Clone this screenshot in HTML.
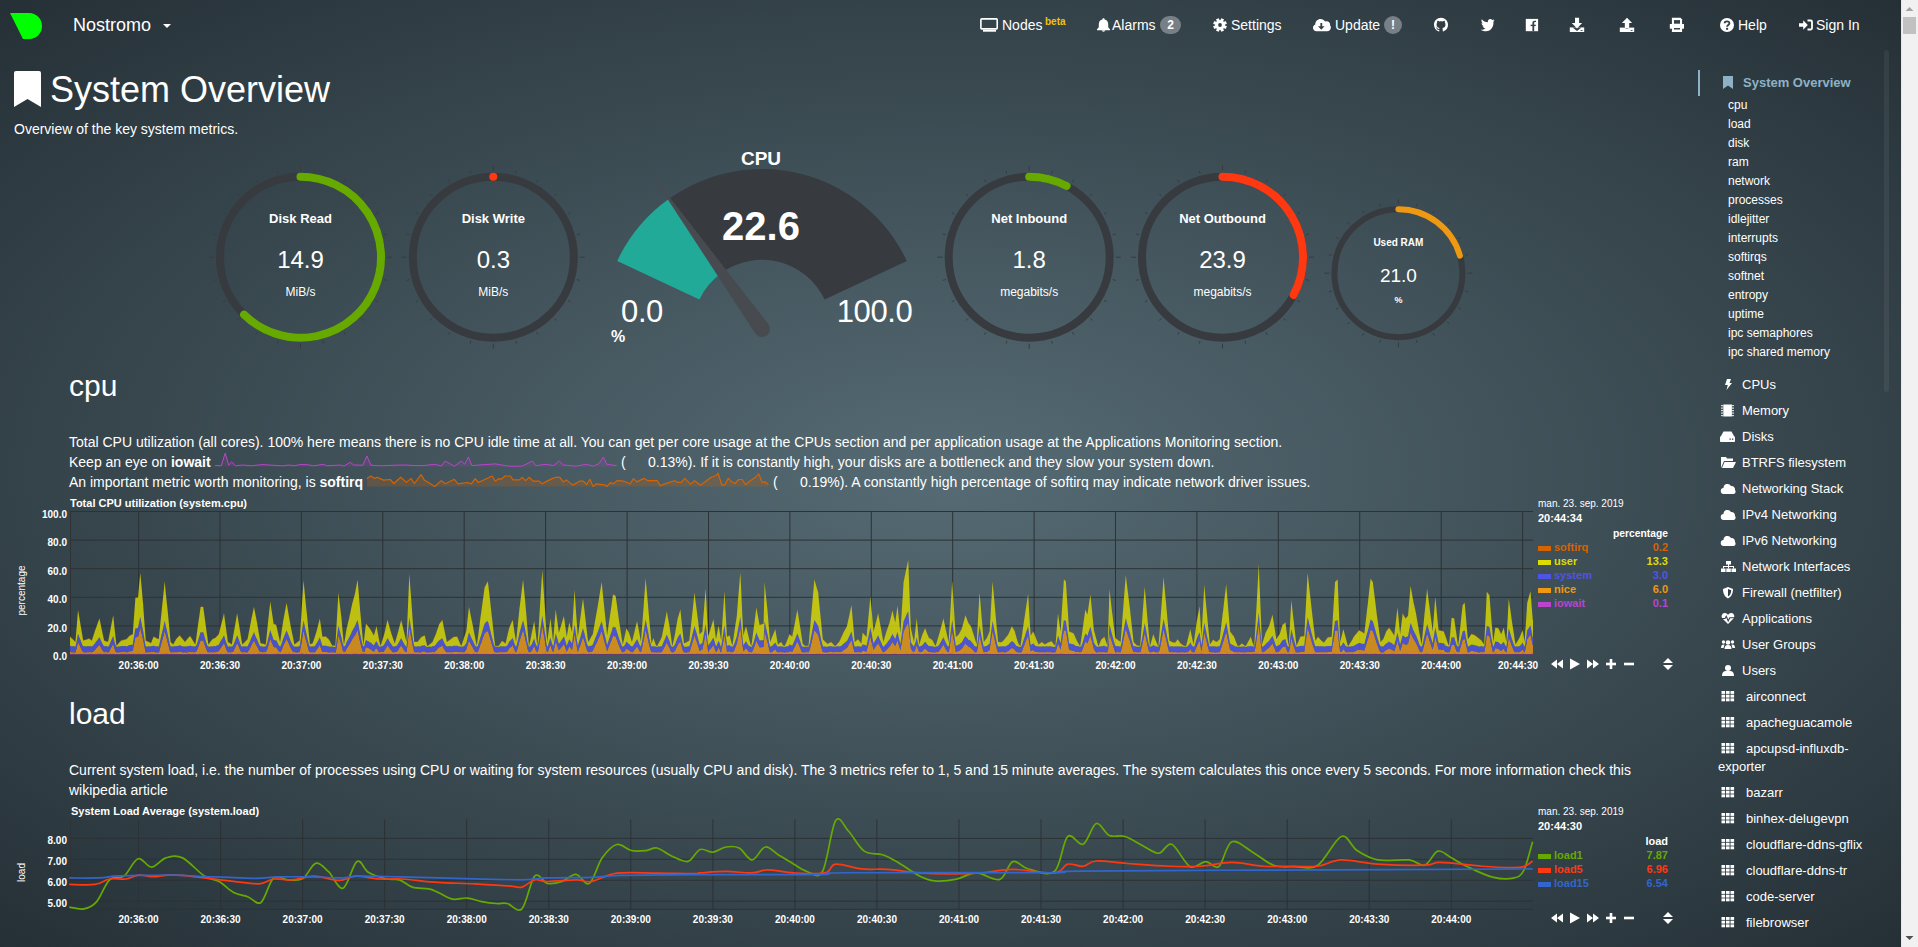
<!DOCTYPE html><html><head><meta charset="utf-8"><style>
html,body{margin:0;padding:0;width:1918px;height:947px;overflow:hidden;background:#272b30;}
body{font-family:"Liberation Sans", sans-serif;position:relative;}
#bg{position:absolute;left:0;top:0;width:1901px;height:947px;background:radial-gradient(ellipse farthest-corner at 50% 50%, rgb(86,107,116) 0%, rgb(37,48,54) 100%);}
.t{position:absolute;white-space:nowrap;}
svg{position:absolute;overflow:visible;}
#sb{position:absolute;left:1901px;top:0;width:17px;height:947px;background:#f1f1f1;}
</style></head><body><div id="bg"></div>
<svg style="left:0;top:0" width="60" height="50"><path d="M10,13 L29.2,13 A12.8,13 0 0 1 29.2,39 L23,39 Z" fill="#00ff00"/></svg>
<div class="t" style="left:73px;top:15px;font-size:18px;line-height:20px;font-weight:normal;color:#fff;">Nostromo</div>
<svg style="left:0;top:0" width="200" height="50"><path d="M163,24 L171,24 L167,28 Z" fill="#fff"/></svg>
<svg style="left:0;top:0" width="1901" height="50"><rect x="980.9" y="18.9" width="16.3" height="10" rx="0.8" fill="none" stroke="#fff" stroke-width="1.6"/><rect x="983" y="29.8" width="13" height="1.9" fill="#fff"/><path d="M1103.5,18.2 C1104.3,18.2 1104.6,18.8 1104.6,19.4 C1106.8,19.9 1108.2,21.6 1108.2,24 L1108.2,26.6 C1108.2,27.6 1109,28.4 1110,29.2 L1110,30.2 L1097,30.2 L1097,29.2 C1098,28.4 1098.8,27.6 1098.8,26.6 L1098.8,24 C1098.8,21.6 1100.2,19.9 1102.4,19.4 C1102.4,18.8 1102.7,18.2 1103.5,18.2 Z M1101.8,30.6 L1105.2,30.6 C1105.2,31.3 1104.4,31.8 1103.5,31.8 C1102.6,31.8 1101.8,31.3 1101.8,30.6 Z" fill="#fff"/><rect x="1218.5" y="18.2" width="3" height="3" fill="#fff" transform="rotate(22.5 1220 25)"/><rect x="1218.5" y="18.2" width="3" height="3" fill="#fff" transform="rotate(67.5 1220 25)"/><rect x="1218.5" y="18.2" width="3" height="3" fill="#fff" transform="rotate(112.5 1220 25)"/><rect x="1218.5" y="18.2" width="3" height="3" fill="#fff" transform="rotate(157.5 1220 25)"/><rect x="1218.5" y="18.2" width="3" height="3" fill="#fff" transform="rotate(202.5 1220 25)"/><rect x="1218.5" y="18.2" width="3" height="3" fill="#fff" transform="rotate(247.5 1220 25)"/><rect x="1218.5" y="18.2" width="3" height="3" fill="#fff" transform="rotate(292.5 1220 25)"/><rect x="1218.5" y="18.2" width="3" height="3" fill="#fff" transform="rotate(337.5 1220 25)"/><circle cx="1220" cy="25" r="4.9" fill="#fff"/><circle cx="1220" cy="25" r="1.9" fill="#33424a"/><path d="M1316.5,31.3 C1314.5,31.3 1313,29.8 1313,27.8 C1313,26.3 1314,25 1315.3,24.6 C1315.3,24.4 1315.3,24.3 1315.3,24.1 C1315.3,21.2 1317.6,18.9 1320.5,18.9 C1322.5,18.9 1324.2,20 1325.1,21.6 C1325.6,21.4 1326.1,21.3 1326.7,21.3 C1328.6,21.3 1330.1,22.8 1330.1,24.7 C1330.1,24.9 1330.1,25 1330,25.2 C1330.5,25.7 1330.9,26.5 1330.9,27.5 C1330.9,29.6 1329.2,31.3 1327.1,31.3 Z" fill="#fff"/><path d="M1320.4,23 L1322.2,23 L1322.2,26.3 L1324.6,26.3 L1321.3,29.8 L1318,26.3 L1320.4,26.3 Z" fill="#33424a"/><g transform="translate(1434,17.8) scale(0.875)"><path fill="#fff" d="M8 0C3.58 0 0 3.58 0 8c0 3.54 2.29 6.53 5.47 7.59.4.07.55-.17.55-.38 0-.19-.01-.82-.01-1.49-2.01.37-2.53-.49-2.69-.94-.09-.23-.48-.94-.82-1.13-.28-.15-.68-.52-.01-.53.63-.01 1.08.58 1.23.82.72 1.210 1.87.87 2.33.66.07-.52.28-.87.51-1.07-1.78-.2-3.64-.89-3.64-3.95 0-.87.31-1.59.82-2.15-.08-.2-.36-1.02.08-2.120 0 0 .67-.21 2.2.82.64-.18 1.32-.27 2-.27.68 0 1.36.09 2 .27 1.53-1.04 2.2-.82 2.2-.82.44 1.100.16 1.92.08 2.12.51.56.82 1.27.82 2.15 0 3.07-1.87 3.75-3.65 3.95.29.25.54.73.54 1.48 0 1.07-.01 1.93-.01 2.2 0 .21.15.46.55.38A8.013 8.013 0 0016 8c0-4.42-3.58-8-8-8z"/></g><path d="M1494.5,20.3 C1494,20.6 1493.4,20.8 1492.8,20.8 C1493.4,20.4 1493.9,19.9 1494.1,19.2 C1493.5,19.5 1492.9,19.8 1492.2,19.9 C1490.6,18.2 1487.6,19.4 1487.8,22.3 C1485.4,22.2 1483.3,21.1 1481.8,19.3 C1481,20.8 1481.6,22.5 1482.9,23.4 C1482.4,23.4 1481.9,23.3 1481.5,23 C1481.5,24.6 1482.6,25.8 1484,26.2 C1483.6,26.3 1483.1,26.4 1482.6,26.3 C1483.1,27.5 1484.2,28.3 1485.5,28.4 C1484.1,29.4 1482.4,29.9 1480.6,29.7 C1488.9,34.5 1494.1,27.8 1493.4,21.8 C1493.9,21.4 1494.3,20.9 1494.5,20.3 Z" fill="#fff"/><rect x="1525.8" y="18.9" width="12.3" height="12.3" fill="#fff"/><path d="M1532.4,31.2 L1532.4,23.2 C1532.4,21.6 1533.3,20.8 1534.8,20.8 L1536,20.8 L1536,22 L1535.2,22 C1534.5,22 1534.2,22.4 1534.2,23 L1534.2,31.2 Z" fill="#33424a"/><rect x="1530.6" y="24.7" width="5.2" height="1.4" fill="#33424a"/><path d="M1569.8,27.4 L1584.2,27.4 L1584.2,32 L1569.8,32 Z" fill="#fff"/><path d="M1572.5,27.4 L1577,31 L1581.5,27.4 Z" fill="#33424a"/><path d="M1575,17.8 L1579.1,17.8 L1579.1,23 L1582.1,23 L1577,28.5 L1571.8,23 L1575,23 Z" fill="#fff"/><rect x="1580.6" y="30" width="2" height="0.8" fill="#33424a"/><path d="M1619.8,27.6 L1634.2,27.6 L1634.2,32 L1619.8,32 Z" fill="#fff"/><path d="M1624,27.6 Q1627,30.5 1630,27.6 Z" fill="#33424a"/><path d="M1627,17.8 L1632.1,23 L1629.2,23 L1629.2,28.5 L1624.8,28.5 L1624.8,23 L1621.9,23 Z" fill="#fff"/><rect x="1630.6" y="30" width="2" height="0.8" fill="#33424a"/><path d="M1671.9,17.8 L1680.5,17.8 L1682.1,19.4 L1682.1,24.1 L1671.9,24.1 Z" fill="#fff"/><rect x="1674" y="20.1" width="6" height="3.6" fill="#33424a"/><path d="M1669.8,24 L1684,24 L1684,28.7 L1669.8,28.7 Z" fill="#fff"/><path d="M1671.9,27.8 L1682.1,27.8 L1682.1,32 L1671.9,32 Z" fill="#fff"/><rect x="1674" y="28" width="6" height="1.5" fill="#33424a"/><circle cx="1727" cy="25" r="7" fill="#fff"/><path d="M1724.6,23.2 C1724.6,20.9 1729.4,20.6 1729.4,23.2 C1729.4,25 1727.1,24.9 1727.1,26.8" fill="none" stroke="#33424a" stroke-width="1.9"/><rect x="1726.1" y="27.8" width="2" height="2" fill="#33424a"/><path d="M1799,23.3 L1803.2,23.3 L1803.2,20.2 L1807.8,25 L1803.2,29.8 L1803.2,26.7 L1799,26.7 Z" fill="#fff"/><path d="M1807.5,20.5 L1810.8,20.5 Q1812,20.5 1812,21.7 L1812,28.3 Q1812,29.5 1810.8,29.5 L1807.5,29.5" fill="none" stroke="#fff" stroke-width="1.8"/></svg>
<div class="t" style="left:1002px;top:17px;font-size:14px;line-height:16px;font-weight:normal;color:#fff;">Nodes</div>
<div class="t" style="left:1045px;top:16px;font-size:10px;line-height:11px;font-weight:bold;color:#f3c10a;">beta</div>
<div class="t" style="left:1112px;top:17px;font-size:14px;line-height:16px;font-weight:normal;color:#fff;">Alarms</div>
<div style="position:absolute;left:1160px;top:16px;width:21px;height:18px;border-radius:9px;background:#777f87;"></div>
<div class="t" style="left:670.5px;width:1000px;text-align:center;top:18px;font-size:12px;line-height:14px;font-weight:bold;color:#fff;">2</div>
<div class="t" style="left:1231px;top:17px;font-size:14px;line-height:16px;font-weight:normal;color:#fff;">Settings</div>
<div class="t" style="left:1335px;top:17px;font-size:14px;line-height:16px;font-weight:normal;color:#fff;">Update</div>
<div style="position:absolute;left:1384px;top:16px;width:18px;height:18px;border-radius:9px;background:#777f87;"></div>
<div class="t" style="left:893px;width:1000px;text-align:center;top:18px;font-size:12px;line-height:14px;font-weight:bold;color:#fff;">!</div>
<div class="t" style="left:1738px;top:17px;font-size:14px;line-height:16px;font-weight:normal;color:#fff;">Help</div>
<div class="t" style="left:1816px;top:17px;font-size:14px;line-height:16px;font-weight:normal;color:#fff;">Sign In</div>
<svg style="left:0;top:0" width="60" height="120"><path d="M14,73 Q14,71 16,71 L39,71 Q41,71 41,73 L41,107 L27.5,99 L14,107 Z" fill="#fff"/></svg>
<div class="t" style="left:50px;top:69px;font-size:36px;line-height:41px;font-weight:normal;color:#fff;">System Overview</div>
<div class="t" style="left:14px;top:121px;font-size:14px;line-height:16px;font-weight:normal;color:#fff;">Overview of the key system metrics.</div>
<svg style="left:0;top:0" width="1" height="1"><line x1="300.50" y1="170.70" x2="300.50" y2="165.70" stroke="#373b40" stroke-width="1"/><line x1="322.89" y1="173.65" x2="323.66" y2="170.75" stroke="#373b40" stroke-width="1"/><line x1="343.75" y1="182.29" x2="345.25" y2="179.69" stroke="#373b40" stroke-width="1"/><line x1="361.66" y1="196.04" x2="363.79" y2="193.91" stroke="#373b40" stroke-width="1"/><line x1="375.41" y1="213.95" x2="378.01" y2="212.45" stroke="#373b40" stroke-width="1"/><line x1="384.05" y1="234.81" x2="386.95" y2="234.04" stroke="#373b40" stroke-width="1"/><line x1="387.00" y1="257.20" x2="392.00" y2="257.20" stroke="#373b40" stroke-width="1"/><line x1="384.05" y1="279.59" x2="386.95" y2="280.36" stroke="#373b40" stroke-width="1"/><line x1="375.41" y1="300.45" x2="378.01" y2="301.95" stroke="#373b40" stroke-width="1"/><line x1="361.66" y1="318.36" x2="363.79" y2="320.49" stroke="#373b40" stroke-width="1"/><line x1="343.75" y1="332.11" x2="345.25" y2="334.71" stroke="#373b40" stroke-width="1"/><line x1="322.89" y1="340.75" x2="323.66" y2="343.65" stroke="#373b40" stroke-width="1"/><line x1="300.50" y1="343.70" x2="300.50" y2="348.70" stroke="#373b40" stroke-width="1"/><line x1="278.11" y1="340.75" x2="277.34" y2="343.65" stroke="#373b40" stroke-width="1"/><line x1="257.25" y1="332.11" x2="255.75" y2="334.71" stroke="#373b40" stroke-width="1"/><line x1="239.34" y1="318.36" x2="237.21" y2="320.49" stroke="#373b40" stroke-width="1"/><line x1="225.59" y1="300.45" x2="222.99" y2="301.95" stroke="#373b40" stroke-width="1"/><line x1="216.95" y1="279.59" x2="214.05" y2="280.36" stroke="#373b40" stroke-width="1"/><line x1="214.00" y1="257.20" x2="209.00" y2="257.20" stroke="#373b40" stroke-width="1"/><line x1="216.95" y1="234.81" x2="214.05" y2="234.04" stroke="#373b40" stroke-width="1"/><line x1="225.59" y1="213.95" x2="222.99" y2="212.45" stroke="#373b40" stroke-width="1"/><line x1="239.34" y1="196.04" x2="237.21" y2="193.91" stroke="#373b40" stroke-width="1"/><line x1="257.25" y1="182.29" x2="255.75" y2="179.69" stroke="#373b40" stroke-width="1"/><line x1="278.11" y1="173.65" x2="277.34" y2="170.75" stroke="#373b40" stroke-width="1"/><circle cx="300.5" cy="257.2" r="80.5" fill="none" stroke="#373b40" stroke-width="8"/><path d="M300.5,176.7 A80.5,80.5 0 1 1 244.08,314.62" stroke="#66AA00" stroke-width="8" stroke-linecap="round" fill="none"/></svg>
<div class="t" style="left:-199.5px;width:1000px;text-align:center;top:211px;font-size:13px;line-height:15px;font-weight:bold;color:#fff;">Disk Read</div>
<div class="t" style="left:-199.5px;width:1000px;text-align:center;top:246px;font-size:24px;line-height:27px;font-weight:normal;color:#fff;">14.9</div>
<div class="t" style="left:-199.5px;width:1000px;text-align:center;top:285px;font-size:12px;line-height:14px;font-weight:normal;color:#fff;">MiB/s</div>
<svg style="left:0;top:0" width="1" height="1"><line x1="493.30" y1="170.70" x2="493.30" y2="165.70" stroke="#373b40" stroke-width="1"/><line x1="515.69" y1="173.65" x2="516.46" y2="170.75" stroke="#373b40" stroke-width="1"/><line x1="536.55" y1="182.29" x2="538.05" y2="179.69" stroke="#373b40" stroke-width="1"/><line x1="554.46" y1="196.04" x2="556.59" y2="193.91" stroke="#373b40" stroke-width="1"/><line x1="568.21" y1="213.95" x2="570.81" y2="212.45" stroke="#373b40" stroke-width="1"/><line x1="576.85" y1="234.81" x2="579.75" y2="234.04" stroke="#373b40" stroke-width="1"/><line x1="579.80" y1="257.20" x2="584.80" y2="257.20" stroke="#373b40" stroke-width="1"/><line x1="576.85" y1="279.59" x2="579.75" y2="280.36" stroke="#373b40" stroke-width="1"/><line x1="568.21" y1="300.45" x2="570.81" y2="301.95" stroke="#373b40" stroke-width="1"/><line x1="554.46" y1="318.36" x2="556.59" y2="320.49" stroke="#373b40" stroke-width="1"/><line x1="536.55" y1="332.11" x2="538.05" y2="334.71" stroke="#373b40" stroke-width="1"/><line x1="515.69" y1="340.75" x2="516.46" y2="343.65" stroke="#373b40" stroke-width="1"/><line x1="493.30" y1="343.70" x2="493.30" y2="348.70" stroke="#373b40" stroke-width="1"/><line x1="470.91" y1="340.75" x2="470.14" y2="343.65" stroke="#373b40" stroke-width="1"/><line x1="450.05" y1="332.11" x2="448.55" y2="334.71" stroke="#373b40" stroke-width="1"/><line x1="432.14" y1="318.36" x2="430.01" y2="320.49" stroke="#373b40" stroke-width="1"/><line x1="418.39" y1="300.45" x2="415.79" y2="301.95" stroke="#373b40" stroke-width="1"/><line x1="409.75" y1="279.59" x2="406.85" y2="280.36" stroke="#373b40" stroke-width="1"/><line x1="406.80" y1="257.20" x2="401.80" y2="257.20" stroke="#373b40" stroke-width="1"/><line x1="409.75" y1="234.81" x2="406.85" y2="234.04" stroke="#373b40" stroke-width="1"/><line x1="418.39" y1="213.95" x2="415.79" y2="212.45" stroke="#373b40" stroke-width="1"/><line x1="432.14" y1="196.04" x2="430.01" y2="193.91" stroke="#373b40" stroke-width="1"/><line x1="450.05" y1="182.29" x2="448.55" y2="179.69" stroke="#373b40" stroke-width="1"/><line x1="470.91" y1="173.65" x2="470.14" y2="170.75" stroke="#373b40" stroke-width="1"/><circle cx="493.3" cy="257.2" r="80.5" fill="none" stroke="#373b40" stroke-width="8"/><path d="M493.3,176.7 L493.31,176.7" stroke="#FE3912" stroke-width="8" stroke-linecap="round" fill="none"/></svg>
<div class="t" style="left:-6.699999999999989px;width:1000px;text-align:center;top:211px;font-size:13px;line-height:15px;font-weight:bold;color:#fff;">Disk Write</div>
<div class="t" style="left:-6.699999999999989px;width:1000px;text-align:center;top:246px;font-size:24px;line-height:27px;font-weight:normal;color:#fff;">0.3</div>
<div class="t" style="left:-6.699999999999989px;width:1000px;text-align:center;top:285px;font-size:12px;line-height:14px;font-weight:normal;color:#fff;">MiB/s</div>
<svg style="left:0;top:0" width="1" height="1"><line x1="1029.20" y1="170.70" x2="1029.20" y2="165.70" stroke="#373b40" stroke-width="1"/><line x1="1051.59" y1="173.65" x2="1052.36" y2="170.75" stroke="#373b40" stroke-width="1"/><line x1="1072.45" y1="182.29" x2="1073.95" y2="179.69" stroke="#373b40" stroke-width="1"/><line x1="1090.36" y1="196.04" x2="1092.49" y2="193.91" stroke="#373b40" stroke-width="1"/><line x1="1104.11" y1="213.95" x2="1106.71" y2="212.45" stroke="#373b40" stroke-width="1"/><line x1="1112.75" y1="234.81" x2="1115.65" y2="234.04" stroke="#373b40" stroke-width="1"/><line x1="1115.70" y1="257.20" x2="1120.70" y2="257.20" stroke="#373b40" stroke-width="1"/><line x1="1112.75" y1="279.59" x2="1115.65" y2="280.36" stroke="#373b40" stroke-width="1"/><line x1="1104.11" y1="300.45" x2="1106.71" y2="301.95" stroke="#373b40" stroke-width="1"/><line x1="1090.36" y1="318.36" x2="1092.49" y2="320.49" stroke="#373b40" stroke-width="1"/><line x1="1072.45" y1="332.11" x2="1073.95" y2="334.71" stroke="#373b40" stroke-width="1"/><line x1="1051.59" y1="340.75" x2="1052.36" y2="343.65" stroke="#373b40" stroke-width="1"/><line x1="1029.20" y1="343.70" x2="1029.20" y2="348.70" stroke="#373b40" stroke-width="1"/><line x1="1006.81" y1="340.75" x2="1006.04" y2="343.65" stroke="#373b40" stroke-width="1"/><line x1="985.95" y1="332.11" x2="984.45" y2="334.71" stroke="#373b40" stroke-width="1"/><line x1="968.04" y1="318.36" x2="965.91" y2="320.49" stroke="#373b40" stroke-width="1"/><line x1="954.29" y1="300.45" x2="951.69" y2="301.95" stroke="#373b40" stroke-width="1"/><line x1="945.65" y1="279.59" x2="942.75" y2="280.36" stroke="#373b40" stroke-width="1"/><line x1="942.70" y1="257.20" x2="937.70" y2="257.20" stroke="#373b40" stroke-width="1"/><line x1="945.65" y1="234.81" x2="942.75" y2="234.04" stroke="#373b40" stroke-width="1"/><line x1="954.29" y1="213.95" x2="951.69" y2="212.45" stroke="#373b40" stroke-width="1"/><line x1="968.04" y1="196.04" x2="965.91" y2="193.91" stroke="#373b40" stroke-width="1"/><line x1="985.95" y1="182.29" x2="984.45" y2="179.69" stroke="#373b40" stroke-width="1"/><line x1="1006.81" y1="173.65" x2="1006.04" y2="170.75" stroke="#373b40" stroke-width="1"/><circle cx="1029.2" cy="257.2" r="80.5" fill="none" stroke="#373b40" stroke-width="8"/><path d="M1029.2,176.7 A80.5,80.5 0 0 1 1066.62,185.93" stroke="#66AA00" stroke-width="8" stroke-linecap="round" fill="none"/></svg>
<div class="t" style="left:529.2px;width:1000px;text-align:center;top:211px;font-size:13px;line-height:15px;font-weight:bold;color:#fff;">Net Inbound</div>
<div class="t" style="left:529.2px;width:1000px;text-align:center;top:246px;font-size:24px;line-height:27px;font-weight:normal;color:#fff;">1.8</div>
<div class="t" style="left:529.2px;width:1000px;text-align:center;top:285px;font-size:12px;line-height:14px;font-weight:normal;color:#fff;">megabits/s</div>
<svg style="left:0;top:0" width="1" height="1"><line x1="1222.50" y1="170.70" x2="1222.50" y2="165.70" stroke="#373b40" stroke-width="1"/><line x1="1244.89" y1="173.65" x2="1245.66" y2="170.75" stroke="#373b40" stroke-width="1"/><line x1="1265.75" y1="182.29" x2="1267.25" y2="179.69" stroke="#373b40" stroke-width="1"/><line x1="1283.66" y1="196.04" x2="1285.79" y2="193.91" stroke="#373b40" stroke-width="1"/><line x1="1297.41" y1="213.95" x2="1300.01" y2="212.45" stroke="#373b40" stroke-width="1"/><line x1="1306.05" y1="234.81" x2="1308.95" y2="234.04" stroke="#373b40" stroke-width="1"/><line x1="1309.00" y1="257.20" x2="1314.00" y2="257.20" stroke="#373b40" stroke-width="1"/><line x1="1306.05" y1="279.59" x2="1308.95" y2="280.36" stroke="#373b40" stroke-width="1"/><line x1="1297.41" y1="300.45" x2="1300.01" y2="301.95" stroke="#373b40" stroke-width="1"/><line x1="1283.66" y1="318.36" x2="1285.79" y2="320.49" stroke="#373b40" stroke-width="1"/><line x1="1265.75" y1="332.11" x2="1267.25" y2="334.71" stroke="#373b40" stroke-width="1"/><line x1="1244.89" y1="340.75" x2="1245.66" y2="343.65" stroke="#373b40" stroke-width="1"/><line x1="1222.50" y1="343.70" x2="1222.50" y2="348.70" stroke="#373b40" stroke-width="1"/><line x1="1200.11" y1="340.75" x2="1199.34" y2="343.65" stroke="#373b40" stroke-width="1"/><line x1="1179.25" y1="332.11" x2="1177.75" y2="334.71" stroke="#373b40" stroke-width="1"/><line x1="1161.34" y1="318.36" x2="1159.21" y2="320.49" stroke="#373b40" stroke-width="1"/><line x1="1147.59" y1="300.45" x2="1144.99" y2="301.95" stroke="#373b40" stroke-width="1"/><line x1="1138.95" y1="279.59" x2="1136.05" y2="280.36" stroke="#373b40" stroke-width="1"/><line x1="1136.00" y1="257.20" x2="1131.00" y2="257.20" stroke="#373b40" stroke-width="1"/><line x1="1138.95" y1="234.81" x2="1136.05" y2="234.04" stroke="#373b40" stroke-width="1"/><line x1="1147.59" y1="213.95" x2="1144.99" y2="212.45" stroke="#373b40" stroke-width="1"/><line x1="1161.34" y1="196.04" x2="1159.21" y2="193.91" stroke="#373b40" stroke-width="1"/><line x1="1179.25" y1="182.29" x2="1177.75" y2="179.69" stroke="#373b40" stroke-width="1"/><line x1="1200.11" y1="173.65" x2="1199.34" y2="170.75" stroke="#373b40" stroke-width="1"/><circle cx="1222.5" cy="257.2" r="80.5" fill="none" stroke="#373b40" stroke-width="8"/><path d="M1222.5,176.7 A80.5,80.5 0 0 1 1293.58,294.99" stroke="#FE3912" stroke-width="8" stroke-linecap="round" fill="none"/></svg>
<div class="t" style="left:722.5px;width:1000px;text-align:center;top:211px;font-size:13px;line-height:15px;font-weight:bold;color:#fff;">Net Outbound</div>
<div class="t" style="left:722.5px;width:1000px;text-align:center;top:246px;font-size:24px;line-height:27px;font-weight:normal;color:#fff;">23.9</div>
<div class="t" style="left:722.5px;width:1000px;text-align:center;top:285px;font-size:12px;line-height:14px;font-weight:normal;color:#fff;">megabits/s</div>
<svg style="left:0;top:0" width="1" height="1"><line x1="1398.40" y1="204.20" x2="1398.40" y2="199.20" stroke="#373b40" stroke-width="1"/><line x1="1416.26" y1="206.55" x2="1417.03" y2="203.65" stroke="#373b40" stroke-width="1"/><line x1="1432.90" y1="213.44" x2="1434.40" y2="210.85" stroke="#373b40" stroke-width="1"/><line x1="1447.19" y1="224.41" x2="1449.31" y2="222.29" stroke="#373b40" stroke-width="1"/><line x1="1458.16" y1="238.70" x2="1460.75" y2="237.20" stroke="#373b40" stroke-width="1"/><line x1="1465.05" y1="255.34" x2="1467.95" y2="254.57" stroke="#373b40" stroke-width="1"/><line x1="1467.40" y1="273.20" x2="1472.40" y2="273.20" stroke="#373b40" stroke-width="1"/><line x1="1465.05" y1="291.06" x2="1467.95" y2="291.83" stroke="#373b40" stroke-width="1"/><line x1="1458.16" y1="307.70" x2="1460.75" y2="309.20" stroke="#373b40" stroke-width="1"/><line x1="1447.19" y1="321.99" x2="1449.31" y2="324.11" stroke="#373b40" stroke-width="1"/><line x1="1432.90" y1="332.96" x2="1434.40" y2="335.55" stroke="#373b40" stroke-width="1"/><line x1="1416.26" y1="339.85" x2="1417.03" y2="342.75" stroke="#373b40" stroke-width="1"/><line x1="1398.40" y1="342.20" x2="1398.40" y2="347.20" stroke="#373b40" stroke-width="1"/><line x1="1380.54" y1="339.85" x2="1379.77" y2="342.75" stroke="#373b40" stroke-width="1"/><line x1="1363.90" y1="332.96" x2="1362.40" y2="335.55" stroke="#373b40" stroke-width="1"/><line x1="1349.61" y1="321.99" x2="1347.49" y2="324.11" stroke="#373b40" stroke-width="1"/><line x1="1338.64" y1="307.70" x2="1336.05" y2="309.20" stroke="#373b40" stroke-width="1"/><line x1="1331.75" y1="291.06" x2="1328.85" y2="291.83" stroke="#373b40" stroke-width="1"/><line x1="1329.40" y1="273.20" x2="1324.40" y2="273.20" stroke="#373b40" stroke-width="1"/><line x1="1331.75" y1="255.34" x2="1328.85" y2="254.57" stroke="#373b40" stroke-width="1"/><line x1="1338.64" y1="238.70" x2="1336.05" y2="237.20" stroke="#373b40" stroke-width="1"/><line x1="1349.61" y1="224.41" x2="1347.49" y2="222.29" stroke="#373b40" stroke-width="1"/><line x1="1363.90" y1="213.44" x2="1362.40" y2="210.85" stroke="#373b40" stroke-width="1"/><line x1="1380.54" y1="206.55" x2="1379.77" y2="203.65" stroke="#373b40" stroke-width="1"/><circle cx="1398.4" cy="273.2" r="64.0" fill="none" stroke="#373b40" stroke-width="6"/><path d="M1398.4,209.2 A64.0,64.0 0 0 1 1459.92,255.56" stroke="#EE9911" stroke-width="6" stroke-linecap="round" fill="none"/></svg>
<div class="t" style="left:898.4000000000001px;width:1000px;text-align:center;top:237px;font-size:10px;line-height:11px;font-weight:bold;color:#fff;">Used RAM</div>
<div class="t" style="left:898.4000000000001px;width:1000px;text-align:center;top:265px;font-size:19px;line-height:21px;font-weight:normal;color:#fff;">21.0</div>
<div class="t" style="left:898.4000000000001px;width:1000px;text-align:center;top:295px;font-size:9px;line-height:10px;font-weight:bold;color:#fff;">%</div>
<svg style="left:0;top:0" width="1" height="1"><path d="M669.06,198.76 A160,160 0 0 1 906.77,260.88 L824.61,299.54 A69.2,69.2 0 0 0 721.81,272.67 Z" fill="#373b40"/><path d="M617.23,260.88 A160,160 0 0 1 669.06,198.76 L721.81,272.67 A69.2,69.2 0 0 0 699.39,299.54 Z" fill="#22AA99"/><circle cx="762" cy="329" r="8" fill="#474b50"/><path d="M755.49,333.65 L648.73,170.27 L768.51,324.35 Z" fill="#474b50"/></svg>
<div class="t" style="left:261px;width:1000px;text-align:center;top:148px;font-size:19px;line-height:21px;font-weight:bold;color:#fff;">CPU</div>
<div class="t" style="left:261px;width:1000px;text-align:center;top:204px;font-size:40px;line-height:44px;font-weight:bold;color:#fff;">22.6</div>
<div class="t" style="left:142px;width:1000px;text-align:center;top:294px;font-size:31px;line-height:35px;font-weight:normal;color:#fff;letter-spacing:-0.4px;">0.0</div>
<div class="t" style="left:374.5px;width:1000px;text-align:center;top:294px;font-size:31px;line-height:35px;font-weight:normal;color:#fff;letter-spacing:-0.4px;">100.0</div>
<div class="t" style="left:611px;top:328px;font-size:16px;line-height:17px;font-weight:bold;color:#fff;">%</div>
<div class="t" style="left:69px;top:369px;font-size:30px;line-height:33px;font-weight:normal;color:#fff;">cpu</div>
<div class="t" style="left:69px;top:434px;font-size:14px;line-height:16px;font-weight:normal;color:#fff;">Total CPU utilization (all cores). 100% here means there is no CPU idle time at all. You can get per core usage at the CPUs section and per application usage at the Applications Monitoring section.</div>
<div class="t" style="left:69px;top:454px;font-size:14px;line-height:16px;font-weight:normal;color:#fff;">Keep an eye on <b>iowait</b></div>
<div class="t" style="left:621px;top:454px;font-size:14px;line-height:16px;font-weight:normal;color:#fff;">(</div>
<div class="t" style="left:648px;top:454px;font-size:14px;line-height:16px;font-weight:normal;color:#fff;">0.13%). If it is constantly high, your disks are a bottleneck and they slow your system down.</div>
<div class="t" style="left:69px;top:474px;font-size:14px;line-height:16px;font-weight:normal;color:#fff;">An important metric worth monitoring, is <b>softirq</b></div>
<div class="t" style="left:773px;top:474px;font-size:14px;line-height:16px;font-weight:normal;color:#fff;">(</div>
<div class="t" style="left:800px;top:474px;font-size:14px;line-height:16px;font-weight:normal;color:#fff;">0.19%). A constantly high percentage of softirq may indicate network driver issues.</div>
<div class="t" style="left:69px;top:697px;font-size:30px;line-height:33px;font-weight:normal;color:#fff;">load</div>
<div class="t" style="left:69px;top:762px;font-size:14px;line-height:16px;font-weight:normal;color:#fff;">Current system load, i.e. the number of processes using CPU or waiting for system resources (usually CPU and disk). The 3 metrics refer to 1, 5 and 15 minute averages. The system calculates this once every 5 seconds. For more information check this</div>
<div class="t" style="left:69px;top:782px;font-size:14px;line-height:16px;font-weight:normal;color:#fff;">wikipedia article</div>
<svg style="left:0;top:0" width="1" height="1"><polygon points="215.1,466.5 215.1,465.4 221.2,465.8 225.2,453.2 228.7,465.2 231.5,461.8 235.6,465.8 242.4,465.0 251.6,465.8 261.9,464.6 282.6,465.8 289.4,465.0 294.0,465.8 299.8,464.6 306.7,464.6 313.5,465.8 323.3,464.4 327.3,465.8 339.9,465.0 343.9,466.1 350.2,462.3 353.7,465.0 362.8,465.2 366.9,456.0 370.9,465.2 381.2,465.8 395.0,465.2 406.4,465.0 414.0,465.6 423.0,465.6 434.8,464.3 441.3,466.0 445.2,461.0 454.3,466.2 461.5,461.0 464.7,464.3 468.4,456.9 471.9,465.6 483.0,464.7 495.4,463.9 501.2,464.9 509.1,466.2 522.1,466.2 532.5,461.0 535.8,465.6 546.2,464.3 553.4,465.6 559.2,461.0 563.2,464.9 575.5,466.2 586.6,464.3 593.1,466.2 599.0,463.6 603.3,457.1 606.8,464.3 616.6,465.6 616.6,466.5" fill="rgba(187,68,204,0.15)"/><polyline points="215.1,465.4 221.2,465.8 225.2,453.2 228.7,465.2 231.5,461.8 235.6,465.8 242.4,465.0 251.6,465.8 261.9,464.6 282.6,465.8 289.4,465.0 294.0,465.8 299.8,464.6 306.7,464.6 313.5,465.8 323.3,464.4 327.3,465.8 339.9,465.0 343.9,466.1 350.2,462.3 353.7,465.0 362.8,465.2 366.9,456.0 370.9,465.2 381.2,465.8 395.0,465.2 406.4,465.0 414.0,465.6 423.0,465.6 434.8,464.3 441.3,466.0 445.2,461.0 454.3,466.2 461.5,461.0 464.7,464.3 468.4,456.9 471.9,465.6 483.0,464.7 495.4,463.9 501.2,464.9 509.1,466.2 522.1,466.2 532.5,461.0 535.8,465.6 546.2,464.3 553.4,465.6 559.2,461.0 563.2,464.9 575.5,466.2 586.6,464.3 593.1,466.2 599.0,463.6 603.3,457.1 606.8,464.3 616.6,465.6" fill="none" stroke="#BB44CC" stroke-width="1.0" stroke-linejoin="round"/></svg>
<svg style="left:0;top:0" width="1" height="1"><polygon points="366.9,486.5 366.9,478.4 370.9,476.1 374.3,478.4 377.2,477.2 383.5,480.1 390.4,479.5 393.8,483.5 400.7,477.2 406.4,482.4 411.0,478.4 414.4,483.5 421.1,474.7 424.3,479.9 434.8,486.5 441.3,480.6 445.2,483.8 454.3,479.3 458.2,483.8 467.4,482.5 471.3,483.8 475.2,478.6 478.4,482.5 492.1,476.0 495.4,481.2 498.6,478.6 501.2,479.3 505.2,476.0 510.4,476.0 513.0,479.9 519.5,479.9 522.1,477.3 525.4,480.6 529.3,477.3 533.2,481.2 539.0,481.2 542.3,483.8 545.6,481.9 552.1,478.6 556.0,477.3 559.9,477.3 563.2,481.9 566.4,479.9 572.9,485.1 579.5,481.2 583.4,481.2 586.6,484.5 589.9,479.3 593.1,486.5 596.4,483.8 605.5,485.1 606.8,486.5 610.7,482.5 613.3,483.8 617.2,480.6 623.8,481.2 630.3,483.8 633.5,478.6 636.8,481.9 644.0,478.4 648.0,480.7 657.2,480.7 660.6,485.8 664.1,484.1 674.4,480.7 677.8,482.4 681.3,482.4 684.7,478.4 690.5,484.1 694.5,480.7 700.8,485.3 704.2,482.4 711.1,477.2 716.3,475.5 718.0,473.2 722.0,485.3 724.9,484.7 728.3,478.4 731.7,481.8 735.2,483.5 738.6,479.5 742.1,479.5 745.5,484.7 748.9,481.8 754.7,477.8 758.7,473.8 762.1,482.4 765.0,481.8 768.4,484.7 768.4,486.5" fill="rgba(214,99,0,0.22)"/><polyline points="366.9,478.4 370.9,476.1 374.3,478.4 377.2,477.2 383.5,480.1 390.4,479.5 393.8,483.5 400.7,477.2 406.4,482.4 411.0,478.4 414.4,483.5 421.1,474.7 424.3,479.9 434.8,486.5 441.3,480.6 445.2,483.8 454.3,479.3 458.2,483.8 467.4,482.5 471.3,483.8 475.2,478.6 478.4,482.5 492.1,476.0 495.4,481.2 498.6,478.6 501.2,479.3 505.2,476.0 510.4,476.0 513.0,479.9 519.5,479.9 522.1,477.3 525.4,480.6 529.3,477.3 533.2,481.2 539.0,481.2 542.3,483.8 545.6,481.9 552.1,478.6 556.0,477.3 559.9,477.3 563.2,481.9 566.4,479.9 572.9,485.1 579.5,481.2 583.4,481.2 586.6,484.5 589.9,479.3 593.1,486.5 596.4,483.8 605.5,485.1 606.8,486.5 610.7,482.5 613.3,483.8 617.2,480.6 623.8,481.2 630.3,483.8 633.5,478.6 636.8,481.9 644.0,478.4 648.0,480.7 657.2,480.7 660.6,485.8 664.1,484.1 674.4,480.7 677.8,482.4 681.3,482.4 684.7,478.4 690.5,484.1 694.5,480.7 700.8,485.3 704.2,482.4 711.1,477.2 716.3,475.5 718.0,473.2 722.0,485.3 724.9,484.7 728.3,478.4 731.7,481.8 735.2,483.5 738.6,479.5 742.1,479.5 745.5,484.7 748.9,481.8 754.7,477.8 758.7,473.8 762.1,482.4 765.0,481.8 768.4,484.7" fill="none" stroke="#D66300" stroke-width="1.2" stroke-linejoin="round"/></svg>
<svg style="left:0;top:0" width="1" height="1"><line x1="70.5" y1="511.5" x2="70.5" y2="654.5" stroke="#2c3236" stroke-width="1"/><line x1="138.6" y1="511.5" x2="138.6" y2="654.5" stroke="#2c3236" stroke-width="1"/><line x1="220.0" y1="511.5" x2="220.0" y2="654.5" stroke="#2c3236" stroke-width="1"/><line x1="301.4" y1="511.5" x2="301.4" y2="654.5" stroke="#2c3236" stroke-width="1"/><line x1="382.8" y1="511.5" x2="382.8" y2="654.5" stroke="#2c3236" stroke-width="1"/><line x1="464.2" y1="511.5" x2="464.2" y2="654.5" stroke="#2c3236" stroke-width="1"/><line x1="545.6" y1="511.5" x2="545.6" y2="654.5" stroke="#2c3236" stroke-width="1"/><line x1="627.1" y1="511.5" x2="627.1" y2="654.5" stroke="#2c3236" stroke-width="1"/><line x1="708.5" y1="511.5" x2="708.5" y2="654.5" stroke="#2c3236" stroke-width="1"/><line x1="789.9" y1="511.5" x2="789.9" y2="654.5" stroke="#2c3236" stroke-width="1"/><line x1="871.3" y1="511.5" x2="871.3" y2="654.5" stroke="#2c3236" stroke-width="1"/><line x1="952.7" y1="511.5" x2="952.7" y2="654.5" stroke="#2c3236" stroke-width="1"/><line x1="1034.1" y1="511.5" x2="1034.1" y2="654.5" stroke="#2c3236" stroke-width="1"/><line x1="1115.5" y1="511.5" x2="1115.5" y2="654.5" stroke="#2c3236" stroke-width="1"/><line x1="1196.9" y1="511.5" x2="1196.9" y2="654.5" stroke="#2c3236" stroke-width="1"/><line x1="1278.3" y1="511.5" x2="1278.3" y2="654.5" stroke="#2c3236" stroke-width="1"/><line x1="1359.7" y1="511.5" x2="1359.7" y2="654.5" stroke="#2c3236" stroke-width="1"/><line x1="1441.2" y1="511.5" x2="1441.2" y2="654.5" stroke="#2c3236" stroke-width="1"/><line x1="1522.6" y1="511.5" x2="1522.6" y2="654.5" stroke="#2c3236" stroke-width="1"/><line x1="70" y1="654.5" x2="1533" y2="654.5" stroke="#2c3236" stroke-width="1"/><line x1="70" y1="625.9" x2="1533" y2="625.9" stroke="#2c3236" stroke-width="1"/><line x1="70" y1="597.3" x2="1533" y2="597.3" stroke="#2c3236" stroke-width="1"/><line x1="70" y1="568.7" x2="1533" y2="568.7" stroke="#2c3236" stroke-width="1"/><line x1="70" y1="540.1" x2="1533" y2="540.1" stroke="#2c3236" stroke-width="1"/><line x1="70" y1="511.5" x2="1533" y2="511.5" stroke="#2c3236" stroke-width="1"/><polygon points="70.0,654.08 70.2,653.90 71.3,654.00 72.7,653.87 74.0,653.86 75.4,654.18 76.8,654.21 78.0,653.73 78.1,654.07 79.5,654.08 80.8,653.64 82.2,653.95 83.2,653.74 83.5,653.94 84.8,653.85 86.2,654.13 87.2,653.85 87.5,653.72 88.9,653.91 89.1,653.79 90.2,653.83 91.6,654.18 91.7,653.78 93.0,653.88 94.3,654.04 95.6,654.20 95.7,653.72 97.0,653.94 98.3,653.80 99.5,653.71 99.7,653.81 101.0,653.69 102.4,653.99 103.8,653.76 104.1,653.96 105.1,653.68 106.5,653.71 107.8,654.16 108.0,654.14 109.2,654.09 110.5,653.66 111.8,653.96 113.2,653.86 114.5,654.04 115.9,653.92 116.5,653.99 117.2,654.01 118.6,653.88 120.0,653.88 121.0,653.70 121.3,653.82 122.7,653.68 124.0,653.72 125.3,653.65 126.3,653.83 126.7,654.12 128.1,653.72 129.4,653.66 129.6,653.70 130.8,653.89 132.1,653.81 132.8,654.09 133.4,653.74 134.8,653.89 135.4,654.05 136.2,654.18 137.5,653.73 138.0,653.65 138.8,654.16 140.2,653.76 140.3,653.98 141.6,654.13 142.9,654.05 143.1,653.77 144.2,653.71 145.6,654.19 145.8,653.86 146.9,654.19 148.3,653.80 149.7,654.02 151.0,653.71 152.3,653.65 153.6,653.92 153.7,653.64 155.1,654.04 156.4,654.17 157.8,653.87 158.8,654.20 159.1,654.10 160.4,653.98 161.8,653.86 161.8,654.12 163.2,654.19 164.5,653.72 164.7,654.03 165.8,653.67 167.2,653.70 167.7,654.00 168.6,653.95 169.9,653.92 170.6,653.85 171.2,653.87 172.6,653.89 173.2,653.86 173.9,653.68 175.3,653.92 176.4,653.97 176.7,653.80 178.0,654.08 179.3,654.04 179.7,653.65 180.7,653.92 182.1,653.90 183.4,654.21 184.8,653.98 184.9,653.88 186.1,654.20 187.4,653.86 188.8,653.85 190.1,654.18 190.2,653.86 191.5,653.95 192.8,653.83 194.2,654.01 195.3,653.81 195.6,653.79 196.9,654.20 198.2,654.18 199.6,653.83 200.6,653.66 200.9,654.07 202.3,653.95 203.2,653.87 203.7,654.03 205.0,654.01 206.3,654.04 207.7,654.00 208.4,653.87 209.1,654.04 210.4,654.00 211.8,653.77 212.3,654.20 213.1,653.89 214.4,653.79 215.6,654.04 215.8,654.09 217.2,653.75 218.5,654.08 218.8,654.11 219.8,653.97 221.2,653.81 222.6,654.16 223.9,654.03 224.0,654.02 225.2,653.74 226.6,653.96 227.9,653.72 227.9,654.12 229.3,654.02 230.7,653.84 231.8,653.71 232.0,653.96 233.3,654.09 234.7,654.14 236.1,653.91 237.1,654.10 237.4,653.75 238.8,653.73 240.1,654.11 241.4,654.05 242.3,653.75 242.8,653.85 244.2,653.75 245.5,654.02 246.8,654.14 247.5,654.05 248.2,653.76 249.6,654.06 250.8,654.02 250.9,653.98 252.2,653.97 253.6,653.98 254.0,653.69 254.9,654.12 256.3,654.21 257.2,653.67 257.6,653.71 259.0,653.65 260.4,653.97 260.5,653.67 261.7,653.68 263.1,654.09 264.4,653.79 265.7,653.74 265.8,653.83 267.1,653.92 268.4,654.05 269.8,654.02 270.3,654.08 271.1,654.18 272.5,653.88 273.6,654.05 273.9,653.75 275.2,654.19 276.2,653.70 276.6,653.82 277.9,653.69 279.2,653.70 280.1,653.70 280.6,653.88 281.9,654.21 283.3,653.79 283.4,654.12 284.6,654.04 286.0,653.83 286.6,653.91 287.4,653.98 288.7,653.68 290.1,653.86 290.5,654.02 291.4,654.07 292.8,653.72 294.1,653.94 294.4,653.77 295.4,654.01 296.8,654.10 298.1,653.91 299.5,653.75 299.6,654.12 300.9,653.76 302.2,653.69 303.5,653.75 303.6,653.74 304.9,654.21 306.2,653.85 306.8,653.72 307.6,654.19 308.9,654.06 310.0,654.06 310.3,653.91 311.6,653.97 312.7,653.94 313.0,653.77 314.4,654.21 315.7,654.18 316.2,654.14 317.1,654.14 318.4,654.17 319.8,653.66 319.8,653.73 321.1,654.16 322.4,653.93 322.4,654.03 323.8,654.03 325.1,654.01 325.6,653.84 326.5,653.88 327.9,654.01 328.9,654.10 329.2,654.03 330.6,654.14 331.9,653.90 332.1,653.80 333.2,654.00 334.6,654.17 335.4,654.11 335.9,654.00 337.3,653.87 338.4,653.77 338.6,654.00 340.0,653.76 341.1,653.86 341.4,653.97 342.7,654.00 343.9,653.93 344.1,653.81 345.4,653.97 346.6,653.82 346.8,653.95 348.1,654.07 349.4,653.91 349.4,653.82 350.8,654.17 352.1,653.97 352.1,653.97 353.5,653.71 354.9,653.68 354.9,654.00 356.2,653.70 357.6,653.76 357.6,654.06 358.9,653.95 360.2,654.14 360.5,653.75 361.6,653.84 362.9,653.71 363.4,653.76 364.3,653.83 365.6,653.79 366.0,653.89 367.0,654.16 368.4,653.88 369.7,654.21 369.9,654.13 371.1,653.77 372.4,654.19 373.8,654.16 373.9,654.16 375.1,653.71 376.4,654.11 376.5,654.20 377.8,653.73 379.1,654.14 380.4,653.73 380.5,653.83 381.9,653.74 383.2,653.67 384.0,653.88 384.6,653.76 385.9,654.19 387.2,653.78 387.6,653.92 388.6,653.80 389.9,654.15 391.1,653.79 391.3,653.68 392.6,654.18 394.0,654.03 394.7,653.89 395.4,653.74 396.7,654.08 397.9,654.11 398.1,654.07 399.4,653.86 400.8,653.78 401.2,653.99 402.1,654.00 403.4,653.99 404.8,654.01 406.1,653.97 406.5,654.17 407.5,653.93 408.9,653.66 409.3,653.98 410.2,653.79 411.6,654.12 412.9,653.82 414.2,653.78 414.3,653.83 415.6,653.92 416.9,653.94 417.8,653.85 418.3,653.70 419.6,654.13 421.0,654.16 421.2,653.79 422.4,653.69 423.7,653.92 424.7,653.96 425.1,653.80 426.4,654.11 427.3,654.06 427.8,654.10 429.1,653.88 430.4,654.03 431.8,654.08 432.5,653.82 433.1,653.67 434.5,654.04 435.8,653.81 435.9,653.98 437.2,653.73 438.6,653.88 439.0,654.06 439.9,654.09 441.2,654.20 442.3,653.94 442.6,654.00 443.9,654.12 445.3,654.01 446.6,654.03 446.9,653.77 448.0,654.13 449.4,653.65 450.4,653.94 450.7,653.87 452.1,653.95 453.4,653.74 453.8,653.74 454.8,653.90 456.1,653.94 457.3,653.80 457.4,653.72 458.8,653.99 460.1,653.79 461.2,653.66 461.5,653.95 462.9,654.08 464.2,654.08 465.6,653.80 466.4,653.83 466.9,653.67 468.2,653.73 469.0,654.08 469.6,654.11 470.9,654.07 472.3,654.11 472.9,653.81 473.6,653.72 475.0,653.70 476.4,654.07 476.8,653.72 477.7,654.03 479.1,653.97 480.4,653.80 480.8,654.16 481.8,654.16 483.1,653.74 484.4,654.05 484.7,654.01 485.8,653.88 487.1,653.83 487.9,654.21 488.5,654.02 489.9,653.96 491.2,653.94 491.5,654.09 492.6,653.88 493.9,653.67 495.1,653.99 495.2,653.90 496.6,654.15 497.9,654.06 498.6,653.83 499.3,654.15 500.6,653.71 502.0,653.69 502.0,654.16 503.4,653.68 504.7,654.00 505.5,653.77 506.1,653.78 507.4,654.04 508.8,653.83 509.1,653.84 510.1,653.75 511.4,654.06 512.7,653.78 512.8,653.66 514.1,653.83 515.5,653.91 516.0,654.15 516.9,653.93 518.2,654.01 519.5,653.80 520.9,653.83 522.2,653.89 523.1,654.11 523.6,653.84 525.0,653.85 526.0,654.11 526.3,653.70 527.6,653.84 529.0,654.14 530.4,653.68 531.7,654.13 533.0,654.02 534.2,653.80 534.4,653.87 535.8,653.90 537.1,653.84 537.4,653.95 538.5,654.04 539.8,654.11 541.1,654.17 542.3,653.80 542.5,653.78 543.9,653.90 545.2,653.79 546.5,654.01 547.2,654.06 547.9,653.99 549.2,653.71 550.5,654.19 550.6,653.93 552.0,654.07 553.1,653.77 553.3,654.01 554.6,654.02 555.7,653.98 556.0,653.90 557.4,653.77 558.7,654.01 558.9,653.73 560.0,654.15 561.4,654.06 562.8,654.16 563.9,654.15 564.1,653.77 565.5,653.80 566.7,654.11 566.8,654.11 568.1,653.98 569.3,653.79 569.5,653.75 570.9,653.79 572.0,653.88 572.2,654.13 573.5,653.99 574.6,654.10 574.9,653.91 576.2,653.89 577.6,654.10 577.8,654.07 579.0,653.77 580.3,654.20 581.6,653.75 583.0,653.70 584.4,653.67 585.7,653.99 587.0,653.90 588.2,653.88 588.4,653.85 589.8,653.66 591.1,653.82 592.5,654.04 592.8,653.72 593.8,653.94 595.1,653.87 595.8,653.80 596.5,654.21 597.9,653.77 598.7,653.84 599.2,653.93 600.5,653.91 601.7,653.95 601.9,654.10 603.2,653.91 604.6,654.19 606.0,653.93 607.1,653.84 607.3,653.96 608.6,653.89 610.0,653.67 610.0,653.70 611.4,654.14 612.7,653.76 613.0,653.86 614.0,654.19 615.4,654.01 615.6,654.08 616.8,654.17 618.1,653.91 619.2,653.68 619.5,654.03 620.8,653.72 622.1,653.82 622.8,654.14 623.5,653.72 624.9,653.87 626.2,653.68 626.4,653.80 627.5,653.79 628.9,654.02 629.1,653.75 630.2,653.68 631.6,653.72 631.9,653.96 633.0,653.78 634.3,653.94 635.6,654.15 637.0,654.19 637.1,654.17 638.4,654.10 639.7,654.12 641.0,653.93 641.0,653.81 642.4,653.91 643.8,653.97 645.1,653.84 645.6,654.04 646.5,653.95 647.8,653.78 648.5,653.98 649.1,654.11 650.5,653.70 651.5,653.80 651.9,654.00 653.2,654.00 653.4,653.91 654.5,653.87 655.9,654.09 656.7,654.21 657.2,654.09 658.6,653.77 660.0,654.13 661.3,653.95 661.9,654.10 662.6,654.09 664.0,654.12 665.4,653.98 666.7,654.12 666.8,654.20 668.0,654.15 669.4,654.12 669.5,653.93 670.8,654.18 672.1,654.20 672.3,653.96 673.5,653.98 674.8,653.81 675.0,654.18 676.1,653.98 677.5,653.99 677.7,654.20 678.9,653.66 680.2,654.09 680.4,654.16 681.5,653.94 682.9,654.12 684.0,653.86 684.2,654.02 685.6,654.14 687.0,654.18 688.3,653.80 689.3,654.06 689.6,653.76 691.0,653.95 692.4,653.68 693.7,654.04 694.5,654.07 695.0,654.06 696.4,653.75 697.8,653.85 699.1,654.02 699.7,654.16 700.5,653.82 701.8,653.66 702.3,653.88 703.1,654.21 704.5,654.20 705.6,654.16 705.9,654.12 707.2,654.19 708.2,654.18 708.5,653.84 709.9,653.70 711.2,654.10 712.6,653.66 713.4,653.94 714.0,653.75 715.3,653.69 716.0,653.68 716.6,654.19 718.0,654.04 718.6,653.87 719.4,653.67 720.7,654.16 721.2,654.05 722.0,653.73 723.4,654.15 724.4,653.99 724.8,654.02 726.1,653.83 727.0,653.68 727.5,654.11 728.8,653.79 729.7,653.79 730.1,653.74 731.5,653.90 732.3,653.69 732.9,654.01 734.2,653.98 735.5,654.08 736.8,653.77 736.9,653.94 738.2,654.06 739.6,654.12 740.3,653.80 741.0,653.87 742.3,653.81 743.3,653.99 743.6,653.94 745.0,654.13 746.0,653.81 746.4,654.20 747.7,653.95 749.0,653.78 750.4,653.83 751.2,654.16 751.8,654.08 753.1,653.73 754.5,653.85 755.8,653.71 756.4,653.72 757.1,653.96 758.5,653.70 759.6,653.79 759.9,654.02 761.2,654.00 762.5,654.17 763.6,653.99 763.9,653.67 764.6,654.15 765.2,653.89 766.6,654.15 767.4,654.17 768.0,653.84 769.3,654.08 770.1,654.19 770.6,654.13 772.0,653.85 773.4,653.88 774.7,654.21 775.3,654.08 776.0,653.66 777.4,654.09 777.9,653.89 778.8,653.97 780.1,653.77 781.1,653.87 781.5,653.76 782.8,653.91 784.1,654.11 784.4,654.11 785.5,654.17 786.9,653.74 788.2,654.15 789.5,654.20 789.6,653.66 790.9,654.10 792.2,653.70 792.2,654.16 793.6,653.95 795.0,654.09 796.3,653.74 797.4,653.86 797.6,653.85 799.0,653.78 800.4,653.72 801.7,654.02 802.7,653.87 803.0,653.96 804.4,654.15 805.6,653.74 805.8,653.87 807.1,653.75 808.5,654.10 808.5,653.91 809.8,653.95 811.1,653.80 811.4,654.17 812.5,654.02 813.9,653.94 814.3,654.17 815.2,653.90 816.5,653.79 817.9,653.97 818.2,653.84 819.2,653.87 820.6,654.09 822.0,654.01 822.8,653.64 823.3,654.02 824.6,653.97 826.0,654.17 827.4,654.09 827.4,654.12 828.7,653.68 830.0,653.80 831.3,653.71 831.4,653.65 832.8,653.86 834.1,653.68 835.2,653.91 835.5,653.97 836.8,653.67 838.1,653.70 839.1,653.67 839.5,653.94 840.9,653.77 842.2,653.98 843.0,653.64 843.5,653.69 844.9,654.05 846.2,653.68 846.9,654.11 847.6,654.16 849.0,653.80 850.3,654.05 851.5,653.92 851.6,653.85 853.0,654.19 854.4,653.79 854.7,654.06 855.7,653.97 857.0,654.02 858.0,653.79 858.4,653.79 859.8,654.05 861.1,654.15 861.3,654.04 862.5,653.98 862.6,654.17 863.8,654.13 865.1,653.78 866.5,653.81 867.9,653.66 869.2,653.65 870.4,653.71 870.5,654.00 871.9,654.12 873.2,654.04 873.6,653.95 874.6,653.91 876.0,653.90 877.3,654.01 878.2,653.73 878.6,654.05 880.0,653.95 881.4,653.71 882.7,653.75 883.4,654.04 884.0,654.08 885.4,653.75 886.4,654.21 886.8,654.14 888.1,653.91 889.5,653.91 889.5,654.12 890.8,654.19 892.1,654.10 892.5,653.77 893.5,653.95 894.9,653.65 895.2,653.76 896.2,653.65 897.5,654.19 897.5,654.11 898.9,654.21 900.2,653.97 900.4,654.02 901.6,654.18 903.0,653.90 903.6,654.16 904.3,654.04 905.6,654.07 907.0,653.76 908.2,653.97 908.4,654.07 909.7,654.19 910.8,653.97 911.0,653.86 912.4,653.83 913.8,653.69 914.0,653.75 915.1,654.07 916.5,654.14 916.7,653.78 917.8,653.76 919.1,653.92 919.3,653.74 920.5,653.90 921.9,654.05 922.2,654.12 923.2,654.20 924.5,653.85 925.1,653.70 925.9,653.70 927.2,653.95 928.6,653.83 929.0,653.68 930.0,653.75 931.3,653.87 932.3,653.98 932.6,653.92 934.0,654.12 935.4,654.11 935.6,653.82 936.7,653.65 938.0,653.90 939.4,653.98 939.5,654.01 940.8,653.95 942.1,653.75 943.4,653.96 943.5,653.67 944.8,654.13 946.1,654.03 947.5,653.92 948.6,653.98 948.9,653.73 950.2,653.74 951.5,653.68 952.2,653.86 952.9,654.20 954.2,653.89 955.6,653.90 955.8,653.94 957.0,654.05 958.3,653.81 958.7,653.69 959.6,654.16 961.0,653.83 961.6,654.00 962.4,653.92 963.7,653.70 965.0,653.66 965.5,653.85 966.4,654.10 967.8,653.69 968.3,654.11 969.1,653.99 970.5,653.74 971.0,654.03 971.8,654.06 973.1,653.67 973.8,653.67 974.5,654.03 975.9,653.99 976.6,654.05 977.2,654.14 978.5,654.07 979.6,653.65 979.9,654.17 981.2,654.08 982.6,654.10 983.8,654.17 984.0,653.91 985.3,653.79 986.6,653.73 986.7,653.85 988.0,653.75 989.4,654.21 989.6,654.05 990.7,653.66 992.0,654.17 992.6,654.06 993.4,653.94 994.8,654.06 995.4,653.90 996.1,654.19 997.5,654.08 998.1,653.67 998.8,654.13 1000.1,653.70 1001.4,654.11 1001.5,653.65 1002.9,653.83 1004.2,653.84 1004.6,654.13 1005.5,654.18 1006.9,653.78 1008.2,654.11 1008.2,654.11 1009.6,653.74 1011.0,653.71 1011.8,654.19 1012.3,653.66 1013.6,653.91 1014.6,654.00 1015.0,654.15 1016.4,653.99 1017.5,653.65 1017.7,654.05 1019.0,654.14 1020.3,654.13 1020.4,654.14 1021.8,654.01 1023.1,653.69 1024.2,654.17 1024.5,654.10 1025.8,653.68 1027.2,653.64 1028.1,653.65 1028.5,654.07 1029.8,654.01 1030.7,653.67 1031.2,653.94 1032.5,653.81 1033.3,654.03 1033.9,654.20 1035.2,654.02 1036.6,653.79 1038.0,653.77 1038.5,653.89 1039.3,653.95 1040.7,653.91 1041.8,653.96 1042.0,653.91 1043.3,653.74 1044.7,654.10 1045.0,653.87 1046.0,653.68 1047.4,653.73 1048.2,654.11 1048.8,653.66 1050.1,653.73 1051.5,654.12 1051.5,654.06 1052.8,654.10 1054.2,654.18 1055.4,653.65 1055.5,653.98 1056.8,653.71 1058.0,654.15 1058.2,654.21 1059.5,653.72 1060.6,653.76 1060.9,653.65 1062.2,653.82 1063.6,653.91 1063.9,653.78 1065.0,654.16 1065.9,653.90 1066.3,653.96 1067.7,654.13 1069.0,653.87 1069.1,654.03 1070.3,653.92 1071.7,654.00 1073.0,654.03 1073.7,654.01 1074.4,653.87 1075.8,653.65 1077.0,653.68 1077.1,653.72 1078.5,653.74 1079.8,654.05 1080.2,653.66 1081.2,654.06 1082.5,654.14 1083.8,653.93 1085.2,653.80 1085.4,654.02 1086.5,653.84 1087.4,654.05 1087.9,653.66 1089.2,653.95 1090.4,653.94 1090.6,653.91 1092.0,653.71 1093.3,653.65 1093.9,653.91 1094.7,653.96 1096.0,653.86 1097.3,654.17 1098.4,653.97 1098.7,653.73 1100.0,653.77 1101.3,654.18 1101.4,653.73 1102.8,653.99 1104.1,653.65 1104.3,654.00 1105.5,654.09 1106.8,653.90 1107.6,653.71 1108.2,653.97 1109.5,653.72 1110.8,653.81 1112.2,654.01 1112.5,654.04 1113.5,653.92 1114.9,653.99 1115.4,654.00 1116.2,653.84 1117.6,653.71 1119.0,653.88 1120.3,654.13 1120.6,654.09 1121.7,654.00 1123.0,653.86 1124.3,654.13 1125.7,654.17 1125.8,654.03 1127.0,654.05 1128.4,654.20 1129.7,653.91 1129.8,653.69 1131.1,653.91 1132.5,653.79 1133.6,653.74 1133.8,653.73 1135.2,653.69 1136.5,653.96 1136.9,653.82 1137.8,654.14 1139.2,653.71 1140.2,654.00 1140.5,653.94 1141.9,653.70 1143.2,654.05 1144.6,654.11 1144.7,653.74 1146.0,653.87 1147.3,654.17 1148.7,654.20 1149.9,654.01 1150.0,654.21 1151.3,653.74 1152.7,654.11 1153.2,654.06 1154.0,653.99 1155.4,653.92 1156.8,653.97 1158.1,653.85 1158.4,653.84 1159.5,653.96 1160.8,654.16 1162.2,653.65 1163.5,653.82 1163.6,654.17 1164.8,653.96 1166.2,653.78 1166.5,653.65 1167.5,654.18 1168.9,654.21 1169.5,653.94 1170.2,653.97 1171.6,653.70 1172.3,653.74 1173.0,654.02 1174.3,653.97 1175.0,653.88 1175.7,653.71 1177.0,654.10 1177.8,653.99 1178.3,654.16 1179.7,653.85 1180.6,654.20 1181.0,653.68 1182.4,653.91 1183.8,653.89 1185.1,654.17 1185.8,654.08 1186.5,653.95 1187.8,653.72 1189.2,653.91 1190.3,654.05 1190.5,653.65 1191.8,653.84 1193.2,653.91 1193.6,654.10 1194.5,654.04 1195.9,653.70 1196.5,654.14 1197.2,653.91 1198.6,653.86 1199.5,654.01 1200.0,653.77 1201.3,653.69 1201.4,653.72 1202.7,653.79 1204.0,654.10 1204.3,654.18 1205.3,653.97 1206.7,654.04 1207.1,654.10 1208.0,653.72 1209.4,654.09 1209.9,653.74 1210.8,653.68 1212.1,654.15 1213.2,653.69 1213.5,653.99 1214.8,654.09 1216.2,654.11 1216.4,654.19 1217.5,653.93 1218.8,653.99 1219.7,653.73 1220.2,653.74 1221.5,654.18 1222.9,653.98 1223.0,653.99 1224.2,654.11 1225.6,654.07 1226.2,654.06 1227.0,653.82 1228.3,654.02 1229.7,654.15 1230.1,654.09 1231.0,653.96 1232.3,653.89 1233.7,654.07 1234.0,653.81 1235.0,654.09 1236.4,653.83 1237.8,653.87 1237.9,654.11 1239.1,653.78 1240.5,653.99 1241.8,653.91 1243.2,653.87 1244.5,653.85 1245.7,653.96 1245.8,654.18 1247.2,653.76 1248.5,653.72 1249.9,653.93 1250.9,653.88 1251.2,654.06 1252.6,653.70 1254.0,653.82 1254.2,654.09 1255.3,653.75 1256.7,653.65 1258.0,654.02 1258.8,653.64 1259.3,653.94 1260.7,654.11 1262.0,653.80 1262.0,654.02 1263.4,653.80 1264.8,653.88 1265.5,654.15 1266.1,653.91 1267.5,653.73 1268.8,653.94 1269.0,653.91 1270.2,653.72 1271.5,653.96 1272.5,653.93 1272.8,653.88 1274.2,653.74 1275.5,654.10 1276.4,654.16 1276.9,653.78 1278.2,653.90 1279.6,654.04 1281.0,653.70 1282.3,653.71 1282.5,653.90 1283.7,653.65 1285.0,653.74 1285.5,653.79 1286.3,654.05 1287.7,654.21 1288.7,653.83 1289.0,653.79 1290.4,654.01 1291.3,653.94 1291.8,653.89 1293.1,654.07 1294.5,653.81 1295.8,653.89 1296.5,653.99 1297.2,654.15 1298.5,653.90 1299.8,654.03 1300.4,653.80 1301.2,654.12 1302.5,653.99 1303.9,654.10 1304.3,653.98 1305.2,653.88 1306.6,654.15 1307.6,654.18 1308.0,653.94 1309.3,654.10 1310.7,653.93 1311.5,654.12 1312.0,654.16 1313.3,653.91 1314.7,653.69 1315.4,653.72 1316.0,653.92 1317.4,653.99 1318.0,654.18 1318.8,654.06 1320.1,654.03 1321.0,653.68 1321.5,654.15 1322.8,653.67 1323.9,653.94 1324.2,653.97 1325.5,654.06 1326.8,653.66 1327.8,654.11 1328.2,653.89 1329.5,653.92 1330.9,654.10 1331.7,654.09 1332.2,653.65 1333.6,653.76 1335.0,653.79 1335.0,653.70 1336.3,654.16 1337.6,653.81 1337.7,653.78 1339.0,654.09 1340.2,653.95 1340.3,653.66 1341.7,654.03 1343.0,653.78 1343.4,654.12 1344.4,653.83 1345.8,654.06 1347.1,653.92 1348.0,654.00 1348.5,653.72 1349.8,653.79 1351.0,653.93 1351.2,653.82 1352.5,653.97 1353.8,653.75 1353.9,654.07 1355.2,653.90 1356.5,653.88 1357.9,653.99 1359.1,654.19 1359.2,654.12 1360.6,653.85 1362.0,654.09 1363.3,653.78 1364.3,653.93 1364.7,653.67 1366.0,653.73 1367.3,653.80 1367.5,654.00 1368.7,654.19 1370.0,653.90 1370.6,653.79 1371.4,653.69 1372.8,654.10 1372.8,654.12 1374.1,653.65 1375.5,653.79 1376.7,653.94 1376.8,653.79 1378.2,654.13 1379.5,653.90 1380.6,653.83 1380.8,653.87 1382.2,654.12 1383.4,654.14 1383.5,653.86 1384.9,653.71 1386.2,654.13 1386.3,654.21 1387.6,654.17 1389.0,653.76 1389.1,653.99 1390.3,653.95 1391.7,653.65 1393.0,653.86 1394.3,654.06 1394.3,653.81 1395.7,654.21 1397.0,654.05 1397.5,653.81 1398.4,654.12 1399.8,654.20 1400.1,653.92 1401.1,654.03 1402.5,653.66 1402.7,654.16 1403.8,653.76 1405.2,653.99 1405.4,653.75 1406.5,653.96 1407.8,653.83 1408.0,654.03 1409.2,654.09 1410.5,653.96 1410.6,653.76 1411.9,654.02 1413.2,654.08 1413.3,653.98 1414.6,654.16 1416.0,654.03 1416.1,653.89 1417.3,653.90 1418.7,653.87 1418.8,654.05 1420.0,654.20 1421.3,654.20 1421.6,654.02 1422.7,654.10 1424.0,653.89 1424.3,654.06 1425.4,653.78 1426.8,653.87 1427.1,653.84 1428.1,653.79 1429.5,653.92 1429.9,653.97 1430.8,654.04 1432.2,654.18 1432.7,653.76 1433.5,653.93 1434.8,654.16 1435.3,653.68 1436.2,653.88 1437.5,653.86 1438.6,653.96 1438.9,654.14 1440.2,653.64 1441.6,654.12 1443.0,654.00 1443.8,653.64 1444.3,654.14 1445.7,653.93 1447.0,653.94 1448.3,654.07 1449.0,653.69 1449.7,653.98 1451.0,654.21 1451.6,653.94 1452.4,654.21 1453.8,653.81 1454.2,653.72 1455.1,653.70 1456.5,654.19 1457.8,653.83 1458.1,654.04 1459.2,653.94 1460.5,654.04 1461.8,654.04 1462.7,654.14 1463.2,653.86 1464.5,654.16 1464.7,653.66 1465.9,654.19 1467.2,653.66 1467.9,654.10 1468.6,654.17 1470.0,653.79 1471.3,653.91 1471.5,653.77 1472.7,653.92 1474.0,653.85 1475.1,654.17 1475.3,653.83 1476.7,653.92 1478.0,653.66 1478.1,654.21 1479.4,654.17 1480.8,653.83 1481.2,653.68 1482.1,653.97 1483.5,653.81 1484.2,653.89 1484.8,653.99 1486.2,653.95 1486.8,653.87 1487.5,654.20 1488.8,654.04 1489.4,653.79 1490.2,654.07 1491.5,653.94 1492.9,654.07 1493.3,654.01 1494.2,653.84 1495.3,653.79 1495.6,653.67 1497.0,653.94 1498.2,654.10 1498.3,654.02 1499.7,654.18 1501.0,654.08 1501.2,653.88 1502.3,653.86 1503.7,654.08 1503.8,654.11 1505.0,654.16 1506.4,654.11 1507.8,653.93 1508.7,654.07 1509.1,653.71 1510.5,653.89 1511.8,654.02 1512.1,653.97 1513.2,654.19 1514.5,653.79 1515.5,653.78 1515.8,654.01 1517.2,653.80 1518.5,654.06 1519.1,654.09 1519.9,654.08 1521.2,654.10 1522.6,653.87 1522.7,653.85 1524.0,653.80 1524.6,654.15 1525.3,653.78 1526.7,653.94 1527.2,654.00 1528.0,653.93 1529.3,653.97 1530.5,654.10 1530.7,653.99 1532.0,653.84 1532.8,653.80 1533.0,653.69 1533.0,654.50 1532.8,654.50 1532.0,654.50 1530.7,654.50 1530.5,654.50 1529.3,654.50 1528.0,654.50 1527.2,654.50 1526.7,654.50 1525.3,654.50 1524.6,654.50 1524.0,654.50 1522.7,654.50 1522.6,654.50 1521.2,654.50 1519.9,654.50 1519.1,654.50 1518.5,654.50 1517.2,654.50 1515.8,654.50 1515.5,654.50 1514.5,654.50 1513.2,654.50 1512.1,654.50 1511.8,654.50 1510.5,654.50 1509.1,654.50 1508.7,654.50 1507.8,654.50 1506.4,654.50 1505.0,654.50 1503.8,654.50 1503.7,654.50 1502.3,654.50 1501.2,654.50 1501.0,654.50 1499.7,654.50 1498.3,654.50 1498.2,654.50 1497.0,654.50 1495.6,654.50 1495.3,654.50 1494.2,654.50 1493.3,654.50 1492.9,654.50 1491.5,654.50 1490.2,654.50 1489.4,654.50 1488.8,654.50 1487.5,654.50 1486.8,654.50 1486.2,654.50 1484.8,654.50 1484.2,654.50 1483.5,654.50 1482.1,654.50 1481.2,654.50 1480.8,654.50 1479.4,654.50 1478.1,654.50 1478.0,654.50 1476.7,654.50 1475.3,654.50 1475.1,654.50 1474.0,654.50 1472.7,654.50 1471.5,654.50 1471.3,654.50 1470.0,654.50 1468.6,654.50 1467.9,654.50 1467.2,654.50 1465.9,654.50 1464.7,654.50 1464.5,654.50 1463.2,654.50 1462.7,654.50 1461.8,654.50 1460.5,654.50 1459.2,654.50 1458.1,654.50 1457.8,654.50 1456.5,654.50 1455.1,654.50 1454.2,654.50 1453.8,654.50 1452.4,654.50 1451.6,654.50 1451.0,654.50 1449.7,654.50 1449.0,654.50 1448.3,654.50 1447.0,654.50 1445.7,654.50 1444.3,654.50 1443.8,654.50 1443.0,654.50 1441.6,654.50 1440.2,654.50 1438.9,654.50 1438.6,654.50 1437.5,654.50 1436.2,654.50 1435.3,654.50 1434.8,654.50 1433.5,654.50 1432.7,654.50 1432.2,654.50 1430.8,654.50 1429.9,654.50 1429.5,654.50 1428.1,654.50 1427.1,654.50 1426.8,654.50 1425.4,654.50 1424.3,654.50 1424.0,654.50 1422.7,654.50 1421.6,654.50 1421.3,654.50 1420.0,654.50 1418.8,654.50 1418.7,654.50 1417.3,654.50 1416.1,654.50 1416.0,654.50 1414.6,654.50 1413.3,654.50 1413.2,654.50 1411.9,654.50 1410.6,654.50 1410.5,654.50 1409.2,654.50 1408.0,654.50 1407.8,654.50 1406.5,654.50 1405.4,654.50 1405.2,654.50 1403.8,654.50 1402.7,654.50 1402.5,654.50 1401.1,654.50 1400.1,654.50 1399.8,654.50 1398.4,654.50 1397.5,654.50 1397.0,654.50 1395.7,654.50 1394.3,654.50 1394.3,654.50 1393.0,654.50 1391.7,654.50 1390.3,654.50 1389.1,654.50 1389.0,654.50 1387.6,654.50 1386.3,654.50 1386.2,654.50 1384.9,654.50 1383.5,654.50 1383.4,654.50 1382.2,654.50 1380.8,654.50 1380.6,654.50 1379.5,654.50 1378.2,654.50 1376.8,654.50 1376.7,654.50 1375.5,654.50 1374.1,654.50 1372.8,654.50 1372.8,654.50 1371.4,654.50 1370.6,654.50 1370.0,654.50 1368.7,654.50 1367.5,654.50 1367.3,654.50 1366.0,654.50 1364.7,654.50 1364.3,654.50 1363.3,654.50 1362.0,654.50 1360.6,654.50 1359.2,654.50 1359.1,654.50 1357.9,654.50 1356.5,654.50 1355.2,654.50 1353.9,654.50 1353.8,654.50 1352.5,654.50 1351.2,654.50 1351.0,654.50 1349.8,654.50 1348.5,654.50 1348.0,654.50 1347.1,654.50 1345.8,654.50 1344.4,654.50 1343.4,654.50 1343.0,654.50 1341.7,654.50 1340.3,654.50 1340.2,654.50 1339.0,654.50 1337.7,654.50 1337.6,654.50 1336.3,654.50 1335.0,654.50 1335.0,654.50 1333.6,654.50 1332.2,654.50 1331.7,654.50 1330.9,654.50 1329.5,654.50 1328.2,654.50 1327.8,654.50 1326.8,654.50 1325.5,654.50 1324.2,654.50 1323.9,654.50 1322.8,654.50 1321.5,654.50 1321.0,654.50 1320.1,654.50 1318.8,654.50 1318.0,654.50 1317.4,654.50 1316.0,654.50 1315.4,654.50 1314.7,654.50 1313.3,654.50 1312.0,654.50 1311.5,654.50 1310.7,654.50 1309.3,654.50 1308.0,654.50 1307.6,654.50 1306.6,654.50 1305.2,654.50 1304.3,654.50 1303.9,654.50 1302.5,654.50 1301.2,654.50 1300.4,654.50 1299.8,654.50 1298.5,654.50 1297.2,654.50 1296.5,654.50 1295.8,654.50 1294.5,654.50 1293.1,654.50 1291.8,654.50 1291.3,654.50 1290.4,654.50 1289.0,654.50 1288.7,654.50 1287.7,654.50 1286.3,654.50 1285.5,654.50 1285.0,654.50 1283.7,654.50 1282.5,654.50 1282.3,654.50 1281.0,654.50 1279.6,654.50 1278.2,654.50 1276.9,654.50 1276.4,654.50 1275.5,654.50 1274.2,654.50 1272.8,654.50 1272.5,654.50 1271.5,654.50 1270.2,654.50 1269.0,654.50 1268.8,654.50 1267.5,654.50 1266.1,654.50 1265.5,654.50 1264.8,654.50 1263.4,654.50 1262.0,654.50 1262.0,654.50 1260.7,654.50 1259.3,654.50 1258.8,654.50 1258.0,654.50 1256.7,654.50 1255.3,654.50 1254.2,654.50 1254.0,654.50 1252.6,654.50 1251.2,654.50 1250.9,654.50 1249.9,654.50 1248.5,654.50 1247.2,654.50 1245.8,654.50 1245.7,654.50 1244.5,654.50 1243.2,654.50 1241.8,654.50 1240.5,654.50 1239.1,654.50 1237.9,654.50 1237.8,654.50 1236.4,654.50 1235.0,654.50 1234.0,654.50 1233.7,654.50 1232.3,654.50 1231.0,654.50 1230.1,654.50 1229.7,654.50 1228.3,654.50 1227.0,654.50 1226.2,654.50 1225.6,654.50 1224.2,654.50 1223.0,654.50 1222.9,654.50 1221.5,654.50 1220.2,654.50 1219.7,654.50 1218.8,654.50 1217.5,654.50 1216.4,654.50 1216.2,654.50 1214.8,654.50 1213.5,654.50 1213.2,654.50 1212.1,654.50 1210.8,654.50 1209.9,654.50 1209.4,654.50 1208.0,654.50 1207.1,654.50 1206.7,654.50 1205.3,654.50 1204.3,654.50 1204.0,654.50 1202.7,654.50 1201.4,654.50 1201.3,654.50 1200.0,654.50 1199.5,654.50 1198.6,654.50 1197.2,654.50 1196.5,654.50 1195.9,654.50 1194.5,654.50 1193.6,654.50 1193.2,654.50 1191.8,654.50 1190.5,654.50 1190.3,654.50 1189.2,654.50 1187.8,654.50 1186.5,654.50 1185.8,654.50 1185.1,654.50 1183.8,654.50 1182.4,654.50 1181.0,654.50 1180.6,654.50 1179.7,654.50 1178.3,654.50 1177.8,654.50 1177.0,654.50 1175.7,654.50 1175.0,654.50 1174.3,654.50 1173.0,654.50 1172.3,654.50 1171.6,654.50 1170.2,654.50 1169.5,654.50 1168.9,654.50 1167.5,654.50 1166.5,654.50 1166.2,654.50 1164.8,654.50 1163.6,654.50 1163.5,654.50 1162.2,654.50 1160.8,654.50 1159.5,654.50 1158.4,654.50 1158.1,654.50 1156.8,654.50 1155.4,654.50 1154.0,654.50 1153.2,654.50 1152.7,654.50 1151.3,654.50 1150.0,654.50 1149.9,654.50 1148.7,654.50 1147.3,654.50 1146.0,654.50 1144.7,654.50 1144.6,654.50 1143.2,654.50 1141.9,654.50 1140.5,654.50 1140.2,654.50 1139.2,654.50 1137.8,654.50 1136.9,654.50 1136.5,654.50 1135.2,654.50 1133.8,654.50 1133.6,654.50 1132.5,654.50 1131.1,654.50 1129.8,654.50 1129.7,654.50 1128.4,654.50 1127.0,654.50 1125.8,654.50 1125.7,654.50 1124.3,654.50 1123.0,654.50 1121.7,654.50 1120.6,654.50 1120.3,654.50 1119.0,654.50 1117.6,654.50 1116.2,654.50 1115.4,654.50 1114.9,654.50 1113.5,654.50 1112.5,654.50 1112.2,654.50 1110.8,654.50 1109.5,654.50 1108.2,654.50 1107.6,654.50 1106.8,654.50 1105.5,654.50 1104.3,654.50 1104.1,654.50 1102.8,654.50 1101.4,654.50 1101.3,654.50 1100.0,654.50 1098.7,654.50 1098.4,654.50 1097.3,654.50 1096.0,654.50 1094.7,654.50 1093.9,654.50 1093.3,654.50 1092.0,654.50 1090.6,654.50 1090.4,654.50 1089.2,654.50 1087.9,654.50 1087.4,654.50 1086.5,654.50 1085.4,654.50 1085.2,654.50 1083.8,654.50 1082.5,654.50 1081.2,654.50 1080.2,654.50 1079.8,654.50 1078.5,654.50 1077.1,654.50 1077.0,654.50 1075.8,654.50 1074.4,654.50 1073.7,654.50 1073.0,654.50 1071.7,654.50 1070.3,654.50 1069.1,654.50 1069.0,654.50 1067.7,654.50 1066.3,654.50 1065.9,654.50 1065.0,654.50 1063.9,654.50 1063.6,654.50 1062.2,654.50 1060.9,654.50 1060.6,654.50 1059.5,654.50 1058.2,654.50 1058.0,654.50 1056.8,654.50 1055.5,654.50 1055.4,654.50 1054.2,654.50 1052.8,654.50 1051.5,654.50 1051.5,654.50 1050.1,654.50 1048.8,654.50 1048.2,654.50 1047.4,654.50 1046.0,654.50 1045.0,654.50 1044.7,654.50 1043.3,654.50 1042.0,654.50 1041.8,654.50 1040.7,654.50 1039.3,654.50 1038.5,654.50 1038.0,654.50 1036.6,654.50 1035.2,654.50 1033.9,654.50 1033.3,654.50 1032.5,654.50 1031.2,654.50 1030.7,654.50 1029.8,654.50 1028.5,654.50 1028.1,654.50 1027.2,654.50 1025.8,654.50 1024.5,654.50 1024.2,654.50 1023.1,654.50 1021.8,654.50 1020.4,654.50 1020.3,654.50 1019.0,654.50 1017.7,654.50 1017.5,654.50 1016.4,654.50 1015.0,654.50 1014.6,654.50 1013.6,654.50 1012.3,654.50 1011.8,654.50 1011.0,654.50 1009.6,654.50 1008.2,654.50 1008.2,654.50 1006.9,654.50 1005.5,654.50 1004.6,654.50 1004.2,654.50 1002.9,654.50 1001.5,654.50 1001.4,654.50 1000.1,654.50 998.8,654.50 998.1,654.50 997.5,654.50 996.1,654.50 995.4,654.50 994.8,654.50 993.4,654.50 992.6,654.50 992.0,654.50 990.7,654.50 989.6,654.50 989.4,654.50 988.0,654.50 986.7,654.50 986.6,654.50 985.3,654.50 984.0,654.50 983.8,654.50 982.6,654.50 981.2,654.50 979.9,654.50 979.6,654.50 978.5,654.50 977.2,654.50 976.6,654.50 975.9,654.50 974.5,654.50 973.8,654.50 973.1,654.50 971.8,654.50 971.0,654.50 970.5,654.50 969.1,654.50 968.3,654.50 967.8,654.50 966.4,654.50 965.5,654.50 965.0,654.50 963.7,654.50 962.4,654.50 961.6,654.50 961.0,654.50 959.6,654.50 958.7,654.50 958.3,654.50 957.0,654.50 955.8,654.50 955.6,654.50 954.2,654.50 952.9,654.50 952.2,654.50 951.5,654.50 950.2,654.50 948.9,654.50 948.6,654.50 947.5,654.50 946.1,654.50 944.8,654.50 943.5,654.50 943.4,654.50 942.1,654.50 940.8,654.50 939.5,654.50 939.4,654.50 938.0,654.50 936.7,654.50 935.6,654.50 935.4,654.50 934.0,654.50 932.6,654.50 932.3,654.50 931.3,654.50 930.0,654.50 929.0,654.50 928.6,654.50 927.2,654.50 925.9,654.50 925.1,654.50 924.5,654.50 923.2,654.50 922.2,654.50 921.9,654.50 920.5,654.50 919.3,654.50 919.1,654.50 917.8,654.50 916.7,654.50 916.5,654.50 915.1,654.50 914.0,654.50 913.8,654.50 912.4,654.50 911.0,654.50 910.8,654.50 909.7,654.50 908.4,654.50 908.2,654.50 907.0,654.50 905.6,654.50 904.3,654.50 903.6,654.50 903.0,654.50 901.6,654.50 900.4,654.50 900.2,654.50 898.9,654.50 897.5,654.50 897.5,654.50 896.2,654.50 895.2,654.50 894.9,654.50 893.5,654.50 892.5,654.50 892.1,654.50 890.8,654.50 889.5,654.50 889.5,654.50 888.1,654.50 886.8,654.50 886.4,654.50 885.4,654.50 884.0,654.50 883.4,654.50 882.7,654.50 881.4,654.50 880.0,654.50 878.6,654.50 878.2,654.50 877.3,654.50 876.0,654.50 874.6,654.50 873.6,654.50 873.2,654.50 871.9,654.50 870.5,654.50 870.4,654.50 869.2,654.50 867.9,654.50 866.5,654.50 865.1,654.50 863.8,654.50 862.6,654.50 862.5,654.50 861.3,654.50 861.1,654.50 859.8,654.50 858.4,654.50 858.0,654.50 857.0,654.50 855.7,654.50 854.7,654.50 854.4,654.50 853.0,654.50 851.6,654.50 851.5,654.50 850.3,654.50 849.0,654.50 847.6,654.50 846.9,654.50 846.2,654.50 844.9,654.50 843.5,654.50 843.0,654.50 842.2,654.50 840.9,654.50 839.5,654.50 839.1,654.50 838.1,654.50 836.8,654.50 835.5,654.50 835.2,654.50 834.1,654.50 832.8,654.50 831.4,654.50 831.3,654.50 830.0,654.50 828.7,654.50 827.4,654.50 827.4,654.50 826.0,654.50 824.6,654.50 823.3,654.50 822.8,654.50 822.0,654.50 820.6,654.50 819.2,654.50 818.2,654.50 817.9,654.50 816.5,654.50 815.2,654.50 814.3,654.50 813.9,654.50 812.5,654.50 811.4,654.50 811.1,654.50 809.8,654.50 808.5,654.50 808.5,654.50 807.1,654.50 805.8,654.50 805.6,654.50 804.4,654.50 803.0,654.50 802.7,654.50 801.7,654.50 800.4,654.50 799.0,654.50 797.6,654.50 797.4,654.50 796.3,654.50 795.0,654.50 793.6,654.50 792.2,654.50 792.2,654.50 790.9,654.50 789.6,654.50 789.5,654.50 788.2,654.50 786.9,654.50 785.5,654.50 784.4,654.50 784.1,654.50 782.8,654.50 781.5,654.50 781.1,654.50 780.1,654.50 778.8,654.50 777.9,654.50 777.4,654.50 776.0,654.50 775.3,654.50 774.7,654.50 773.4,654.50 772.0,654.50 770.6,654.50 770.1,654.50 769.3,654.50 768.0,654.50 767.4,654.50 766.6,654.50 765.2,654.50 764.6,654.50 763.9,654.50 763.6,654.50 762.5,654.50 761.2,654.50 759.9,654.50 759.6,654.50 758.5,654.50 757.1,654.50 756.4,654.50 755.8,654.50 754.5,654.50 753.1,654.50 751.8,654.50 751.2,654.50 750.4,654.50 749.0,654.50 747.7,654.50 746.4,654.50 746.0,654.50 745.0,654.50 743.6,654.50 743.3,654.50 742.3,654.50 741.0,654.50 740.3,654.50 739.6,654.50 738.2,654.50 736.9,654.50 736.8,654.50 735.5,654.50 734.2,654.50 732.9,654.50 732.3,654.50 731.5,654.50 730.1,654.50 729.7,654.50 728.8,654.50 727.5,654.50 727.0,654.50 726.1,654.50 724.8,654.50 724.4,654.50 723.4,654.50 722.0,654.50 721.2,654.50 720.7,654.50 719.4,654.50 718.6,654.50 718.0,654.50 716.6,654.50 716.0,654.50 715.3,654.50 714.0,654.50 713.4,654.50 712.6,654.50 711.2,654.50 709.9,654.50 708.5,654.50 708.2,654.50 707.2,654.50 705.9,654.50 705.6,654.50 704.5,654.50 703.1,654.50 702.3,654.50 701.8,654.50 700.5,654.50 699.7,654.50 699.1,654.50 697.8,654.50 696.4,654.50 695.0,654.50 694.5,654.50 693.7,654.50 692.4,654.50 691.0,654.50 689.6,654.50 689.3,654.50 688.3,654.50 687.0,654.50 685.6,654.50 684.2,654.50 684.0,654.50 682.9,654.50 681.5,654.50 680.4,654.50 680.2,654.50 678.9,654.50 677.7,654.50 677.5,654.50 676.1,654.50 675.0,654.50 674.8,654.50 673.5,654.50 672.3,654.50 672.1,654.50 670.8,654.50 669.5,654.50 669.4,654.50 668.0,654.50 666.8,654.50 666.7,654.50 665.4,654.50 664.0,654.50 662.6,654.50 661.9,654.50 661.3,654.50 660.0,654.50 658.6,654.50 657.2,654.50 656.7,654.50 655.9,654.50 654.5,654.50 653.4,654.50 653.2,654.50 651.9,654.50 651.5,654.50 650.5,654.50 649.1,654.50 648.5,654.50 647.8,654.50 646.5,654.50 645.6,654.50 645.1,654.50 643.8,654.50 642.4,654.50 641.0,654.50 641.0,654.50 639.7,654.50 638.4,654.50 637.1,654.50 637.0,654.50 635.6,654.50 634.3,654.50 633.0,654.50 631.9,654.50 631.6,654.50 630.2,654.50 629.1,654.50 628.9,654.50 627.5,654.50 626.4,654.50 626.2,654.50 624.9,654.50 623.5,654.50 622.8,654.50 622.1,654.50 620.8,654.50 619.5,654.50 619.2,654.50 618.1,654.50 616.8,654.50 615.6,654.50 615.4,654.50 614.0,654.50 613.0,654.50 612.7,654.50 611.4,654.50 610.0,654.50 610.0,654.50 608.6,654.50 607.3,654.50 607.1,654.50 606.0,654.50 604.6,654.50 603.2,654.50 601.9,654.50 601.7,654.50 600.5,654.50 599.2,654.50 598.7,654.50 597.9,654.50 596.5,654.50 595.8,654.50 595.1,654.50 593.8,654.50 592.8,654.50 592.5,654.50 591.1,654.50 589.8,654.50 588.4,654.50 588.2,654.50 587.0,654.50 585.7,654.50 584.4,654.50 583.0,654.50 581.6,654.50 580.3,654.50 579.0,654.50 577.8,654.50 577.6,654.50 576.2,654.50 574.9,654.50 574.6,654.50 573.5,654.50 572.2,654.50 572.0,654.50 570.9,654.50 569.5,654.50 569.3,654.50 568.1,654.50 566.8,654.50 566.7,654.50 565.5,654.50 564.1,654.50 563.9,654.50 562.8,654.50 561.4,654.50 560.0,654.50 558.9,654.50 558.7,654.50 557.4,654.50 556.0,654.50 555.7,654.50 554.6,654.50 553.3,654.50 553.1,654.50 552.0,654.50 550.6,654.50 550.5,654.50 549.2,654.50 547.9,654.50 547.2,654.50 546.5,654.50 545.2,654.50 543.9,654.50 542.5,654.50 542.3,654.50 541.1,654.50 539.8,654.50 538.5,654.50 537.4,654.50 537.1,654.50 535.8,654.50 534.4,654.50 534.2,654.50 533.0,654.50 531.7,654.50 530.4,654.50 529.0,654.50 527.6,654.50 526.3,654.50 526.0,654.50 525.0,654.50 523.6,654.50 523.1,654.50 522.2,654.50 520.9,654.50 519.5,654.50 518.2,654.50 516.9,654.50 516.0,654.50 515.5,654.50 514.1,654.50 512.8,654.50 512.7,654.50 511.4,654.50 510.1,654.50 509.1,654.50 508.8,654.50 507.4,654.50 506.1,654.50 505.5,654.50 504.7,654.50 503.4,654.50 502.0,654.50 502.0,654.50 500.6,654.50 499.3,654.50 498.6,654.50 497.9,654.50 496.6,654.50 495.2,654.50 495.1,654.50 493.9,654.50 492.6,654.50 491.5,654.50 491.2,654.50 489.9,654.50 488.5,654.50 487.9,654.50 487.1,654.50 485.8,654.50 484.7,654.50 484.4,654.50 483.1,654.50 481.8,654.50 480.8,654.50 480.4,654.50 479.1,654.50 477.7,654.50 476.8,654.50 476.4,654.50 475.0,654.50 473.6,654.50 472.9,654.50 472.3,654.50 470.9,654.50 469.6,654.50 469.0,654.50 468.2,654.50 466.9,654.50 466.4,654.50 465.6,654.50 464.2,654.50 462.9,654.50 461.5,654.50 461.2,654.50 460.1,654.50 458.8,654.50 457.4,654.50 457.3,654.50 456.1,654.50 454.8,654.50 453.8,654.50 453.4,654.50 452.1,654.50 450.7,654.50 450.4,654.50 449.4,654.50 448.0,654.50 446.9,654.50 446.6,654.50 445.3,654.50 443.9,654.50 442.6,654.50 442.3,654.50 441.2,654.50 439.9,654.50 439.0,654.50 438.6,654.50 437.2,654.50 435.9,654.50 435.8,654.50 434.5,654.50 433.1,654.50 432.5,654.50 431.8,654.50 430.4,654.50 429.1,654.50 427.8,654.50 427.3,654.50 426.4,654.50 425.1,654.50 424.7,654.50 423.7,654.50 422.4,654.50 421.2,654.50 421.0,654.50 419.6,654.50 418.3,654.50 417.8,654.50 416.9,654.50 415.6,654.50 414.3,654.50 414.2,654.50 412.9,654.50 411.6,654.50 410.2,654.50 409.3,654.50 408.9,654.50 407.5,654.50 406.5,654.50 406.1,654.50 404.8,654.50 403.4,654.50 402.1,654.50 401.2,654.50 400.8,654.50 399.4,654.50 398.1,654.50 397.9,654.50 396.7,654.50 395.4,654.50 394.7,654.50 394.0,654.50 392.6,654.50 391.3,654.50 391.1,654.50 389.9,654.50 388.6,654.50 387.6,654.50 387.2,654.50 385.9,654.50 384.6,654.50 384.0,654.50 383.2,654.50 381.9,654.50 380.5,654.50 380.4,654.50 379.1,654.50 377.8,654.50 376.5,654.50 376.4,654.50 375.1,654.50 373.9,654.50 373.8,654.50 372.4,654.50 371.1,654.50 369.9,654.50 369.7,654.50 368.4,654.50 367.0,654.50 366.0,654.50 365.6,654.50 364.3,654.50 363.4,654.50 362.9,654.50 361.6,654.50 360.5,654.50 360.2,654.50 358.9,654.50 357.6,654.50 357.6,654.50 356.2,654.50 354.9,654.50 354.9,654.50 353.5,654.50 352.1,654.50 352.1,654.50 350.8,654.50 349.4,654.50 349.4,654.50 348.1,654.50 346.8,654.50 346.6,654.50 345.4,654.50 344.1,654.50 343.9,654.50 342.7,654.50 341.4,654.50 341.1,654.50 340.0,654.50 338.6,654.50 338.4,654.50 337.3,654.50 335.9,654.50 335.4,654.50 334.6,654.50 333.2,654.50 332.1,654.50 331.9,654.50 330.6,654.50 329.2,654.50 328.9,654.50 327.9,654.50 326.5,654.50 325.6,654.50 325.1,654.50 323.8,654.50 322.4,654.50 322.4,654.50 321.1,654.50 319.8,654.50 319.8,654.50 318.4,654.50 317.1,654.50 316.2,654.50 315.7,654.50 314.4,654.50 313.0,654.50 312.7,654.50 311.6,654.50 310.3,654.50 310.0,654.50 308.9,654.50 307.6,654.50 306.8,654.50 306.2,654.50 304.9,654.50 303.6,654.50 303.5,654.50 302.2,654.50 300.9,654.50 299.6,654.50 299.5,654.50 298.1,654.50 296.8,654.50 295.4,654.50 294.4,654.50 294.1,654.50 292.8,654.50 291.4,654.50 290.5,654.50 290.1,654.50 288.7,654.50 287.4,654.50 286.6,654.50 286.0,654.50 284.6,654.50 283.4,654.50 283.3,654.50 281.9,654.50 280.6,654.50 280.1,654.50 279.2,654.50 277.9,654.50 276.6,654.50 276.2,654.50 275.2,654.50 273.9,654.50 273.6,654.50 272.5,654.50 271.1,654.50 270.3,654.50 269.8,654.50 268.4,654.50 267.1,654.50 265.8,654.50 265.7,654.50 264.4,654.50 263.1,654.50 261.7,654.50 260.5,654.50 260.4,654.50 259.0,654.50 257.6,654.50 257.2,654.50 256.3,654.50 254.9,654.50 254.0,654.50 253.6,654.50 252.2,654.50 250.9,654.50 250.8,654.50 249.6,654.50 248.2,654.50 247.5,654.50 246.8,654.50 245.5,654.50 244.2,654.50 242.8,654.50 242.3,654.50 241.4,654.50 240.1,654.50 238.8,654.50 237.4,654.50 237.1,654.50 236.1,654.50 234.7,654.50 233.3,654.50 232.0,654.50 231.8,654.50 230.7,654.50 229.3,654.50 227.9,654.50 227.9,654.50 226.6,654.50 225.2,654.50 224.0,654.50 223.9,654.50 222.6,654.50 221.2,654.50 219.8,654.50 218.8,654.50 218.5,654.50 217.2,654.50 215.8,654.50 215.6,654.50 214.4,654.50 213.1,654.50 212.3,654.50 211.8,654.50 210.4,654.50 209.1,654.50 208.4,654.50 207.7,654.50 206.3,654.50 205.0,654.50 203.7,654.50 203.2,654.50 202.3,654.50 200.9,654.50 200.6,654.50 199.6,654.50 198.2,654.50 196.9,654.50 195.6,654.50 195.3,654.50 194.2,654.50 192.8,654.50 191.5,654.50 190.2,654.50 190.1,654.50 188.8,654.50 187.4,654.50 186.1,654.50 184.9,654.50 184.8,654.50 183.4,654.50 182.1,654.50 180.7,654.50 179.7,654.50 179.3,654.50 178.0,654.50 176.7,654.50 176.4,654.50 175.3,654.50 173.9,654.50 173.2,654.50 172.6,654.50 171.2,654.50 170.6,654.50 169.9,654.50 168.6,654.50 167.7,654.50 167.2,654.50 165.8,654.50 164.7,654.50 164.5,654.50 163.2,654.50 161.8,654.50 161.8,654.50 160.4,654.50 159.1,654.50 158.8,654.50 157.8,654.50 156.4,654.50 155.1,654.50 153.7,654.50 153.6,654.50 152.3,654.50 151.0,654.50 149.7,654.50 148.3,654.50 146.9,654.50 145.8,654.50 145.6,654.50 144.2,654.50 143.1,654.50 142.9,654.50 141.6,654.50 140.3,654.50 140.2,654.50 138.8,654.50 138.0,654.50 137.5,654.50 136.2,654.50 135.4,654.50 134.8,654.50 133.4,654.50 132.8,654.50 132.1,654.50 130.8,654.50 129.6,654.50 129.4,654.50 128.1,654.50 126.7,654.50 126.3,654.50 125.3,654.50 124.0,654.50 122.7,654.50 121.3,654.50 121.0,654.50 120.0,654.50 118.6,654.50 117.2,654.50 116.5,654.50 115.9,654.50 114.5,654.50 113.2,654.50 111.8,654.50 110.5,654.50 109.2,654.50 108.0,654.50 107.8,654.50 106.5,654.50 105.1,654.50 104.1,654.50 103.8,654.50 102.4,654.50 101.0,654.50 99.7,654.50 99.5,654.50 98.3,654.50 97.0,654.50 95.7,654.50 95.6,654.50 94.3,654.50 93.0,654.50 91.7,654.50 91.6,654.50 90.2,654.50 89.1,654.50 88.9,654.50 87.5,654.50 87.2,654.50 86.2,654.50 84.8,654.50 83.5,654.50 83.2,654.50 82.2,654.50 80.8,654.50 79.5,654.50 78.1,654.50 78.0,654.50 76.8,654.50 75.4,654.50 74.0,654.50 72.7,654.50 71.3,654.50 70.2,654.50 70.0,654.50" fill="#BB44CC" fill-opacity="0.8"/><polygon points="70.0,652.04 70.2,651.86 71.3,652.29 72.7,652.15 74.0,652.14 75.4,652.46 76.8,647.83 78.0,641.53 78.1,642.09 79.5,645.12 80.8,647.71 82.2,651.02 83.2,652.02 83.5,652.23 84.8,652.13 86.2,652.41 87.2,652.13 87.5,652.00 88.9,652.20 89.1,652.07 90.2,652.11 91.6,652.46 91.7,652.06 93.0,651.90 94.3,650.55 95.6,649.24 95.7,648.72 97.0,647.54 98.3,646.00 99.5,644.72 99.7,645.18 101.0,647.53 102.4,650.30 103.8,652.04 104.1,652.24 105.1,651.96 106.5,652.00 107.8,652.44 108.0,652.42 109.2,651.77 110.5,648.72 111.8,646.40 113.2,643.67 114.5,648.59 115.9,652.21 116.5,652.28 117.2,652.30 118.6,652.16 120.0,652.16 121.0,651.98 121.3,652.11 122.7,651.97 124.0,652.01 125.3,651.93 126.3,652.11 126.7,652.40 128.1,651.92 129.4,651.29 129.6,651.26 130.8,651.23 132.1,650.91 132.8,651.08 133.4,647.26 134.8,640.21 135.4,637.18 136.2,637.30 137.5,636.85 138.0,636.77 138.8,633.82 140.2,627.89 140.3,627.70 141.6,633.15 142.9,638.79 143.1,639.16 144.2,645.23 145.6,652.47 145.8,652.15 146.9,652.47 148.3,652.09 149.7,652.31 151.0,651.99 152.3,651.94 153.6,651.89 153.7,651.62 155.1,652.27 156.4,652.45 157.8,652.15 158.8,652.48 159.1,651.90 160.4,646.65 161.8,641.60 161.8,641.68 163.2,636.80 164.5,631.38 164.7,630.97 165.8,634.96 167.2,640.13 167.7,642.13 168.6,645.68 169.9,651.04 170.6,652.13 171.2,652.16 172.6,652.18 173.2,652.14 173.9,651.96 175.3,652.21 176.4,652.25 176.7,652.09 178.0,652.20 179.3,651.65 179.7,651.13 180.7,651.86 182.1,652.18 183.4,652.49 184.8,652.26 184.9,652.17 186.1,652.49 187.4,652.15 188.8,652.10 190.1,651.87 190.2,651.58 191.5,652.23 192.8,652.11 194.2,652.30 195.3,652.09 195.6,652.08 196.9,650.78 198.2,647.12 199.6,643.13 200.6,640.27 200.9,640.67 202.3,640.56 203.2,640.48 203.7,641.87 205.0,645.56 206.3,649.30 207.7,652.29 208.4,652.16 209.1,652.33 210.4,652.28 211.8,652.06 212.3,652.48 213.1,652.17 214.4,652.08 215.6,652.32 215.8,652.35 217.2,651.44 218.5,651.19 218.8,651.09 219.8,649.35 221.2,647.14 222.6,645.42 223.9,643.23 224.0,643.07 225.2,646.27 226.6,650.26 227.9,652.01 227.9,652.40 229.3,652.31 230.7,652.13 231.8,651.99 232.0,652.24 233.3,651.52 234.7,648.56 236.1,645.31 237.1,643.15 237.4,643.49 238.8,646.54 240.1,649.99 241.4,652.34 242.3,652.04 242.8,652.13 244.2,652.04 245.5,652.30 246.8,652.42 247.5,652.33 248.2,651.31 249.6,648.92 250.8,646.49 250.9,646.18 252.2,643.74 253.6,641.31 254.0,640.29 254.9,642.58 256.3,645.31 257.2,646.63 257.6,647.58 259.0,650.61 260.4,652.25 260.5,651.95 261.7,651.97 263.1,652.37 264.4,652.07 265.7,652.02 265.8,652.12 267.1,649.85 268.4,645.20 269.8,640.38 270.3,638.68 271.1,640.94 272.5,644.09 273.6,647.07 273.9,646.81 275.2,647.51 276.2,647.20 276.6,647.90 277.9,649.99 279.2,651.99 280.1,651.98 280.6,652.17 281.9,649.38 283.3,645.51 283.4,645.71 284.6,643.03 286.0,640.12 286.6,639.00 287.4,640.70 288.7,643.35 290.1,646.48 290.5,647.62 291.4,649.35 292.8,651.53 294.1,652.23 294.4,652.05 295.4,652.30 296.8,652.39 298.1,652.19 299.5,652.03 299.6,652.40 300.9,645.91 302.2,637.97 303.5,630.47 303.6,630.65 304.9,636.20 306.2,640.93 306.8,642.68 307.6,646.27 308.9,651.10 310.0,652.34 310.3,652.20 311.6,652.26 312.7,652.23 313.0,652.05 314.4,652.50 315.7,651.14 316.2,650.47 317.1,649.27 318.4,647.28 319.8,644.74 319.8,644.73 321.1,648.65 322.4,651.89 322.4,651.99 323.8,651.96 325.1,651.90 325.6,651.72 326.5,652.04 327.9,652.29 328.9,652.39 329.2,652.31 330.6,652.43 331.9,652.18 332.1,652.09 333.2,652.28 334.6,652.45 335.4,652.40 335.9,651.68 337.3,642.45 338.4,634.94 338.6,635.95 340.0,639.94 341.1,643.65 341.4,644.58 342.7,650.14 343.9,652.21 344.1,652.10 345.4,651.61 346.6,648.63 346.8,648.59 348.1,646.60 349.4,644.43 349.4,644.21 350.8,642.16 352.1,639.61 352.1,639.56 353.5,637.35 354.9,635.36 354.9,635.66 356.2,632.70 357.6,630.09 357.6,630.29 358.9,636.09 360.2,642.43 360.5,643.17 361.6,647.67 362.9,651.99 363.4,652.04 364.3,652.11 365.6,647.89 366.0,646.91 367.0,647.65 368.4,648.02 369.7,649.00 369.9,649.04 371.1,649.39 372.4,650.69 373.8,651.54 373.9,651.63 375.1,649.58 376.4,648.17 376.5,648.19 377.8,650.26 379.1,652.43 380.4,652.02 380.5,652.11 381.9,652.02 383.2,651.89 384.0,651.14 384.6,650.15 385.9,648.44 387.2,645.88 387.6,645.47 388.6,646.73 389.9,648.94 391.1,650.22 391.3,650.29 392.6,652.34 394.0,652.31 394.7,652.18 395.4,652.02 396.7,652.01 397.9,650.43 398.1,650.25 399.4,648.05 400.8,645.99 401.2,645.54 402.1,646.98 403.4,649.11 404.8,651.28 406.1,652.26 406.5,652.45 407.5,644.62 408.9,631.83 409.3,627.97 410.2,632.46 411.6,639.81 412.9,646.52 414.2,652.07 414.3,652.11 415.6,652.20 416.9,652.22 417.8,652.13 418.3,651.98 419.6,652.41 421.0,652.39 421.2,651.90 422.4,651.60 423.7,651.57 424.7,651.43 425.1,651.83 426.4,652.39 427.3,652.35 427.8,652.38 429.1,652.16 430.4,652.32 431.8,652.37 432.5,652.10 433.1,651.95 434.5,652.21 435.8,650.83 435.9,650.91 437.2,649.13 438.6,647.76 439.0,647.41 439.9,646.95 441.2,646.33 442.3,645.49 442.6,646.09 443.9,648.69 445.3,651.05 446.6,652.31 446.9,652.06 448.0,652.42 449.4,651.93 450.4,652.22 450.7,652.16 452.1,652.23 453.4,651.91 453.8,651.80 454.8,651.92 456.1,651.93 457.3,651.76 457.4,651.82 458.8,652.27 460.1,652.08 461.2,651.95 461.5,652.23 462.9,652.37 464.2,652.23 465.6,650.40 466.4,649.45 466.9,647.56 468.2,642.93 469.0,640.68 469.6,641.82 470.9,644.28 472.3,646.83 472.9,647.64 473.6,649.05 475.0,651.71 476.4,652.35 476.8,652.00 477.7,652.32 479.1,648.83 480.4,644.60 480.8,643.92 481.8,641.23 483.1,637.19 484.4,633.88 484.7,633.17 485.8,632.28 487.1,631.28 487.9,631.14 488.5,632.98 489.9,637.48 491.2,642.01 491.5,643.18 492.6,646.62 493.9,651.10 495.1,652.27 495.2,652.19 496.6,652.43 497.9,652.34 498.6,652.12 499.3,652.43 500.6,651.99 502.0,651.98 502.0,652.44 503.4,651.96 504.7,652.28 505.5,652.06 506.1,652.06 507.4,651.48 508.8,649.08 509.1,648.52 510.1,647.57 511.4,646.70 512.7,645.33 512.8,645.47 514.1,649.08 515.5,652.19 516.0,652.43 516.9,650.82 518.2,646.00 519.5,640.89 520.9,636.78 522.2,632.72 523.1,630.33 523.6,632.10 525.0,637.58 526.0,642.30 526.3,643.03 527.6,649.30 529.0,652.43 530.4,651.96 531.7,650.77 533.0,648.18 534.2,645.84 534.4,646.51 535.8,650.57 537.1,652.13 537.4,652.24 538.5,649.47 539.8,641.61 541.1,633.74 542.3,626.61 542.5,627.69 543.9,635.30 545.2,642.67 546.5,650.38 547.2,652.35 547.9,652.06 549.2,648.12 550.5,645.20 550.6,645.28 552.0,650.08 553.1,652.06 553.3,652.30 554.6,646.61 555.7,641.57 556.0,642.32 557.4,645.92 558.7,649.90 558.9,650.17 560.0,649.11 561.4,647.29 562.8,645.66 563.9,644.18 564.1,644.36 565.5,648.22 566.7,652.07 566.8,651.86 568.1,648.91 569.3,646.32 569.5,646.54 570.9,648.40 572.0,650.04 572.2,649.06 573.5,640.60 574.6,634.24 574.9,635.72 576.2,643.22 577.6,650.95 577.8,652.03 579.0,648.51 580.3,645.16 581.6,640.93 583.0,637.10 584.4,641.37 585.7,646.00 587.0,650.20 588.2,652.16 588.4,652.14 589.8,651.94 591.1,651.91 592.5,651.25 592.8,650.70 593.8,648.74 595.1,645.72 595.8,644.29 596.5,643.13 597.9,639.76 598.7,637.92 599.2,636.92 600.5,633.75 601.7,631.10 601.9,632.00 603.2,636.89 604.6,642.26 606.0,647.07 607.1,651.32 607.3,650.92 608.6,647.36 610.0,643.66 610.0,643.56 611.4,640.48 612.7,636.45 613.0,635.73 614.0,636.26 615.4,636.34 615.6,636.45 616.8,639.71 618.1,643.17 619.2,645.97 619.5,646.92 620.8,649.83 622.1,652.10 622.8,652.42 623.5,652.01 624.9,651.27 626.2,648.78 626.4,648.56 627.5,649.28 628.9,650.37 629.1,650.27 630.2,651.58 631.6,652.01 631.9,652.25 633.0,652.07 634.3,650.25 635.6,648.40 637.0,646.38 637.1,646.21 638.4,648.68 639.7,651.45 641.0,652.21 641.0,652.10 642.4,646.50 643.8,639.46 645.1,632.21 645.6,629.78 646.5,633.24 647.8,638.72 648.5,642.05 649.1,644.71 650.5,650.00 651.5,652.09 651.9,652.29 653.2,652.29 653.4,652.20 654.5,652.16 655.9,652.37 656.7,652.50 657.2,652.38 658.6,652.05 660.0,652.42 661.3,652.23 661.9,652.06 662.6,650.57 664.0,647.93 665.4,645.13 666.7,642.60 666.8,642.49 668.0,645.00 669.4,647.73 669.5,647.85 670.8,651.45 672.1,652.49 672.3,652.24 673.5,652.26 674.8,651.06 675.0,651.09 676.1,648.37 677.5,645.41 677.7,645.19 678.9,643.20 680.2,641.92 680.4,641.74 681.5,645.66 682.9,650.68 684.0,652.14 684.2,652.30 685.6,652.43 687.0,652.47 688.3,652.08 689.3,652.34 689.6,651.96 691.0,647.41 692.4,642.40 693.7,638.02 694.5,635.24 695.0,636.90 696.4,640.70 697.8,644.91 699.1,649.17 699.7,651.14 700.5,650.51 701.8,649.81 702.3,649.83 703.1,645.96 704.5,639.28 705.6,633.81 705.9,635.53 707.2,645.11 708.2,652.14 708.5,651.35 709.9,649.47 711.2,648.14 712.6,645.96 713.4,645.22 714.0,646.65 715.3,650.57 716.0,651.96 716.6,651.83 718.0,648.97 718.6,647.59 719.4,649.04 720.7,652.45 721.2,652.33 722.0,648.18 723.4,640.69 724.4,634.67 724.8,637.03 726.1,645.80 727.0,651.64 727.5,651.99 728.8,651.43 729.7,651.27 730.1,651.88 731.5,652.18 732.3,651.97 732.9,652.29 734.2,650.57 735.5,647.26 736.8,643.80 736.9,643.49 738.2,637.24 739.6,630.93 740.3,627.31 741.0,632.57 742.3,643.29 743.3,651.46 743.6,650.96 745.0,649.41 746.0,647.80 746.4,648.73 747.7,650.52 749.0,652.06 750.4,652.11 751.2,652.44 751.8,652.36 753.1,650.10 754.5,646.31 755.8,642.27 756.4,640.54 757.1,642.34 758.5,644.91 759.6,647.30 759.9,647.50 761.2,647.31 762.5,647.32 763.6,647.00 763.9,641.92 764.6,631.30 765.2,633.49 766.6,638.85 767.4,641.70 768.0,644.09 769.3,650.43 770.1,652.47 770.6,652.41 772.0,652.03 773.4,650.79 774.7,649.85 775.3,649.16 776.0,650.42 777.4,652.37 777.9,652.18 778.8,652.26 780.1,652.05 781.1,652.15 781.5,652.05 782.8,652.19 784.1,652.39 784.4,652.40 785.5,652.45 786.9,652.03 788.2,652.43 789.5,651.23 789.6,650.64 790.9,651.57 792.2,651.66 792.2,652.03 793.6,649.11 795.0,646.56 796.3,643.52 797.4,641.44 797.6,642.04 799.0,645.26 800.4,648.50 801.7,652.09 802.7,652.15 803.0,652.24 804.4,652.43 805.6,652.02 805.8,652.16 807.1,652.03 808.5,652.38 808.5,652.19 809.8,649.85 811.1,644.01 811.4,643.33 812.5,638.27 813.9,632.17 814.3,630.40 815.2,631.26 816.5,632.87 817.9,634.76 818.2,635.01 819.2,639.09 820.6,644.53 822.0,649.67 822.8,651.93 823.3,652.31 824.6,652.25 826.0,652.45 827.4,652.37 827.4,652.40 828.7,651.97 830.0,652.08 831.3,652.00 831.4,651.93 832.8,652.15 834.1,651.97 835.2,652.19 835.5,652.26 836.8,651.96 838.1,651.98 839.1,651.95 839.5,652.22 840.9,652.06 842.2,651.41 843.0,650.42 843.5,650.07 844.9,649.47 846.2,648.14 846.9,648.10 847.6,646.91 849.0,644.16 850.3,642.02 851.5,639.76 851.6,640.35 853.0,646.66 854.4,652.07 854.7,652.34 855.7,652.25 857.0,652.30 858.0,652.07 858.4,652.07 859.8,652.33 861.1,652.44 861.3,652.33 862.5,650.89 862.6,650.61 863.8,651.03 865.1,651.21 866.5,651.77 867.9,646.31 869.2,641.01 870.4,636.35 870.5,637.26 871.9,643.00 873.2,648.53 873.6,649.90 874.6,648.36 876.0,646.33 877.3,644.41 878.2,642.78 878.6,644.05 880.0,646.78 881.4,649.37 882.7,652.04 883.4,652.33 884.0,652.36 885.4,651.06 886.4,650.15 886.8,649.73 888.1,648.05 889.5,646.58 889.5,646.77 890.8,644.80 892.1,642.65 892.5,641.79 893.5,643.63 894.9,645.60 895.2,646.29 896.2,643.39 897.5,640.31 897.5,640.40 898.9,645.31 900.2,649.87 900.4,650.46 901.6,643.39 903.0,634.97 903.6,631.31 904.3,629.91 905.6,627.49 907.0,624.72 908.2,622.76 908.4,624.33 909.7,637.83 910.8,648.51 911.0,648.82 912.4,651.08 913.8,651.98 914.0,652.04 915.1,650.30 916.5,645.77 916.7,644.57 917.8,648.83 919.1,652.21 919.3,652.02 920.5,652.18 921.9,651.76 922.2,651.39 923.2,650.61 924.5,649.08 925.1,648.46 925.9,649.21 927.2,650.74 928.6,651.90 929.0,651.97 930.0,652.03 931.3,652.15 932.3,652.26 932.6,652.20 934.0,652.40 935.4,652.39 935.6,652.11 936.7,651.93 938.0,652.19 939.4,650.64 939.5,650.54 940.8,648.71 942.1,646.60 943.4,644.96 943.5,644.76 944.8,647.54 946.1,649.78 947.5,651.99 948.6,652.26 948.9,652.01 950.2,643.38 951.5,634.59 952.2,630.58 952.9,635.04 954.2,642.70 955.6,650.68 955.8,651.90 957.0,651.69 958.3,651.07 958.7,650.84 959.6,650.63 961.0,649.34 961.6,649.08 962.4,647.99 963.7,645.94 965.0,644.08 965.5,643.66 966.4,644.84 967.8,645.82 968.3,646.78 969.1,647.08 970.5,647.51 971.0,648.11 971.8,649.00 973.1,650.18 973.8,650.97 974.5,652.20 975.9,652.27 976.6,652.34 977.2,651.09 978.5,642.14 979.6,634.82 979.9,636.68 981.2,642.64 982.6,648.70 983.8,652.45 984.0,652.20 985.3,652.07 986.6,652.02 986.7,652.14 988.0,651.11 989.4,650.38 989.6,650.00 990.7,642.64 992.0,634.59 992.6,630.99 993.4,634.30 994.8,640.22 995.4,642.63 996.1,645.98 997.5,651.39 998.1,651.95 998.8,652.42 1000.1,651.98 1001.4,652.40 1001.5,651.93 1002.9,652.11 1004.2,652.13 1004.6,652.42 1005.5,652.47 1006.9,651.58 1008.2,651.26 1008.2,651.21 1009.6,649.67 1011.0,648.45 1011.8,648.18 1012.3,647.96 1013.6,649.02 1014.6,649.70 1015.0,650.37 1016.4,652.10 1017.5,651.93 1017.7,652.34 1019.0,652.42 1020.3,652.41 1020.4,652.43 1021.8,651.98 1023.1,648.02 1024.2,645.54 1024.5,644.85 1025.8,641.06 1027.2,637.67 1028.1,635.31 1028.5,638.16 1029.8,646.31 1030.7,651.14 1031.2,651.12 1032.5,650.20 1033.3,649.99 1033.9,650.72 1035.2,651.82 1036.6,652.07 1038.0,652.05 1038.5,652.17 1039.3,652.23 1040.7,652.19 1041.8,652.25 1042.0,652.19 1043.3,652.02 1044.7,652.38 1045.0,652.16 1046.0,651.96 1047.4,652.01 1048.2,652.40 1048.8,651.95 1050.1,652.02 1051.5,652.40 1051.5,652.35 1052.8,652.38 1054.2,652.47 1055.4,651.94 1055.5,652.26 1056.8,648.32 1058.0,643.20 1058.2,643.79 1059.5,646.88 1060.6,649.71 1060.9,647.80 1062.2,639.91 1063.6,631.93 1063.9,630.00 1065.0,630.76 1065.9,630.84 1066.3,633.27 1067.7,641.46 1069.0,649.23 1069.1,649.98 1070.3,650.08 1071.7,650.38 1073.0,650.64 1073.7,650.72 1074.4,651.19 1075.8,651.94 1077.0,651.96 1077.1,652.00 1078.5,652.02 1079.8,652.33 1080.2,651.94 1081.2,652.34 1082.5,649.54 1083.8,645.69 1085.2,641.92 1085.4,641.60 1086.5,642.55 1087.4,643.59 1087.9,641.92 1089.2,638.77 1090.4,635.82 1090.6,636.56 1092.0,641.61 1093.3,646.78 1093.9,649.37 1094.7,650.45 1096.0,652.14 1097.3,652.46 1098.4,652.25 1098.7,652.01 1100.0,652.05 1101.3,652.46 1101.4,652.01 1102.8,652.28 1104.1,651.68 1104.3,651.97 1105.5,652.38 1106.8,652.18 1107.6,651.99 1108.2,649.29 1109.5,633.64 1110.8,638.21 1112.2,642.89 1112.5,643.76 1113.5,646.90 1114.9,650.96 1115.4,652.28 1116.2,652.13 1117.6,652.00 1119.0,652.16 1120.3,652.41 1120.6,652.37 1121.7,648.83 1123.0,642.07 1124.3,635.73 1125.7,629.14 1125.8,628.52 1127.0,632.44 1128.4,636.79 1129.7,640.55 1129.8,640.50 1131.1,645.34 1132.5,649.83 1133.6,652.02 1133.8,652.02 1135.2,651.98 1136.5,652.25 1136.9,652.11 1137.8,652.43 1139.2,651.99 1140.2,652.28 1140.5,652.23 1141.9,646.61 1143.2,640.22 1144.6,633.55 1144.7,632.68 1146.0,638.33 1147.3,644.57 1148.7,650.56 1149.9,652.30 1150.0,652.49 1151.3,652.02 1152.7,651.83 1153.2,651.04 1154.0,651.77 1155.4,652.21 1156.8,652.25 1158.1,652.14 1158.4,652.12 1159.5,650.46 1160.8,643.74 1162.2,636.33 1163.5,629.58 1163.6,629.41 1164.8,634.29 1166.2,639.60 1166.5,640.88 1167.5,645.55 1168.9,651.16 1169.5,652.22 1170.2,652.26 1171.6,651.99 1172.3,652.03 1173.0,652.31 1174.3,652.26 1175.0,652.16 1175.7,651.99 1177.0,652.38 1177.8,652.27 1178.3,652.45 1179.7,652.13 1180.6,652.48 1181.0,651.96 1182.4,652.20 1183.8,652.17 1185.1,652.45 1185.8,652.37 1186.5,652.23 1187.8,652.01 1189.2,650.72 1190.3,649.13 1190.5,649.09 1191.8,651.65 1193.2,652.20 1193.6,652.38 1194.5,652.30 1195.9,648.21 1196.5,646.85 1197.2,645.12 1198.6,642.17 1199.5,640.40 1200.0,642.90 1201.3,651.05 1201.4,651.68 1202.7,643.25 1204.0,634.37 1204.3,632.42 1205.3,636.51 1206.7,642.11 1207.1,643.82 1208.0,647.23 1209.4,652.37 1209.9,652.03 1210.8,651.96 1212.1,652.43 1213.2,651.98 1213.5,652.27 1214.8,652.38 1216.2,652.39 1216.4,652.48 1217.5,652.21 1218.8,652.28 1219.7,652.01 1220.2,651.06 1221.5,647.13 1222.9,642.56 1223.0,642.40 1224.2,638.34 1225.6,633.96 1226.2,632.03 1227.0,635.24 1228.3,641.67 1229.7,648.03 1230.1,650.04 1231.0,650.35 1232.3,650.95 1233.7,651.80 1234.0,651.68 1235.0,652.37 1236.4,652.11 1237.8,652.15 1237.9,652.40 1239.1,652.07 1240.5,652.27 1241.8,652.19 1243.2,652.16 1244.5,652.14 1245.7,652.24 1245.8,652.47 1247.2,652.05 1248.5,652.01 1249.9,652.22 1250.9,651.84 1251.2,652.34 1252.6,651.98 1254.0,652.11 1254.2,652.37 1255.3,648.28 1256.7,638.83 1258.0,629.86 1258.8,623.95 1259.3,629.50 1260.7,642.58 1262.0,652.09 1262.0,652.30 1263.4,652.08 1264.8,651.35 1265.5,650.68 1266.1,649.99 1267.5,648.80 1268.8,648.01 1269.0,647.83 1270.2,646.20 1271.5,644.75 1272.5,643.47 1272.8,644.26 1274.2,647.38 1275.5,650.99 1276.4,652.44 1276.9,652.06 1278.2,651.71 1279.6,651.02 1281.0,649.06 1282.3,647.43 1282.5,647.32 1283.7,646.74 1285.0,646.41 1285.5,646.31 1286.3,649.13 1287.7,652.49 1288.7,652.11 1289.0,652.08 1290.4,644.36 1291.3,638.04 1291.8,639.49 1293.1,644.16 1294.5,648.39 1295.8,652.18 1296.5,652.28 1297.2,652.44 1298.5,652.18 1299.8,652.32 1300.4,651.76 1301.2,652.02 1302.5,651.80 1303.9,651.82 1304.3,651.67 1305.2,644.67 1306.6,635.14 1307.6,627.91 1308.0,628.85 1309.3,633.58 1310.7,637.98 1311.5,641.05 1312.0,642.69 1313.3,646.76 1314.7,650.87 1315.4,652.00 1316.0,652.20 1317.4,652.27 1318.0,652.14 1318.8,652.34 1320.1,652.32 1321.0,651.96 1321.5,652.43 1322.8,651.96 1323.9,652.23 1324.2,652.25 1325.5,652.35 1326.8,651.95 1327.8,652.32 1328.2,652.07 1329.5,652.02 1330.9,652.11 1331.7,652.05 1332.2,648.14 1333.6,639.74 1335.0,631.26 1335.0,630.85 1336.3,630.84 1337.6,630.04 1337.7,630.47 1339.0,643.10 1340.2,652.24 1340.3,651.94 1341.7,651.71 1343.0,649.39 1343.4,649.20 1344.4,650.33 1345.8,652.34 1347.1,652.21 1348.0,652.28 1348.5,652.00 1349.8,652.07 1351.0,652.21 1351.2,652.10 1352.5,652.25 1353.8,651.75 1353.9,652.03 1355.2,651.24 1356.5,650.57 1357.9,650.03 1359.1,649.65 1359.2,649.61 1360.6,649.67 1362.0,650.24 1363.3,650.25 1364.3,650.64 1364.7,649.25 1366.0,644.93 1367.3,640.63 1367.5,640.50 1368.7,636.51 1370.0,631.69 1370.6,629.74 1371.4,630.07 1372.8,631.22 1372.8,631.27 1374.1,634.82 1375.5,639.14 1376.7,643.15 1376.8,643.28 1378.2,647.34 1379.5,650.84 1380.6,652.12 1380.8,652.15 1382.2,652.41 1383.4,652.42 1383.5,652.14 1384.9,651.00 1386.2,650.05 1386.3,650.11 1387.6,649.42 1389.0,648.37 1389.1,648.53 1390.3,649.17 1391.7,649.62 1393.0,650.60 1394.3,651.54 1394.3,651.12 1395.7,647.02 1397.0,642.37 1397.5,640.64 1398.4,644.45 1399.8,649.81 1400.1,650.90 1401.1,647.96 1402.5,643.47 1402.7,643.20 1403.8,643.60 1405.2,644.82 1405.4,644.76 1406.5,644.55 1407.8,643.92 1408.0,644.05 1409.2,638.87 1410.5,632.84 1410.6,632.43 1411.9,635.45 1413.2,638.38 1413.3,638.49 1414.6,640.84 1416.0,643.06 1416.1,643.18 1417.3,645.84 1418.7,648.78 1418.8,649.39 1420.0,651.87 1421.3,652.48 1421.6,652.30 1422.7,650.68 1424.0,645.17 1424.3,644.16 1425.4,639.89 1426.8,634.85 1427.1,633.48 1428.1,636.35 1429.5,640.40 1429.9,641.77 1430.8,644.46 1432.2,648.53 1432.7,649.71 1433.5,645.85 1434.8,639.28 1435.3,636.54 1436.2,640.17 1437.5,645.31 1438.6,649.42 1438.9,649.63 1440.2,649.26 1441.6,649.86 1443.0,649.87 1443.8,649.59 1444.3,650.64 1445.7,651.89 1447.0,652.22 1448.3,652.36 1449.0,651.97 1449.7,652.26 1451.0,647.28 1451.6,644.73 1452.4,645.07 1453.8,644.78 1454.2,644.72 1455.1,647.15 1456.5,651.31 1457.8,652.11 1458.1,652.32 1459.2,651.95 1460.5,647.42 1461.8,642.79 1462.7,639.98 1463.2,639.51 1464.5,639.30 1464.7,638.74 1465.9,644.47 1467.2,649.79 1467.9,652.39 1468.6,652.45 1470.0,651.59 1471.3,650.96 1471.5,650.71 1472.7,651.03 1474.0,651.16 1475.1,651.64 1475.3,651.37 1476.7,651.87 1478.0,651.95 1478.1,652.49 1479.4,652.46 1480.8,652.11 1481.2,651.97 1482.1,652.26 1483.5,652.09 1484.2,652.18 1484.8,650.27 1486.2,639.85 1486.8,634.77 1487.5,635.43 1488.8,635.92 1489.4,635.94 1490.2,639.87 1491.5,645.92 1492.9,652.21 1493.3,652.29 1494.2,651.23 1495.3,648.33 1495.6,648.22 1497.0,648.56 1498.2,648.79 1498.3,648.75 1499.7,649.96 1501.0,650.90 1501.2,650.86 1502.3,649.77 1503.7,648.71 1503.8,648.65 1505.0,651.31 1506.4,652.40 1507.8,644.17 1508.7,637.47 1509.1,638.18 1510.5,642.01 1511.8,645.77 1512.1,646.53 1513.2,649.33 1514.5,652.08 1515.5,652.07 1515.8,652.29 1517.2,652.08 1518.5,652.34 1519.1,652.37 1519.9,652.03 1521.2,650.85 1522.6,649.42 1522.7,649.31 1524.0,652.08 1524.6,652.44 1525.3,649.74 1526.7,642.17 1527.2,639.08 1528.0,637.94 1529.3,636.18 1530.5,634.78 1530.7,635.61 1532.0,641.85 1532.8,645.35 1533.0,645.24 1533.0,653.69 1532.8,653.80 1532.0,653.84 1530.7,653.99 1530.5,654.10 1529.3,653.97 1528.0,653.93 1527.2,654.00 1526.7,653.94 1525.3,653.78 1524.6,654.15 1524.0,653.80 1522.7,653.85 1522.6,653.87 1521.2,654.10 1519.9,654.08 1519.1,654.09 1518.5,654.06 1517.2,653.80 1515.8,654.01 1515.5,653.78 1514.5,653.79 1513.2,654.19 1512.1,653.97 1511.8,654.02 1510.5,653.89 1509.1,653.71 1508.7,654.07 1507.8,653.93 1506.4,654.11 1505.0,654.16 1503.8,654.11 1503.7,654.08 1502.3,653.86 1501.2,653.88 1501.0,654.08 1499.7,654.18 1498.3,654.02 1498.2,654.10 1497.0,653.94 1495.6,653.67 1495.3,653.79 1494.2,653.84 1493.3,654.01 1492.9,654.07 1491.5,653.94 1490.2,654.07 1489.4,653.79 1488.8,654.04 1487.5,654.20 1486.8,653.87 1486.2,653.95 1484.8,653.99 1484.2,653.89 1483.5,653.81 1482.1,653.97 1481.2,653.68 1480.8,653.83 1479.4,654.17 1478.1,654.21 1478.0,653.66 1476.7,653.92 1475.3,653.83 1475.1,654.17 1474.0,653.85 1472.7,653.92 1471.5,653.77 1471.3,653.91 1470.0,653.79 1468.6,654.17 1467.9,654.10 1467.2,653.66 1465.9,654.19 1464.7,653.66 1464.5,654.16 1463.2,653.86 1462.7,654.14 1461.8,654.04 1460.5,654.04 1459.2,653.94 1458.1,654.04 1457.8,653.83 1456.5,654.19 1455.1,653.70 1454.2,653.72 1453.8,653.81 1452.4,654.21 1451.6,653.94 1451.0,654.21 1449.7,653.98 1449.0,653.69 1448.3,654.07 1447.0,653.94 1445.7,653.93 1444.3,654.14 1443.8,653.64 1443.0,654.00 1441.6,654.12 1440.2,653.64 1438.9,654.14 1438.6,653.96 1437.5,653.86 1436.2,653.88 1435.3,653.68 1434.8,654.16 1433.5,653.93 1432.7,653.76 1432.2,654.18 1430.8,654.04 1429.9,653.97 1429.5,653.92 1428.1,653.79 1427.1,653.84 1426.8,653.87 1425.4,653.78 1424.3,654.06 1424.0,653.89 1422.7,654.10 1421.6,654.02 1421.3,654.20 1420.0,654.20 1418.8,654.05 1418.7,653.87 1417.3,653.90 1416.1,653.89 1416.0,654.03 1414.6,654.16 1413.3,653.98 1413.2,654.08 1411.9,654.02 1410.6,653.76 1410.5,653.96 1409.2,654.09 1408.0,654.03 1407.8,653.83 1406.5,653.96 1405.4,653.75 1405.2,653.99 1403.8,653.76 1402.7,654.16 1402.5,653.66 1401.1,654.03 1400.1,653.92 1399.8,654.20 1398.4,654.12 1397.5,653.81 1397.0,654.05 1395.7,654.21 1394.3,653.81 1394.3,654.06 1393.0,653.86 1391.7,653.65 1390.3,653.95 1389.1,653.99 1389.0,653.76 1387.6,654.17 1386.3,654.21 1386.2,654.13 1384.9,653.71 1383.5,653.86 1383.4,654.14 1382.2,654.12 1380.8,653.87 1380.6,653.83 1379.5,653.90 1378.2,654.13 1376.8,653.79 1376.7,653.94 1375.5,653.79 1374.1,653.65 1372.8,654.12 1372.8,654.10 1371.4,653.69 1370.6,653.79 1370.0,653.90 1368.7,654.19 1367.5,654.00 1367.3,653.80 1366.0,653.73 1364.7,653.67 1364.3,653.93 1363.3,653.78 1362.0,654.09 1360.6,653.85 1359.2,654.12 1359.1,654.19 1357.9,653.99 1356.5,653.88 1355.2,653.90 1353.9,654.07 1353.8,653.75 1352.5,653.97 1351.2,653.82 1351.0,653.93 1349.8,653.79 1348.5,653.72 1348.0,654.00 1347.1,653.92 1345.8,654.06 1344.4,653.83 1343.4,654.12 1343.0,653.78 1341.7,654.03 1340.3,653.66 1340.2,653.95 1339.0,654.09 1337.7,653.78 1337.6,653.81 1336.3,654.16 1335.0,653.70 1335.0,653.79 1333.6,653.76 1332.2,653.65 1331.7,654.09 1330.9,654.10 1329.5,653.92 1328.2,653.89 1327.8,654.11 1326.8,653.66 1325.5,654.06 1324.2,653.97 1323.9,653.94 1322.8,653.67 1321.5,654.15 1321.0,653.68 1320.1,654.03 1318.8,654.06 1318.0,654.18 1317.4,653.99 1316.0,653.92 1315.4,653.72 1314.7,653.69 1313.3,653.91 1312.0,654.16 1311.5,654.12 1310.7,653.93 1309.3,654.10 1308.0,653.94 1307.6,654.18 1306.6,654.15 1305.2,653.88 1304.3,653.98 1303.9,654.10 1302.5,653.99 1301.2,654.12 1300.4,653.80 1299.8,654.03 1298.5,653.90 1297.2,654.15 1296.5,653.99 1295.8,653.89 1294.5,653.81 1293.1,654.07 1291.8,653.89 1291.3,653.94 1290.4,654.01 1289.0,653.79 1288.7,653.83 1287.7,654.21 1286.3,654.05 1285.5,653.79 1285.0,653.74 1283.7,653.65 1282.5,653.90 1282.3,653.71 1281.0,653.70 1279.6,654.04 1278.2,653.90 1276.9,653.78 1276.4,654.16 1275.5,654.10 1274.2,653.74 1272.8,653.88 1272.5,653.93 1271.5,653.96 1270.2,653.72 1269.0,653.91 1268.8,653.94 1267.5,653.73 1266.1,653.91 1265.5,654.15 1264.8,653.88 1263.4,653.80 1262.0,654.02 1262.0,653.80 1260.7,654.11 1259.3,653.94 1258.8,653.64 1258.0,654.02 1256.7,653.65 1255.3,653.75 1254.2,654.09 1254.0,653.82 1252.6,653.70 1251.2,654.06 1250.9,653.88 1249.9,653.93 1248.5,653.72 1247.2,653.76 1245.8,654.18 1245.7,653.96 1244.5,653.85 1243.2,653.87 1241.8,653.91 1240.5,653.99 1239.1,653.78 1237.9,654.11 1237.8,653.87 1236.4,653.83 1235.0,654.09 1234.0,653.81 1233.7,654.07 1232.3,653.89 1231.0,653.96 1230.1,654.09 1229.7,654.15 1228.3,654.02 1227.0,653.82 1226.2,654.06 1225.6,654.07 1224.2,654.11 1223.0,653.99 1222.9,653.98 1221.5,654.18 1220.2,653.74 1219.7,653.73 1218.8,653.99 1217.5,653.93 1216.4,654.19 1216.2,654.11 1214.8,654.09 1213.5,653.99 1213.2,653.69 1212.1,654.15 1210.8,653.68 1209.9,653.74 1209.4,654.09 1208.0,653.72 1207.1,654.10 1206.7,654.04 1205.3,653.97 1204.3,654.18 1204.0,654.10 1202.7,653.79 1201.4,653.72 1201.3,653.69 1200.0,653.77 1199.5,654.01 1198.6,653.86 1197.2,653.91 1196.5,654.14 1195.9,653.70 1194.5,654.04 1193.6,654.10 1193.2,653.91 1191.8,653.84 1190.5,653.65 1190.3,654.05 1189.2,653.91 1187.8,653.72 1186.5,653.95 1185.8,654.08 1185.1,654.17 1183.8,653.89 1182.4,653.91 1181.0,653.68 1180.6,654.20 1179.7,653.85 1178.3,654.16 1177.8,653.99 1177.0,654.10 1175.7,653.71 1175.0,653.88 1174.3,653.97 1173.0,654.02 1172.3,653.74 1171.6,653.70 1170.2,653.97 1169.5,653.94 1168.9,654.21 1167.5,654.18 1166.5,653.65 1166.2,653.78 1164.8,653.96 1163.6,654.17 1163.5,653.82 1162.2,653.65 1160.8,654.16 1159.5,653.96 1158.4,653.84 1158.1,653.85 1156.8,653.97 1155.4,653.92 1154.0,653.99 1153.2,654.06 1152.7,654.11 1151.3,653.74 1150.0,654.21 1149.9,654.01 1148.7,654.20 1147.3,654.17 1146.0,653.87 1144.7,653.74 1144.6,654.11 1143.2,654.05 1141.9,653.70 1140.5,653.94 1140.2,654.00 1139.2,653.71 1137.8,654.14 1136.9,653.82 1136.5,653.96 1135.2,653.69 1133.8,653.73 1133.6,653.74 1132.5,653.79 1131.1,653.91 1129.8,653.69 1129.7,653.91 1128.4,654.20 1127.0,654.05 1125.8,654.03 1125.7,654.17 1124.3,654.13 1123.0,653.86 1121.7,654.00 1120.6,654.09 1120.3,654.13 1119.0,653.88 1117.6,653.71 1116.2,653.84 1115.4,654.00 1114.9,653.99 1113.5,653.92 1112.5,654.04 1112.2,654.01 1110.8,653.81 1109.5,653.72 1108.2,653.97 1107.6,653.71 1106.8,653.90 1105.5,654.09 1104.3,654.00 1104.1,653.65 1102.8,653.99 1101.4,653.73 1101.3,654.18 1100.0,653.77 1098.7,653.73 1098.4,653.97 1097.3,654.17 1096.0,653.86 1094.7,653.96 1093.9,653.91 1093.3,653.65 1092.0,653.71 1090.6,653.91 1090.4,653.94 1089.2,653.95 1087.9,653.66 1087.4,654.05 1086.5,653.84 1085.4,654.02 1085.2,653.80 1083.8,653.93 1082.5,654.14 1081.2,654.06 1080.2,653.66 1079.8,654.05 1078.5,653.74 1077.1,653.72 1077.0,653.68 1075.8,653.65 1074.4,653.87 1073.7,654.01 1073.0,654.03 1071.7,654.00 1070.3,653.92 1069.1,654.03 1069.0,653.87 1067.7,654.13 1066.3,653.96 1065.9,653.90 1065.0,654.16 1063.9,653.78 1063.6,653.91 1062.2,653.82 1060.9,653.65 1060.6,653.76 1059.5,653.72 1058.2,654.21 1058.0,654.15 1056.8,653.71 1055.5,653.98 1055.4,653.65 1054.2,654.18 1052.8,654.10 1051.5,654.06 1051.5,654.12 1050.1,653.73 1048.8,653.66 1048.2,654.11 1047.4,653.73 1046.0,653.68 1045.0,653.87 1044.7,654.10 1043.3,653.74 1042.0,653.91 1041.8,653.96 1040.7,653.91 1039.3,653.95 1038.5,653.89 1038.0,653.77 1036.6,653.79 1035.2,654.02 1033.9,654.20 1033.3,654.03 1032.5,653.81 1031.2,653.94 1030.7,653.67 1029.8,654.01 1028.5,654.07 1028.1,653.65 1027.2,653.64 1025.8,653.68 1024.5,654.10 1024.2,654.17 1023.1,653.69 1021.8,654.01 1020.4,654.14 1020.3,654.13 1019.0,654.14 1017.7,654.05 1017.5,653.65 1016.4,653.99 1015.0,654.15 1014.6,654.00 1013.6,653.91 1012.3,653.66 1011.8,654.19 1011.0,653.71 1009.6,653.74 1008.2,654.11 1008.2,654.11 1006.9,653.78 1005.5,654.18 1004.6,654.13 1004.2,653.84 1002.9,653.83 1001.5,653.65 1001.4,654.11 1000.1,653.70 998.8,654.13 998.1,653.67 997.5,654.08 996.1,654.19 995.4,653.90 994.8,654.06 993.4,653.94 992.6,654.06 992.0,654.17 990.7,653.66 989.6,654.05 989.4,654.21 988.0,653.75 986.7,653.85 986.6,653.73 985.3,653.79 984.0,653.91 983.8,654.17 982.6,654.10 981.2,654.08 979.9,654.17 979.6,653.65 978.5,654.07 977.2,654.14 976.6,654.05 975.9,653.99 974.5,654.03 973.8,653.67 973.1,653.67 971.8,654.06 971.0,654.03 970.5,653.74 969.1,653.99 968.3,654.11 967.8,653.69 966.4,654.10 965.5,653.85 965.0,653.66 963.7,653.70 962.4,653.92 961.6,654.00 961.0,653.83 959.6,654.16 958.7,653.69 958.3,653.81 957.0,654.05 955.8,653.94 955.6,653.90 954.2,653.89 952.9,654.20 952.2,653.86 951.5,653.68 950.2,653.74 948.9,653.73 948.6,653.98 947.5,653.92 946.1,654.03 944.8,654.13 943.5,653.67 943.4,653.96 942.1,653.75 940.8,653.95 939.5,654.01 939.4,653.98 938.0,653.90 936.7,653.65 935.6,653.82 935.4,654.11 934.0,654.12 932.6,653.92 932.3,653.98 931.3,653.87 930.0,653.75 929.0,653.68 928.6,653.83 927.2,653.95 925.9,653.70 925.1,653.70 924.5,653.85 923.2,654.20 922.2,654.12 921.9,654.05 920.5,653.90 919.3,653.74 919.1,653.92 917.8,653.76 916.7,653.78 916.5,654.14 915.1,654.07 914.0,653.75 913.8,653.69 912.4,653.83 911.0,653.86 910.8,653.97 909.7,654.19 908.4,654.07 908.2,653.97 907.0,653.76 905.6,654.07 904.3,654.04 903.6,654.16 903.0,653.90 901.6,654.18 900.4,654.02 900.2,653.97 898.9,654.21 897.5,654.11 897.5,654.19 896.2,653.65 895.2,653.76 894.9,653.65 893.5,653.95 892.5,653.77 892.1,654.10 890.8,654.19 889.5,654.12 889.5,653.91 888.1,653.91 886.8,654.14 886.4,654.21 885.4,653.75 884.0,654.08 883.4,654.04 882.7,653.75 881.4,653.71 880.0,653.95 878.6,654.05 878.2,653.73 877.3,654.01 876.0,653.90 874.6,653.91 873.6,653.95 873.2,654.04 871.9,654.12 870.5,654.00 870.4,653.71 869.2,653.65 867.9,653.66 866.5,653.81 865.1,653.78 863.8,654.13 862.6,654.17 862.5,653.98 861.3,654.04 861.1,654.15 859.8,654.05 858.4,653.79 858.0,653.79 857.0,654.02 855.7,653.97 854.7,654.06 854.4,653.79 853.0,654.19 851.6,653.85 851.5,653.92 850.3,654.05 849.0,653.80 847.6,654.16 846.9,654.11 846.2,653.68 844.9,654.05 843.5,653.69 843.0,653.64 842.2,653.98 840.9,653.77 839.5,653.94 839.1,653.67 838.1,653.70 836.8,653.67 835.5,653.97 835.2,653.91 834.1,653.68 832.8,653.86 831.4,653.65 831.3,653.71 830.0,653.80 828.7,653.68 827.4,654.12 827.4,654.09 826.0,654.17 824.6,653.97 823.3,654.02 822.8,653.64 822.0,654.01 820.6,654.09 819.2,653.87 818.2,653.84 817.9,653.97 816.5,653.79 815.2,653.90 814.3,654.17 813.9,653.94 812.5,654.02 811.4,654.17 811.1,653.80 809.8,653.95 808.5,653.91 808.5,654.10 807.1,653.75 805.8,653.87 805.6,653.74 804.4,654.15 803.0,653.96 802.7,653.87 801.7,654.02 800.4,653.72 799.0,653.78 797.6,653.85 797.4,653.86 796.3,653.74 795.0,654.09 793.6,653.95 792.2,654.16 792.2,653.70 790.9,654.10 789.6,653.66 789.5,654.20 788.2,654.15 786.9,653.74 785.5,654.17 784.4,654.11 784.1,654.11 782.8,653.91 781.5,653.76 781.1,653.87 780.1,653.77 778.8,653.97 777.9,653.89 777.4,654.09 776.0,653.66 775.3,654.08 774.7,654.21 773.4,653.88 772.0,653.85 770.6,654.13 770.1,654.19 769.3,654.08 768.0,653.84 767.4,654.17 766.6,654.15 765.2,653.89 764.6,654.15 763.9,653.67 763.6,653.99 762.5,654.17 761.2,654.00 759.9,654.02 759.6,653.79 758.5,653.70 757.1,653.96 756.4,653.72 755.8,653.71 754.5,653.85 753.1,653.73 751.8,654.08 751.2,654.16 750.4,653.83 749.0,653.78 747.7,653.95 746.4,654.20 746.0,653.81 745.0,654.13 743.6,653.94 743.3,653.99 742.3,653.81 741.0,653.87 740.3,653.80 739.6,654.12 738.2,654.06 736.9,653.94 736.8,653.77 735.5,654.08 734.2,653.98 732.9,654.01 732.3,653.69 731.5,653.90 730.1,653.74 729.7,653.79 728.8,653.79 727.5,654.11 727.0,653.68 726.1,653.83 724.8,654.02 724.4,653.99 723.4,654.15 722.0,653.73 721.2,654.05 720.7,654.16 719.4,653.67 718.6,653.87 718.0,654.04 716.6,654.19 716.0,653.68 715.3,653.69 714.0,653.75 713.4,653.94 712.6,653.66 711.2,654.10 709.9,653.70 708.5,653.84 708.2,654.18 707.2,654.19 705.9,654.12 705.6,654.16 704.5,654.20 703.1,654.21 702.3,653.88 701.8,653.66 700.5,653.82 699.7,654.16 699.1,654.02 697.8,653.85 696.4,653.75 695.0,654.06 694.5,654.07 693.7,654.04 692.4,653.68 691.0,653.95 689.6,653.76 689.3,654.06 688.3,653.80 687.0,654.18 685.6,654.14 684.2,654.02 684.0,653.86 682.9,654.12 681.5,653.94 680.4,654.16 680.2,654.09 678.9,653.66 677.7,654.20 677.5,653.99 676.1,653.98 675.0,654.18 674.8,653.81 673.5,653.98 672.3,653.96 672.1,654.20 670.8,654.18 669.5,653.93 669.4,654.12 668.0,654.15 666.8,654.20 666.7,654.12 665.4,653.98 664.0,654.12 662.6,654.09 661.9,654.10 661.3,653.95 660.0,654.13 658.6,653.77 657.2,654.09 656.7,654.21 655.9,654.09 654.5,653.87 653.4,653.91 653.2,654.00 651.9,654.00 651.5,653.80 650.5,653.70 649.1,654.11 648.5,653.98 647.8,653.78 646.5,653.95 645.6,654.04 645.1,653.84 643.8,653.97 642.4,653.91 641.0,653.81 641.0,653.93 639.7,654.12 638.4,654.10 637.1,654.17 637.0,654.19 635.6,654.15 634.3,653.94 633.0,653.78 631.9,653.96 631.6,653.72 630.2,653.68 629.1,653.75 628.9,654.02 627.5,653.79 626.4,653.80 626.2,653.68 624.9,653.87 623.5,653.72 622.8,654.14 622.1,653.82 620.8,653.72 619.5,654.03 619.2,653.68 618.1,653.91 616.8,654.17 615.6,654.08 615.4,654.01 614.0,654.19 613.0,653.86 612.7,653.76 611.4,654.14 610.0,653.70 610.0,653.67 608.6,653.89 607.3,653.96 607.1,653.84 606.0,653.93 604.6,654.19 603.2,653.91 601.9,654.10 601.7,653.95 600.5,653.91 599.2,653.93 598.7,653.84 597.9,653.77 596.5,654.21 595.8,653.80 595.1,653.87 593.8,653.94 592.8,653.72 592.5,654.04 591.1,653.82 589.8,653.66 588.4,653.85 588.2,653.88 587.0,653.90 585.7,653.99 584.4,653.67 583.0,653.70 581.6,653.75 580.3,654.20 579.0,653.77 577.8,654.07 577.6,654.10 576.2,653.89 574.9,653.91 574.6,654.10 573.5,653.99 572.2,654.13 572.0,653.88 570.9,653.79 569.5,653.75 569.3,653.79 568.1,653.98 566.8,654.11 566.7,654.11 565.5,653.80 564.1,653.77 563.9,654.15 562.8,654.16 561.4,654.06 560.0,654.15 558.9,653.73 558.7,654.01 557.4,653.77 556.0,653.90 555.7,653.98 554.6,654.02 553.3,654.01 553.1,653.77 552.0,654.07 550.6,653.93 550.5,654.19 549.2,653.71 547.9,653.99 547.2,654.06 546.5,654.01 545.2,653.79 543.9,653.90 542.5,653.78 542.3,653.80 541.1,654.17 539.8,654.11 538.5,654.04 537.4,653.95 537.1,653.84 535.8,653.90 534.4,653.87 534.2,653.80 533.0,654.02 531.7,654.13 530.4,653.68 529.0,654.14 527.6,653.84 526.3,653.70 526.0,654.11 525.0,653.85 523.6,653.84 523.1,654.11 522.2,653.89 520.9,653.83 519.5,653.80 518.2,654.01 516.9,653.93 516.0,654.15 515.5,653.91 514.1,653.83 512.8,653.66 512.7,653.78 511.4,654.06 510.1,653.75 509.1,653.84 508.8,653.83 507.4,654.04 506.1,653.78 505.5,653.77 504.7,654.00 503.4,653.68 502.0,654.16 502.0,653.69 500.6,653.71 499.3,654.15 498.6,653.83 497.9,654.06 496.6,654.15 495.2,653.90 495.1,653.99 493.9,653.67 492.6,653.88 491.5,654.09 491.2,653.94 489.9,653.96 488.5,654.02 487.9,654.21 487.1,653.83 485.8,653.88 484.7,654.01 484.4,654.05 483.1,653.74 481.8,654.16 480.8,654.16 480.4,653.80 479.1,653.97 477.7,654.03 476.8,653.72 476.4,654.07 475.0,653.70 473.6,653.72 472.9,653.81 472.3,654.11 470.9,654.07 469.6,654.11 469.0,654.08 468.2,653.73 466.9,653.67 466.4,653.83 465.6,653.80 464.2,654.08 462.9,654.08 461.5,653.95 461.2,653.66 460.1,653.79 458.8,653.99 457.4,653.72 457.3,653.80 456.1,653.94 454.8,653.90 453.8,653.74 453.4,653.74 452.1,653.95 450.7,653.87 450.4,653.94 449.4,653.65 448.0,654.13 446.9,653.77 446.6,654.03 445.3,654.01 443.9,654.12 442.6,654.00 442.3,653.94 441.2,654.20 439.9,654.09 439.0,654.06 438.6,653.88 437.2,653.73 435.9,653.98 435.8,653.81 434.5,654.04 433.1,653.67 432.5,653.82 431.8,654.08 430.4,654.03 429.1,653.88 427.8,654.10 427.3,654.06 426.4,654.11 425.1,653.80 424.7,653.96 423.7,653.92 422.4,653.69 421.2,653.79 421.0,654.16 419.6,654.13 418.3,653.70 417.8,653.85 416.9,653.94 415.6,653.92 414.3,653.83 414.2,653.78 412.9,653.82 411.6,654.12 410.2,653.79 409.3,653.98 408.9,653.66 407.5,653.93 406.5,654.17 406.1,653.97 404.8,654.01 403.4,653.99 402.1,654.00 401.2,653.99 400.8,653.78 399.4,653.86 398.1,654.07 397.9,654.11 396.7,654.08 395.4,653.74 394.7,653.89 394.0,654.03 392.6,654.18 391.3,653.68 391.1,653.79 389.9,654.15 388.6,653.80 387.6,653.92 387.2,653.78 385.9,654.19 384.6,653.76 384.0,653.88 383.2,653.67 381.9,653.74 380.5,653.83 380.4,653.73 379.1,654.14 377.8,653.73 376.5,654.20 376.4,654.11 375.1,653.71 373.9,654.16 373.8,654.16 372.4,654.19 371.1,653.77 369.9,654.13 369.7,654.21 368.4,653.88 367.0,654.16 366.0,653.89 365.6,653.79 364.3,653.83 363.4,653.76 362.9,653.71 361.6,653.84 360.5,653.75 360.2,654.14 358.9,653.95 357.6,654.06 357.6,653.76 356.2,653.70 354.9,654.00 354.9,653.68 353.5,653.71 352.1,653.97 352.1,653.97 350.8,654.17 349.4,653.82 349.4,653.91 348.1,654.07 346.8,653.95 346.6,653.82 345.4,653.97 344.1,653.81 343.9,653.93 342.7,654.00 341.4,653.97 341.1,653.86 340.0,653.76 338.6,654.00 338.4,653.77 337.3,653.87 335.9,654.00 335.4,654.11 334.6,654.17 333.2,654.00 332.1,653.80 331.9,653.90 330.6,654.14 329.2,654.03 328.9,654.10 327.9,654.01 326.5,653.88 325.6,653.84 325.1,654.01 323.8,654.03 322.4,654.03 322.4,653.93 321.1,654.16 319.8,653.73 319.8,653.66 318.4,654.17 317.1,654.14 316.2,654.14 315.7,654.18 314.4,654.21 313.0,653.77 312.7,653.94 311.6,653.97 310.3,653.91 310.0,654.06 308.9,654.06 307.6,654.19 306.8,653.72 306.2,653.85 304.9,654.21 303.6,653.74 303.5,653.75 302.2,653.69 300.9,653.76 299.6,654.12 299.5,653.75 298.1,653.91 296.8,654.10 295.4,654.01 294.4,653.77 294.1,653.94 292.8,653.72 291.4,654.07 290.5,654.02 290.1,653.86 288.7,653.68 287.4,653.98 286.6,653.91 286.0,653.83 284.6,654.04 283.4,654.12 283.3,653.79 281.9,654.21 280.6,653.88 280.1,653.70 279.2,653.70 277.9,653.69 276.6,653.82 276.2,653.70 275.2,654.19 273.9,653.75 273.6,654.05 272.5,653.88 271.1,654.18 270.3,654.08 269.8,654.02 268.4,654.05 267.1,653.92 265.8,653.83 265.7,653.74 264.4,653.79 263.1,654.09 261.7,653.68 260.5,653.67 260.4,653.97 259.0,653.65 257.6,653.71 257.2,653.67 256.3,654.21 254.9,654.12 254.0,653.69 253.6,653.98 252.2,653.97 250.9,653.98 250.8,654.02 249.6,654.06 248.2,653.76 247.5,654.05 246.8,654.14 245.5,654.02 244.2,653.75 242.8,653.85 242.3,653.75 241.4,654.05 240.1,654.11 238.8,653.73 237.4,653.75 237.1,654.10 236.1,653.91 234.7,654.14 233.3,654.09 232.0,653.96 231.8,653.71 230.7,653.84 229.3,654.02 227.9,654.12 227.9,653.72 226.6,653.96 225.2,653.74 224.0,654.02 223.9,654.03 222.6,654.16 221.2,653.81 219.8,653.97 218.8,654.11 218.5,654.08 217.2,653.75 215.8,654.09 215.6,654.04 214.4,653.79 213.1,653.89 212.3,654.20 211.8,653.77 210.4,654.00 209.1,654.04 208.4,653.87 207.7,654.00 206.3,654.04 205.0,654.01 203.7,654.03 203.2,653.87 202.3,653.95 200.9,654.07 200.6,653.66 199.6,653.83 198.2,654.18 196.9,654.20 195.6,653.79 195.3,653.81 194.2,654.01 192.8,653.83 191.5,653.95 190.2,653.86 190.1,654.18 188.8,653.85 187.4,653.86 186.1,654.20 184.9,653.88 184.8,653.98 183.4,654.21 182.1,653.90 180.7,653.92 179.7,653.65 179.3,654.04 178.0,654.08 176.7,653.80 176.4,653.97 175.3,653.92 173.9,653.68 173.2,653.86 172.6,653.89 171.2,653.87 170.6,653.85 169.9,653.92 168.6,653.95 167.7,654.00 167.2,653.70 165.8,653.67 164.7,654.03 164.5,653.72 163.2,654.19 161.8,654.12 161.8,653.86 160.4,653.98 159.1,654.10 158.8,654.20 157.8,653.87 156.4,654.17 155.1,654.04 153.7,653.64 153.6,653.92 152.3,653.65 151.0,653.71 149.7,654.02 148.3,653.80 146.9,654.19 145.8,653.86 145.6,654.19 144.2,653.71 143.1,653.77 142.9,654.05 141.6,654.13 140.3,653.98 140.2,653.76 138.8,654.16 138.0,653.65 137.5,653.73 136.2,654.18 135.4,654.05 134.8,653.89 133.4,653.74 132.8,654.09 132.1,653.81 130.8,653.89 129.6,653.70 129.4,653.66 128.1,653.72 126.7,654.12 126.3,653.83 125.3,653.65 124.0,653.72 122.7,653.68 121.3,653.82 121.0,653.70 120.0,653.88 118.6,653.88 117.2,654.01 116.5,653.99 115.9,653.92 114.5,654.04 113.2,653.86 111.8,653.96 110.5,653.66 109.2,654.09 108.0,654.14 107.8,654.16 106.5,653.71 105.1,653.68 104.1,653.96 103.8,653.76 102.4,653.99 101.0,653.69 99.7,653.81 99.5,653.71 98.3,653.80 97.0,653.94 95.7,653.72 95.6,654.20 94.3,654.04 93.0,653.88 91.7,653.78 91.6,654.18 90.2,653.83 89.1,653.79 88.9,653.91 87.5,653.72 87.2,653.85 86.2,654.13 84.8,653.85 83.5,653.94 83.2,653.74 82.2,653.95 80.8,653.64 79.5,654.08 78.1,654.07 78.0,653.73 76.8,654.21 75.4,654.18 74.0,653.86 72.7,653.87 71.3,654.00 70.2,653.90 70.0,654.08" fill="#EE9911" fill-opacity="0.8"/><polygon points="70.0,645.91 70.2,645.73 71.3,646.23 72.7,646.19 74.0,646.27 75.4,646.69 76.8,640.90 78.0,633.53 78.1,634.12 79.5,637.71 80.8,640.85 82.2,644.73 83.2,646.16 83.5,646.36 84.8,646.23 86.2,646.48 87.2,646.18 87.5,646.04 88.9,646.20 89.1,646.07 90.2,646.17 91.6,646.59 91.7,646.20 93.0,645.78 94.3,644.15 95.6,642.57 95.7,642.04 97.0,640.60 98.3,638.81 99.5,637.30 99.7,637.83 101.0,640.64 102.4,643.87 103.8,646.06 104.1,646.38 105.1,646.12 106.5,646.19 107.8,646.66 108.0,646.65 109.2,645.59 110.5,642.05 111.8,639.25 113.2,636.03 114.5,641.82 115.9,646.32 116.5,646.77 117.2,646.73 118.6,646.49 120.0,646.38 121.0,646.12 121.3,646.24 122.7,646.08 124.0,646.09 125.3,645.99 126.3,646.16 126.7,646.42 128.1,645.83 129.4,645.09 129.6,645.05 130.8,644.99 132.1,644.62 132.8,644.76 133.4,640.31 134.8,631.93 135.4,628.31 136.2,628.44 137.5,627.99 138.0,627.91 138.8,624.31 140.2,617.37 140.3,617.11 141.6,623.53 142.9,630.23 143.1,630.71 144.2,637.91 145.6,646.42 145.8,646.28 146.9,646.65 148.3,646.31 149.7,646.58 151.0,646.31 152.3,646.02 153.6,645.75 153.7,645.49 155.1,646.19 156.4,646.42 157.8,646.17 158.8,646.53 159.1,645.74 160.4,639.55 161.8,633.59 161.8,633.63 163.2,627.84 164.5,621.51 164.7,620.96 165.8,625.76 167.2,631.87 167.7,634.19 168.6,638.40 169.9,644.75 170.6,646.36 171.2,646.43 172.6,646.54 173.2,646.55 173.9,646.27 175.3,646.36 176.4,646.26 176.7,646.08 178.0,646.10 179.3,645.45 179.7,644.90 180.7,645.72 182.1,646.16 183.4,646.59 184.8,646.47 184.9,646.39 186.1,646.62 187.4,646.17 188.8,646.02 190.1,645.69 190.2,645.40 191.5,646.21 192.8,646.24 194.2,646.58 195.3,646.50 195.6,646.36 196.9,644.39 198.2,640.06 199.6,635.40 200.6,632.04 200.9,632.45 202.3,632.33 203.2,632.25 203.7,633.87 205.0,638.24 206.3,642.67 207.7,646.34 208.4,646.56 209.1,646.67 210.4,646.50 211.8,646.15 212.3,646.53 213.1,646.19 214.4,646.06 215.6,646.26 215.8,646.28 217.2,645.26 218.5,644.90 218.8,644.78 219.8,642.74 221.2,640.15 222.6,638.05 223.9,635.48 224.0,635.30 225.2,639.14 226.6,643.82 227.9,646.24 227.9,646.63 229.3,646.60 230.7,646.48 231.8,646.40 232.0,646.56 233.3,645.29 234.7,641.77 236.1,637.96 237.1,635.38 237.4,635.84 238.8,639.46 240.1,643.48 241.4,646.39 242.3,646.44 242.8,646.50 244.2,646.32 245.5,646.49 246.8,646.52 247.5,646.38 248.2,645.10 249.6,642.22 250.8,639.35 250.9,638.98 252.2,636.10 253.6,633.21 254.0,632.07 254.9,634.70 256.3,637.91 257.2,639.57 257.6,640.69 259.0,644.30 260.4,646.50 260.5,646.27 261.7,646.31 263.1,646.73 264.4,646.46 265.7,646.43 265.8,646.49 267.1,643.34 268.4,637.81 269.8,632.11 270.3,630.08 271.1,632.74 272.5,636.52 273.6,640.02 273.9,639.78 275.2,640.52 276.2,640.25 276.6,641.05 277.9,643.55 279.2,645.95 280.1,646.21 280.6,646.16 281.9,642.74 283.3,638.22 283.4,638.40 284.6,635.24 286.0,631.83 286.6,630.49 287.4,632.49 288.7,635.68 290.1,639.36 290.5,640.68 291.4,642.73 292.8,645.37 294.1,646.53 294.4,646.46 295.4,646.65 296.8,646.67 298.1,646.40 299.5,646.17 299.6,646.54 300.9,638.70 302.2,629.32 303.5,620.42 303.6,620.63 304.9,627.12 306.2,632.79 306.8,634.89 307.6,639.05 308.9,644.79 310.0,646.75 310.3,646.59 311.6,646.61 312.7,646.54 313.0,646.31 314.4,646.46 315.7,644.82 316.2,644.03 317.1,642.61 318.4,640.25 319.8,637.34 319.8,637.32 321.1,641.87 322.4,645.75 322.4,645.86 323.8,645.82 325.1,645.75 325.6,645.57 326.5,645.94 327.9,646.28 328.9,646.44 329.2,646.40 330.6,646.69 331.9,646.62 332.1,646.56 333.2,646.76 334.6,646.94 335.4,646.89 335.9,645.49 337.3,634.59 338.4,625.71 338.6,626.87 340.0,631.64 341.1,636.01 341.4,637.09 342.7,643.68 343.9,646.65 344.1,646.47 345.4,645.42 346.6,641.91 346.8,641.84 348.1,639.46 349.4,636.92 349.4,636.68 350.8,634.19 352.1,631.20 352.1,631.15 353.5,628.57 354.9,626.22 354.9,626.53 356.2,623.08 357.6,619.97 357.6,620.15 358.9,627.04 360.2,634.51 360.5,635.47 361.6,640.78 362.9,646.10 363.4,646.48 364.3,646.03 365.6,641.05 366.0,639.86 367.0,640.69 368.4,641.18 369.7,642.28 369.9,642.35 371.1,642.83 372.4,644.29 373.8,645.29 373.9,645.41 375.1,643.06 376.4,641.32 376.5,641.33 377.8,643.87 379.1,646.52 380.4,646.55 380.5,646.63 381.9,646.24 383.2,645.81 384.0,644.88 384.6,643.72 385.9,641.62 387.2,638.67 387.6,638.16 388.6,639.67 389.9,642.22 391.1,643.80 391.3,643.90 392.6,646.24 394.0,646.50 394.7,646.51 395.4,646.21 396.7,645.87 397.9,644.00 398.1,643.78 399.4,641.23 400.8,638.80 401.2,638.22 402.1,639.93 403.4,642.46 404.8,645.02 406.1,646.39 406.5,646.69 407.5,637.15 408.9,622.05 409.3,617.43 410.2,622.77 411.6,631.41 412.9,639.41 414.2,646.25 414.3,646.35 415.6,646.43 416.9,646.45 417.8,646.35 418.3,646.16 419.6,646.46 421.0,646.31 421.2,645.79 422.4,645.45 423.7,645.39 424.7,645.21 425.1,645.71 426.4,646.67 427.3,646.88 427.8,646.90 429.1,646.60 430.4,646.67 431.8,646.64 432.5,646.34 433.1,646.08 434.5,646.11 435.8,644.52 435.9,644.58 437.2,642.53 438.6,640.88 439.0,640.42 439.9,639.88 441.2,639.12 442.3,638.17 442.6,638.88 443.9,641.93 445.3,644.75 446.6,646.47 446.9,646.29 448.0,646.60 449.4,646.04 450.4,646.28 450.7,646.19 452.1,646.20 453.4,645.81 453.8,645.68 454.8,645.80 456.1,645.80 457.3,645.63 457.4,645.72 458.8,646.39 460.1,646.44 461.2,646.49 461.5,646.70 462.9,646.55 464.2,646.13 465.6,644.02 466.4,642.89 466.9,640.67 468.2,635.19 469.0,632.45 469.6,633.80 470.9,636.72 472.3,639.73 472.9,640.75 473.6,642.43 475.0,645.59 476.4,646.72 476.8,646.54 477.7,646.36 479.1,642.12 480.4,637.15 480.8,636.28 481.8,633.10 483.1,628.38 484.4,624.40 484.7,623.57 485.8,622.54 487.1,621.37 487.9,621.13 488.5,623.35 489.9,628.69 491.2,634.06 491.5,635.41 492.6,639.52 493.9,644.87 495.1,646.81 495.2,646.72 496.6,646.96 497.9,646.86 498.6,646.63 499.3,646.87 500.6,646.29 502.0,646.14 502.0,646.60 503.4,646.18 504.7,646.58 505.5,646.39 506.1,646.24 507.4,645.25 508.8,642.44 509.1,641.79 510.1,640.67 511.4,639.58 512.7,638.02 512.8,638.20 514.1,642.45 515.5,646.19 516.0,646.67 516.9,644.49 518.2,638.77 519.5,632.75 520.9,627.88 522.2,623.06 523.1,620.20 523.6,622.33 525.0,628.83 526.0,634.37 526.3,635.31 527.6,642.71 529.0,646.96 530.4,646.05 531.7,644.39 533.0,641.34 534.2,638.62 534.4,639.39 535.8,644.20 537.1,646.50 537.4,646.77 538.5,642.87 539.8,633.55 541.1,624.21 542.3,615.84 542.5,617.13 543.9,626.11 545.2,634.87 546.5,643.95 547.2,646.58 547.9,645.95 549.2,641.33 550.5,637.78 550.6,637.92 552.0,643.58 553.1,646.30 553.3,646.36 554.6,639.49 555.7,633.52 556.0,634.42 557.4,638.72 558.7,643.38 558.9,643.76 560.0,642.43 561.4,640.29 562.8,638.34 563.9,636.58 564.1,636.87 565.5,641.43 566.7,645.94 566.8,645.69 568.1,642.21 569.3,639.18 569.5,639.46 570.9,641.65 572.0,643.58 572.2,642.37 573.5,632.37 574.6,624.82 574.9,626.61 576.2,635.49 577.6,644.61 577.8,645.90 579.0,641.78 580.3,637.73 581.6,632.81 583.0,628.29 584.4,633.35 585.7,638.77 587.0,643.77 588.2,646.40 588.4,646.35 589.8,645.99 591.1,645.80 592.5,644.98 592.8,644.39 593.8,642.02 595.1,638.46 595.8,636.78 596.5,635.33 597.9,631.42 598.7,629.23 599.2,628.03 600.5,624.28 601.7,621.13 601.9,622.18 603.2,628.00 604.6,634.30 606.0,640.05 607.1,645.09 607.3,644.60 608.6,640.40 610.0,636.05 610.0,635.94 611.4,632.21 612.7,627.50 613.0,626.64 614.0,627.20 615.4,627.32 615.6,627.44 616.8,631.28 618.1,635.43 619.2,638.80 619.5,639.85 620.8,643.36 622.1,646.22 622.8,646.83 623.5,646.19 624.9,645.03 626.2,642.12 626.4,641.84 627.5,642.69 628.9,643.94 629.1,643.87 630.2,645.43 631.6,646.17 631.9,646.49 633.0,646.01 634.3,643.81 635.6,641.58 637.0,639.18 637.1,638.98 638.4,641.92 639.7,645.20 641.0,646.45 641.0,646.29 642.4,639.38 643.8,631.02 645.1,622.47 645.6,619.55 646.5,623.67 647.8,630.18 648.5,634.10 649.1,637.22 650.5,643.56 651.5,646.42 651.9,646.56 653.2,646.28 653.4,646.15 654.5,646.33 655.9,646.80 656.7,647.08 657.2,646.89 658.6,646.37 660.0,646.55 661.3,646.18 661.9,645.93 662.6,644.17 664.0,641.03 665.4,637.75 666.7,634.72 666.8,634.57 668.0,637.56 669.4,640.80 669.5,640.98 670.8,645.19 672.1,646.92 672.3,646.78 673.5,646.43 674.8,644.80 675.0,644.76 676.1,641.57 677.5,638.08 677.7,637.77 678.9,635.51 680.2,633.92 680.4,633.70 681.5,638.37 682.9,644.29 684.0,646.48 684.2,646.63 685.6,646.70 687.0,646.69 688.3,646.26 689.3,646.48 689.6,645.87 691.0,640.44 692.4,634.56 693.7,629.31 694.5,626.01 695.0,627.99 696.4,632.53 697.8,637.50 699.1,642.53 699.7,644.83 700.5,644.14 701.8,643.34 702.3,643.32 703.1,638.69 704.5,630.77 705.6,624.30 705.9,626.34 707.2,637.68 708.2,646.01 708.5,645.13 709.9,642.94 711.2,641.28 712.6,638.79 713.4,637.85 714.0,639.59 715.3,644.23 716.0,646.01 716.6,645.64 718.0,642.27 718.6,640.68 719.4,642.43 720.7,646.38 721.2,646.47 722.0,641.40 723.4,632.45 724.4,625.36 724.8,628.14 726.1,638.57 727.0,645.51 727.5,645.85 728.8,645.23 729.7,645.04 730.1,645.79 731.5,646.46 732.3,646.47 732.9,646.53 734.2,644.18 735.5,640.25 736.8,636.20 736.9,635.81 738.2,628.39 739.6,620.90 740.3,616.67 741.0,622.89 742.3,635.60 743.3,645.24 743.6,644.65 745.0,642.78 746.0,640.94 746.4,641.96 747.7,644.13 749.0,646.05 750.4,646.47 751.2,647.03 751.8,646.66 753.1,643.68 754.5,639.17 755.8,634.40 756.4,632.35 757.1,634.45 758.5,637.53 759.6,640.35 759.9,640.54 761.2,640.32 762.5,640.30 763.6,639.96 763.9,634.00 764.6,621.34 765.2,623.98 766.6,630.28 767.4,633.65 768.0,636.54 769.3,644.00 770.1,646.71 770.6,646.55 772.0,645.94 773.4,644.47 774.7,643.29 775.3,642.50 776.0,644.06 777.4,646.57 777.9,646.58 778.8,646.62 780.1,646.34 781.1,646.39 781.5,646.32 782.8,646.61 784.1,646.95 784.4,646.98 785.5,646.85 786.9,646.19 788.2,646.36 789.5,644.93 789.6,644.33 790.9,645.35 792.2,645.53 792.2,645.87 793.6,642.47 795.0,639.41 796.3,635.88 797.4,633.40 797.6,634.11 799.0,637.94 800.4,641.78 801.7,645.98 802.7,646.49 803.0,646.61 804.4,646.91 805.6,646.59 805.8,646.72 807.1,646.56 808.5,646.88 808.5,646.69 809.8,643.34 811.1,636.46 811.4,635.58 812.5,629.61 813.9,622.40 814.3,620.26 815.2,621.34 816.5,623.26 817.9,625.47 818.2,625.79 819.2,630.61 820.6,637.01 822.0,643.11 822.8,645.98 823.3,646.39 824.6,646.43 826.0,646.72 827.4,646.74 827.4,646.77 828.7,646.29 830.0,646.36 831.3,646.24 831.4,646.18 832.8,646.50 834.1,646.42 835.2,646.73 835.5,646.78 836.8,646.37 838.1,646.29 839.1,646.19 839.5,646.40 840.9,646.03 842.2,645.18 843.0,644.07 843.5,643.65 844.9,642.87 846.2,641.36 846.9,641.24 847.6,639.82 849.0,636.63 850.3,634.04 851.5,631.39 851.6,632.11 853.0,639.51 854.4,646.02 854.7,646.58 855.7,646.43 857.0,646.40 858.0,646.12 858.4,646.15 859.8,646.53 861.1,646.76 861.3,646.66 862.5,644.56 862.6,644.20 863.8,644.71 865.1,644.98 866.5,645.64 867.9,639.20 869.2,632.92 870.4,627.39 870.5,628.42 871.9,635.19 873.2,641.76 873.6,643.40 874.6,641.58 876.0,639.18 877.3,636.88 878.2,635.00 878.6,636.44 880.0,639.70 881.4,642.82 882.7,646.00 883.4,646.56 884.0,646.44 885.4,644.81 886.4,643.65 886.8,643.17 888.1,641.21 889.5,639.48 889.5,639.66 890.8,637.32 892.1,634.78 892.5,633.83 893.5,635.98 894.9,638.35 895.2,639.16 896.2,635.74 897.5,631.99 897.5,632.12 898.9,637.91 900.2,643.36 900.4,644.05 901.6,635.64 903.0,625.72 903.6,621.34 904.3,619.71 905.6,616.84 907.0,613.61 908.2,611.25 908.4,613.10 909.7,629.06 910.8,641.74 911.0,642.13 912.4,644.82 913.8,646.13 914.0,646.27 915.1,643.85 916.5,638.48 916.7,637.11 917.8,642.16 919.1,646.51 919.3,646.43 920.5,646.31 921.9,645.58 922.2,645.13 923.2,644.19 924.5,642.44 925.1,641.73 925.9,642.62 927.2,644.39 928.6,645.79 929.0,645.92 930.0,646.03 931.3,646.20 932.3,646.35 932.6,646.33 934.0,646.72 935.4,646.90 935.6,646.64 936.7,646.20 938.0,646.14 939.4,644.27 939.5,644.15 940.8,641.99 942.1,639.53 943.4,637.55 943.5,637.36 944.8,640.57 946.1,643.24 947.5,645.88 948.6,646.50 948.9,645.95 950.2,635.71 951.5,625.32 952.2,620.53 952.9,625.76 954.2,634.88 955.6,644.33 955.8,645.76 957.0,645.50 958.3,644.80 958.7,644.56 959.6,644.22 961.0,642.75 961.6,642.42 962.4,641.14 963.7,638.76 965.0,636.56 965.5,636.02 966.4,637.38 967.8,638.61 968.3,639.67 969.1,640.05 970.5,640.60 971.0,641.26 971.8,642.31 973.1,643.78 973.8,644.72 974.5,646.11 975.9,646.50 976.6,646.74 977.2,644.77 978.5,634.19 979.6,625.60 979.9,627.70 981.2,634.77 982.6,641.95 983.8,646.69 984.0,646.42 985.3,646.17 986.6,645.99 986.7,646.11 988.0,644.87 989.4,643.92 989.6,643.50 990.7,634.85 992.0,625.23 992.6,620.99 993.4,624.93 994.8,631.91 995.4,634.80 996.1,638.71 997.5,645.14 998.1,646.19 998.8,646.66 1000.1,646.23 1001.4,646.65 1001.5,646.17 1002.9,646.27 1004.2,646.20 1004.6,646.46 1005.5,646.43 1006.9,645.41 1008.2,644.98 1008.2,644.92 1009.6,643.16 1011.0,641.73 1011.8,641.32 1012.3,641.15 1013.6,642.36 1014.6,643.15 1015.0,643.92 1016.4,646.00 1017.5,646.12 1017.7,646.55 1019.0,646.83 1020.3,647.00 1020.4,646.96 1021.8,645.85 1023.1,641.22 1024.2,638.19 1024.5,637.38 1025.8,632.98 1027.2,628.97 1028.1,626.18 1028.5,629.48 1029.8,639.14 1030.7,644.92 1031.2,644.84 1032.5,643.78 1033.3,643.48 1033.9,644.32 1035.2,645.66 1036.6,646.14 1038.0,646.36 1038.5,646.58 1039.3,646.60 1040.7,646.49 1041.8,646.48 1042.0,646.44 1043.3,646.34 1044.7,646.77 1045.0,646.57 1046.0,646.33 1047.4,646.32 1048.2,646.66 1048.8,646.20 1050.1,646.24 1051.5,646.59 1051.5,646.53 1052.8,646.69 1054.2,646.89 1055.4,646.48 1055.5,646.71 1056.8,641.56 1058.0,635.42 1058.2,636.11 1059.5,639.86 1060.6,643.21 1060.9,640.97 1062.2,631.59 1063.6,622.12 1063.9,619.86 1065.0,620.69 1065.9,620.83 1066.3,623.70 1067.7,633.37 1069.0,642.61 1069.1,643.48 1070.3,643.62 1071.7,643.96 1073.0,644.25 1073.7,644.36 1074.4,644.94 1075.8,645.90 1077.0,646.12 1077.1,646.18 1078.5,646.35 1079.8,646.82 1080.2,646.48 1081.2,646.41 1082.5,642.94 1083.8,638.41 1085.2,633.97 1085.4,633.56 1086.5,634.71 1087.4,635.91 1087.9,634.00 1089.2,630.21 1090.4,626.72 1090.6,627.61 1092.0,633.62 1093.3,639.76 1093.9,642.78 1094.7,644.04 1096.0,646.08 1097.3,646.73 1098.4,646.79 1098.7,646.50 1100.0,646.32 1101.3,646.52 1101.4,646.07 1102.8,646.25 1104.1,645.56 1104.3,645.83 1105.5,646.48 1106.8,646.56 1107.6,646.53 1108.2,642.67 1109.5,624.18 1110.8,629.58 1112.2,635.09 1112.5,636.11 1113.5,639.85 1114.9,644.64 1115.4,646.24 1116.2,646.13 1117.6,646.07 1119.0,646.31 1120.3,646.64 1120.6,646.61 1121.7,642.12 1123.0,634.14 1124.3,626.58 1125.7,618.78 1125.8,618.06 1127.0,622.70 1128.4,627.82 1129.7,632.33 1129.8,632.32 1131.1,638.00 1132.5,643.35 1133.6,646.26 1133.8,646.27 1135.2,646.32 1136.5,646.69 1136.9,646.58 1137.8,646.91 1139.2,646.48 1140.2,646.78 1140.5,646.40 1141.9,639.55 1143.2,631.92 1144.6,624.00 1144.7,623.05 1146.0,629.70 1147.3,637.05 1148.7,644.13 1149.9,646.88 1150.0,647.05 1151.3,646.21 1152.7,645.66 1153.2,644.73 1154.0,645.61 1155.4,646.27 1156.8,646.55 1158.1,646.67 1158.4,646.71 1159.5,644.06 1160.8,636.07 1162.2,627.38 1163.5,619.35 1163.6,619.10 1164.8,624.91 1166.2,631.23 1166.5,632.78 1167.5,638.20 1168.9,644.84 1169.5,646.36 1170.2,646.42 1171.6,646.21 1172.3,646.28 1173.0,646.57 1174.3,646.53 1175.0,646.44 1175.7,646.22 1177.0,646.50 1177.8,646.32 1178.3,646.55 1179.7,646.37 1180.6,646.82 1181.0,646.32 1182.4,646.62 1183.8,646.66 1185.1,647.00 1185.8,646.95 1186.5,646.64 1187.8,646.04 1189.2,644.38 1190.3,642.47 1190.5,642.49 1191.8,645.49 1193.2,646.47 1193.6,646.79 1194.5,646.22 1195.9,641.44 1196.5,639.75 1197.2,637.74 1198.6,634.26 1199.5,632.13 1200.0,635.14 1201.3,644.80 1201.4,645.55 1202.7,635.55 1204.0,624.98 1204.3,622.65 1205.3,627.53 1206.7,634.16 1207.1,636.17 1208.0,640.27 1209.4,646.41 1209.9,646.43 1210.8,646.28 1212.1,646.62 1213.2,646.06 1213.5,646.37 1214.8,646.53 1216.2,646.61 1216.4,646.71 1217.5,646.38 1218.8,646.37 1219.7,646.06 1220.2,644.81 1221.5,640.07 1222.9,634.69 1223.0,634.51 1224.2,629.68 1225.6,624.50 1226.2,622.21 1227.0,626.06 1228.3,633.64 1229.7,641.14 1230.1,643.53 1231.0,643.93 1232.3,644.65 1233.7,645.62 1234.0,645.53 1235.0,646.42 1236.4,646.42 1237.8,646.71 1237.9,646.98 1239.1,646.58 1240.5,646.70 1241.8,646.53 1243.2,646.56 1244.5,646.61 1245.7,646.78 1245.8,646.98 1247.2,646.39 1248.5,646.18 1249.9,646.21 1250.9,645.71 1251.2,646.29 1252.6,646.25 1254.0,646.68 1254.2,647.01 1255.3,641.51 1256.7,630.35 1258.0,619.65 1258.8,612.72 1259.3,619.24 1260.7,634.70 1262.0,646.50 1262.0,646.70 1263.4,646.16 1264.8,645.12 1265.5,644.28 1266.1,643.51 1267.5,642.14 1268.8,641.16 1269.0,640.95 1270.2,639.06 1271.5,637.29 1272.5,635.79 1272.8,636.73 1274.2,640.45 1275.5,644.66 1276.4,646.49 1276.9,646.05 1278.2,645.54 1279.6,644.71 1281.0,642.44 1282.3,640.52 1282.5,640.35 1283.7,639.70 1285.0,639.31 1285.5,639.18 1286.3,642.47 1287.7,646.58 1288.7,646.75 1289.0,646.27 1290.4,636.83 1291.3,629.36 1291.8,631.08 1293.1,636.57 1294.5,641.63 1295.8,646.25 1296.5,646.77 1297.2,646.83 1298.5,646.36 1299.8,646.27 1300.4,645.63 1301.2,645.88 1302.5,645.64 1303.9,645.64 1304.3,645.49 1305.2,637.22 1306.6,625.88 1307.6,617.31 1308.0,618.47 1309.3,624.04 1310.7,629.28 1311.5,632.88 1312.0,634.82 1313.3,639.69 1314.7,644.59 1315.4,646.14 1316.0,646.27 1317.4,646.20 1318.0,646.00 1318.8,646.27 1320.1,646.36 1321.0,646.08 1321.5,646.58 1322.8,646.17 1323.9,646.50 1324.2,646.50 1325.5,646.48 1326.8,645.95 1327.8,646.23 1328.2,645.98 1329.5,645.91 1330.9,645.99 1331.7,645.91 1332.2,641.37 1333.6,631.40 1335.0,621.35 1335.0,620.88 1336.3,620.79 1337.6,619.90 1337.7,620.41 1339.0,635.31 1340.2,646.47 1340.3,646.14 1341.7,645.52 1343.0,642.83 1343.4,642.54 1344.4,643.93 1345.8,646.29 1347.1,646.51 1348.0,646.82 1348.5,646.49 1349.8,646.42 1351.0,646.43 1351.2,646.30 1352.5,646.29 1353.8,645.62 1353.9,645.89 1355.2,644.99 1356.5,644.20 1357.9,643.54 1359.1,643.05 1359.2,643.03 1360.6,643.14 1362.0,643.77 1363.3,643.84 1364.3,644.27 1364.7,642.67 1366.0,637.55 1367.3,632.44 1367.5,632.26 1368.7,627.49 1370.0,621.84 1370.6,619.55 1371.4,619.97 1372.8,621.25 1372.8,621.30 1374.1,625.60 1375.5,630.68 1376.7,635.41 1376.8,635.59 1378.2,640.34 1379.5,644.52 1380.6,646.35 1380.8,646.37 1382.2,646.52 1383.4,646.44 1383.5,646.14 1384.9,644.74 1386.2,643.54 1386.3,643.59 1387.6,642.79 1389.0,641.62 1389.1,641.76 1390.3,642.53 1391.7,643.12 1393.0,644.24 1394.3,645.31 1394.3,644.86 1395.7,639.94 1397.0,634.46 1397.5,632.45 1398.4,636.92 1399.8,643.24 1400.1,644.59 1401.1,641.08 1402.5,635.84 1402.7,635.43 1403.8,635.97 1405.2,637.37 1405.4,637.34 1406.5,637.06 1407.8,636.33 1408.0,636.46 1409.2,630.31 1410.5,623.20 1410.6,622.74 1411.9,626.27 1413.2,629.73 1413.3,629.88 1414.6,632.63 1416.0,635.29 1416.1,635.45 1417.3,638.59 1418.7,642.08 1418.8,642.78 1420.0,645.68 1421.3,646.80 1421.6,646.71 1422.7,644.29 1424.0,637.80 1424.3,636.58 1425.4,631.57 1426.8,625.59 1427.1,623.98 1428.1,627.38 1429.5,632.16 1429.9,633.76 1430.8,636.93 1432.2,641.73 1432.7,643.21 1433.5,638.60 1434.8,630.78 1435.3,627.62 1436.2,631.89 1437.5,637.97 1438.6,642.83 1438.9,643.04 1440.2,642.69 1441.6,643.32 1443.0,643.36 1443.8,643.09 1444.3,644.23 1445.7,645.76 1447.0,646.36 1448.3,646.76 1449.0,646.51 1449.7,646.26 1451.0,640.25 1451.6,637.28 1452.4,637.62 1453.8,637.35 1454.2,637.31 1455.1,640.18 1456.5,645.02 1457.8,646.50 1458.1,646.86 1459.2,645.82 1460.5,640.44 1461.8,634.97 1462.7,631.62 1463.2,631.11 1464.5,630.81 1464.7,630.24 1465.9,636.92 1467.2,643.32 1467.9,646.44 1468.6,646.43 1470.0,645.42 1471.3,644.66 1471.5,644.39 1472.7,644.74 1474.0,644.91 1475.1,645.42 1475.3,645.17 1476.7,645.73 1478.0,645.89 1478.1,646.44 1479.4,646.47 1480.8,646.20 1481.2,646.09 1482.1,646.46 1483.5,646.43 1484.2,646.58 1484.8,643.83 1486.2,631.49 1486.8,625.49 1487.5,626.22 1488.8,626.83 1489.4,626.89 1490.2,631.50 1491.5,638.68 1492.9,646.11 1493.3,646.53 1494.2,644.99 1495.3,641.56 1495.6,641.46 1497.0,641.82 1498.2,642.05 1498.3,642.02 1499.7,643.42 1501.0,644.56 1501.2,644.55 1502.3,643.25 1503.7,641.96 1503.8,641.88 1505.0,645.03 1506.4,646.63 1507.8,636.62 1508.7,628.65 1509.1,629.57 1510.5,634.06 1511.8,638.50 1512.1,639.40 1513.2,642.67 1514.5,646.03 1515.5,646.48 1515.8,646.66 1517.2,646.30 1518.5,646.40 1519.1,646.37 1519.9,645.90 1521.2,644.49 1522.6,642.84 1522.7,642.71 1524.0,646.03 1524.6,646.68 1525.3,643.24 1526.7,634.25 1527.2,630.57 1528.0,629.24 1529.3,627.15 1530.5,625.46 1530.7,626.47 1532.0,633.88 1532.8,638.04 1533.0,637.92 1533.0,645.24 1532.8,645.35 1532.0,641.85 1530.7,635.61 1530.5,634.78 1529.3,636.18 1528.0,637.94 1527.2,639.08 1526.7,642.17 1525.3,649.74 1524.6,652.44 1524.0,652.08 1522.7,649.31 1522.6,649.42 1521.2,650.85 1519.9,652.03 1519.1,652.37 1518.5,652.34 1517.2,652.08 1515.8,652.29 1515.5,652.07 1514.5,652.08 1513.2,649.33 1512.1,646.53 1511.8,645.77 1510.5,642.01 1509.1,638.18 1508.7,637.47 1507.8,644.17 1506.4,652.40 1505.0,651.31 1503.8,648.65 1503.7,648.71 1502.3,649.77 1501.2,650.86 1501.0,650.90 1499.7,649.96 1498.3,648.75 1498.2,648.79 1497.0,648.56 1495.6,648.22 1495.3,648.33 1494.2,651.23 1493.3,652.29 1492.9,652.21 1491.5,645.92 1490.2,639.87 1489.4,635.94 1488.8,635.92 1487.5,635.43 1486.8,634.77 1486.2,639.85 1484.8,650.27 1484.2,652.18 1483.5,652.09 1482.1,652.26 1481.2,651.97 1480.8,652.11 1479.4,652.46 1478.1,652.49 1478.0,651.95 1476.7,651.87 1475.3,651.37 1475.1,651.64 1474.0,651.16 1472.7,651.03 1471.5,650.71 1471.3,650.96 1470.0,651.59 1468.6,652.45 1467.9,652.39 1467.2,649.79 1465.9,644.47 1464.7,638.74 1464.5,639.30 1463.2,639.51 1462.7,639.98 1461.8,642.79 1460.5,647.42 1459.2,651.95 1458.1,652.32 1457.8,652.11 1456.5,651.31 1455.1,647.15 1454.2,644.72 1453.8,644.78 1452.4,645.07 1451.6,644.73 1451.0,647.28 1449.7,652.26 1449.0,651.97 1448.3,652.36 1447.0,652.22 1445.7,651.89 1444.3,650.64 1443.8,649.59 1443.0,649.87 1441.6,649.86 1440.2,649.26 1438.9,649.63 1438.6,649.42 1437.5,645.31 1436.2,640.17 1435.3,636.54 1434.8,639.28 1433.5,645.85 1432.7,649.71 1432.2,648.53 1430.8,644.46 1429.9,641.77 1429.5,640.40 1428.1,636.35 1427.1,633.48 1426.8,634.85 1425.4,639.89 1424.3,644.16 1424.0,645.17 1422.7,650.68 1421.6,652.30 1421.3,652.48 1420.0,651.87 1418.8,649.39 1418.7,648.78 1417.3,645.84 1416.1,643.18 1416.0,643.06 1414.6,640.84 1413.3,638.49 1413.2,638.38 1411.9,635.45 1410.6,632.43 1410.5,632.84 1409.2,638.87 1408.0,644.05 1407.8,643.92 1406.5,644.55 1405.4,644.76 1405.2,644.82 1403.8,643.60 1402.7,643.20 1402.5,643.47 1401.1,647.96 1400.1,650.90 1399.8,649.81 1398.4,644.45 1397.5,640.64 1397.0,642.37 1395.7,647.02 1394.3,651.12 1394.3,651.54 1393.0,650.60 1391.7,649.62 1390.3,649.17 1389.1,648.53 1389.0,648.37 1387.6,649.42 1386.3,650.11 1386.2,650.05 1384.9,651.00 1383.5,652.14 1383.4,652.42 1382.2,652.41 1380.8,652.15 1380.6,652.12 1379.5,650.84 1378.2,647.34 1376.8,643.28 1376.7,643.15 1375.5,639.14 1374.1,634.82 1372.8,631.27 1372.8,631.22 1371.4,630.07 1370.6,629.74 1370.0,631.69 1368.7,636.51 1367.5,640.50 1367.3,640.63 1366.0,644.93 1364.7,649.25 1364.3,650.64 1363.3,650.25 1362.0,650.24 1360.6,649.67 1359.2,649.61 1359.1,649.65 1357.9,650.03 1356.5,650.57 1355.2,651.24 1353.9,652.03 1353.8,651.75 1352.5,652.25 1351.2,652.10 1351.0,652.21 1349.8,652.07 1348.5,652.00 1348.0,652.28 1347.1,652.21 1345.8,652.34 1344.4,650.33 1343.4,649.20 1343.0,649.39 1341.7,651.71 1340.3,651.94 1340.2,652.24 1339.0,643.10 1337.7,630.47 1337.6,630.04 1336.3,630.84 1335.0,630.85 1335.0,631.26 1333.6,639.74 1332.2,648.14 1331.7,652.05 1330.9,652.11 1329.5,652.02 1328.2,652.07 1327.8,652.32 1326.8,651.95 1325.5,652.35 1324.2,652.25 1323.9,652.23 1322.8,651.96 1321.5,652.43 1321.0,651.96 1320.1,652.32 1318.8,652.34 1318.0,652.14 1317.4,652.27 1316.0,652.20 1315.4,652.00 1314.7,650.87 1313.3,646.76 1312.0,642.69 1311.5,641.05 1310.7,637.98 1309.3,633.58 1308.0,628.85 1307.6,627.91 1306.6,635.14 1305.2,644.67 1304.3,651.67 1303.9,651.82 1302.5,651.80 1301.2,652.02 1300.4,651.76 1299.8,652.32 1298.5,652.18 1297.2,652.44 1296.5,652.28 1295.8,652.18 1294.5,648.39 1293.1,644.16 1291.8,639.49 1291.3,638.04 1290.4,644.36 1289.0,652.08 1288.7,652.11 1287.7,652.49 1286.3,649.13 1285.5,646.31 1285.0,646.41 1283.7,646.74 1282.5,647.32 1282.3,647.43 1281.0,649.06 1279.6,651.02 1278.2,651.71 1276.9,652.06 1276.4,652.44 1275.5,650.99 1274.2,647.38 1272.8,644.26 1272.5,643.47 1271.5,644.75 1270.2,646.20 1269.0,647.83 1268.8,648.01 1267.5,648.80 1266.1,649.99 1265.5,650.68 1264.8,651.35 1263.4,652.08 1262.0,652.30 1262.0,652.09 1260.7,642.58 1259.3,629.50 1258.8,623.95 1258.0,629.86 1256.7,638.83 1255.3,648.28 1254.2,652.37 1254.0,652.11 1252.6,651.98 1251.2,652.34 1250.9,651.84 1249.9,652.22 1248.5,652.01 1247.2,652.05 1245.8,652.47 1245.7,652.24 1244.5,652.14 1243.2,652.16 1241.8,652.19 1240.5,652.27 1239.1,652.07 1237.9,652.40 1237.8,652.15 1236.4,652.11 1235.0,652.37 1234.0,651.68 1233.7,651.80 1232.3,650.95 1231.0,650.35 1230.1,650.04 1229.7,648.03 1228.3,641.67 1227.0,635.24 1226.2,632.03 1225.6,633.96 1224.2,638.34 1223.0,642.40 1222.9,642.56 1221.5,647.13 1220.2,651.06 1219.7,652.01 1218.8,652.28 1217.5,652.21 1216.4,652.48 1216.2,652.39 1214.8,652.38 1213.5,652.27 1213.2,651.98 1212.1,652.43 1210.8,651.96 1209.9,652.03 1209.4,652.37 1208.0,647.23 1207.1,643.82 1206.7,642.11 1205.3,636.51 1204.3,632.42 1204.0,634.37 1202.7,643.25 1201.4,651.68 1201.3,651.05 1200.0,642.90 1199.5,640.40 1198.6,642.17 1197.2,645.12 1196.5,646.85 1195.9,648.21 1194.5,652.30 1193.6,652.38 1193.2,652.20 1191.8,651.65 1190.5,649.09 1190.3,649.13 1189.2,650.72 1187.8,652.01 1186.5,652.23 1185.8,652.37 1185.1,652.45 1183.8,652.17 1182.4,652.20 1181.0,651.96 1180.6,652.48 1179.7,652.13 1178.3,652.45 1177.8,652.27 1177.0,652.38 1175.7,651.99 1175.0,652.16 1174.3,652.26 1173.0,652.31 1172.3,652.03 1171.6,651.99 1170.2,652.26 1169.5,652.22 1168.9,651.16 1167.5,645.55 1166.5,640.88 1166.2,639.60 1164.8,634.29 1163.6,629.41 1163.5,629.58 1162.2,636.33 1160.8,643.74 1159.5,650.46 1158.4,652.12 1158.1,652.14 1156.8,652.25 1155.4,652.21 1154.0,651.77 1153.2,651.04 1152.7,651.83 1151.3,652.02 1150.0,652.49 1149.9,652.30 1148.7,650.56 1147.3,644.57 1146.0,638.33 1144.7,632.68 1144.6,633.55 1143.2,640.22 1141.9,646.61 1140.5,652.23 1140.2,652.28 1139.2,651.99 1137.8,652.43 1136.9,652.11 1136.5,652.25 1135.2,651.98 1133.8,652.02 1133.6,652.02 1132.5,649.83 1131.1,645.34 1129.8,640.50 1129.7,640.55 1128.4,636.79 1127.0,632.44 1125.8,628.52 1125.7,629.14 1124.3,635.73 1123.0,642.07 1121.7,648.83 1120.6,652.37 1120.3,652.41 1119.0,652.16 1117.6,652.00 1116.2,652.13 1115.4,652.28 1114.9,650.96 1113.5,646.90 1112.5,643.76 1112.2,642.89 1110.8,638.21 1109.5,633.64 1108.2,649.29 1107.6,651.99 1106.8,652.18 1105.5,652.38 1104.3,651.97 1104.1,651.68 1102.8,652.28 1101.4,652.01 1101.3,652.46 1100.0,652.05 1098.7,652.01 1098.4,652.25 1097.3,652.46 1096.0,652.14 1094.7,650.45 1093.9,649.37 1093.3,646.78 1092.0,641.61 1090.6,636.56 1090.4,635.82 1089.2,638.77 1087.9,641.92 1087.4,643.59 1086.5,642.55 1085.4,641.60 1085.2,641.92 1083.8,645.69 1082.5,649.54 1081.2,652.34 1080.2,651.94 1079.8,652.33 1078.5,652.02 1077.1,652.00 1077.0,651.96 1075.8,651.94 1074.4,651.19 1073.7,650.72 1073.0,650.64 1071.7,650.38 1070.3,650.08 1069.1,649.98 1069.0,649.23 1067.7,641.46 1066.3,633.27 1065.9,630.84 1065.0,630.76 1063.9,630.00 1063.6,631.93 1062.2,639.91 1060.9,647.80 1060.6,649.71 1059.5,646.88 1058.2,643.79 1058.0,643.20 1056.8,648.32 1055.5,652.26 1055.4,651.94 1054.2,652.47 1052.8,652.38 1051.5,652.35 1051.5,652.40 1050.1,652.02 1048.8,651.95 1048.2,652.40 1047.4,652.01 1046.0,651.96 1045.0,652.16 1044.7,652.38 1043.3,652.02 1042.0,652.19 1041.8,652.25 1040.7,652.19 1039.3,652.23 1038.5,652.17 1038.0,652.05 1036.6,652.07 1035.2,651.82 1033.9,650.72 1033.3,649.99 1032.5,650.20 1031.2,651.12 1030.7,651.14 1029.8,646.31 1028.5,638.16 1028.1,635.31 1027.2,637.67 1025.8,641.06 1024.5,644.85 1024.2,645.54 1023.1,648.02 1021.8,651.98 1020.4,652.43 1020.3,652.41 1019.0,652.42 1017.7,652.34 1017.5,651.93 1016.4,652.10 1015.0,650.37 1014.6,649.70 1013.6,649.02 1012.3,647.96 1011.8,648.18 1011.0,648.45 1009.6,649.67 1008.2,651.21 1008.2,651.26 1006.9,651.58 1005.5,652.47 1004.6,652.42 1004.2,652.13 1002.9,652.11 1001.5,651.93 1001.4,652.40 1000.1,651.98 998.8,652.42 998.1,651.95 997.5,651.39 996.1,645.98 995.4,642.63 994.8,640.22 993.4,634.30 992.6,630.99 992.0,634.59 990.7,642.64 989.6,650.00 989.4,650.38 988.0,651.11 986.7,652.14 986.6,652.02 985.3,652.07 984.0,652.20 983.8,652.45 982.6,648.70 981.2,642.64 979.9,636.68 979.6,634.82 978.5,642.14 977.2,651.09 976.6,652.34 975.9,652.27 974.5,652.20 973.8,650.97 973.1,650.18 971.8,649.00 971.0,648.11 970.5,647.51 969.1,647.08 968.3,646.78 967.8,645.82 966.4,644.84 965.5,643.66 965.0,644.08 963.7,645.94 962.4,647.99 961.6,649.08 961.0,649.34 959.6,650.63 958.7,650.84 958.3,651.07 957.0,651.69 955.8,651.90 955.6,650.68 954.2,642.70 952.9,635.04 952.2,630.58 951.5,634.59 950.2,643.38 948.9,652.01 948.6,652.26 947.5,651.99 946.1,649.78 944.8,647.54 943.5,644.76 943.4,644.96 942.1,646.60 940.8,648.71 939.5,650.54 939.4,650.64 938.0,652.19 936.7,651.93 935.6,652.11 935.4,652.39 934.0,652.40 932.6,652.20 932.3,652.26 931.3,652.15 930.0,652.03 929.0,651.97 928.6,651.90 927.2,650.74 925.9,649.21 925.1,648.46 924.5,649.08 923.2,650.61 922.2,651.39 921.9,651.76 920.5,652.18 919.3,652.02 919.1,652.21 917.8,648.83 916.7,644.57 916.5,645.77 915.1,650.30 914.0,652.04 913.8,651.98 912.4,651.08 911.0,648.82 910.8,648.51 909.7,637.83 908.4,624.33 908.2,622.76 907.0,624.72 905.6,627.49 904.3,629.91 903.6,631.31 903.0,634.97 901.6,643.39 900.4,650.46 900.2,649.87 898.9,645.31 897.5,640.40 897.5,640.31 896.2,643.39 895.2,646.29 894.9,645.60 893.5,643.63 892.5,641.79 892.1,642.65 890.8,644.80 889.5,646.77 889.5,646.58 888.1,648.05 886.8,649.73 886.4,650.15 885.4,651.06 884.0,652.36 883.4,652.33 882.7,652.04 881.4,649.37 880.0,646.78 878.6,644.05 878.2,642.78 877.3,644.41 876.0,646.33 874.6,648.36 873.6,649.90 873.2,648.53 871.9,643.00 870.5,637.26 870.4,636.35 869.2,641.01 867.9,646.31 866.5,651.77 865.1,651.21 863.8,651.03 862.6,650.61 862.5,650.89 861.3,652.33 861.1,652.44 859.8,652.33 858.4,652.07 858.0,652.07 857.0,652.30 855.7,652.25 854.7,652.34 854.4,652.07 853.0,646.66 851.6,640.35 851.5,639.76 850.3,642.02 849.0,644.16 847.6,646.91 846.9,648.10 846.2,648.14 844.9,649.47 843.5,650.07 843.0,650.42 842.2,651.41 840.9,652.06 839.5,652.22 839.1,651.95 838.1,651.98 836.8,651.96 835.5,652.26 835.2,652.19 834.1,651.97 832.8,652.15 831.4,651.93 831.3,652.00 830.0,652.08 828.7,651.97 827.4,652.40 827.4,652.37 826.0,652.45 824.6,652.25 823.3,652.31 822.8,651.93 822.0,649.67 820.6,644.53 819.2,639.09 818.2,635.01 817.9,634.76 816.5,632.87 815.2,631.26 814.3,630.40 813.9,632.17 812.5,638.27 811.4,643.33 811.1,644.01 809.8,649.85 808.5,652.19 808.5,652.38 807.1,652.03 805.8,652.16 805.6,652.02 804.4,652.43 803.0,652.24 802.7,652.15 801.7,652.09 800.4,648.50 799.0,645.26 797.6,642.04 797.4,641.44 796.3,643.52 795.0,646.56 793.6,649.11 792.2,652.03 792.2,651.66 790.9,651.57 789.6,650.64 789.5,651.23 788.2,652.43 786.9,652.03 785.5,652.45 784.4,652.40 784.1,652.39 782.8,652.19 781.5,652.05 781.1,652.15 780.1,652.05 778.8,652.26 777.9,652.18 777.4,652.37 776.0,650.42 775.3,649.16 774.7,649.85 773.4,650.79 772.0,652.03 770.6,652.41 770.1,652.47 769.3,650.43 768.0,644.09 767.4,641.70 766.6,638.85 765.2,633.49 764.6,631.30 763.9,641.92 763.6,647.00 762.5,647.32 761.2,647.31 759.9,647.50 759.6,647.30 758.5,644.91 757.1,642.34 756.4,640.54 755.8,642.27 754.5,646.31 753.1,650.10 751.8,652.36 751.2,652.44 750.4,652.11 749.0,652.06 747.7,650.52 746.4,648.73 746.0,647.80 745.0,649.41 743.6,650.96 743.3,651.46 742.3,643.29 741.0,632.57 740.3,627.31 739.6,630.93 738.2,637.24 736.9,643.49 736.8,643.80 735.5,647.26 734.2,650.57 732.9,652.29 732.3,651.97 731.5,652.18 730.1,651.88 729.7,651.27 728.8,651.43 727.5,651.99 727.0,651.64 726.1,645.80 724.8,637.03 724.4,634.67 723.4,640.69 722.0,648.18 721.2,652.33 720.7,652.45 719.4,649.04 718.6,647.59 718.0,648.97 716.6,651.83 716.0,651.96 715.3,650.57 714.0,646.65 713.4,645.22 712.6,645.96 711.2,648.14 709.9,649.47 708.5,651.35 708.2,652.14 707.2,645.11 705.9,635.53 705.6,633.81 704.5,639.28 703.1,645.96 702.3,649.83 701.8,649.81 700.5,650.51 699.7,651.14 699.1,649.17 697.8,644.91 696.4,640.70 695.0,636.90 694.5,635.24 693.7,638.02 692.4,642.40 691.0,647.41 689.6,651.96 689.3,652.34 688.3,652.08 687.0,652.47 685.6,652.43 684.2,652.30 684.0,652.14 682.9,650.68 681.5,645.66 680.4,641.74 680.2,641.92 678.9,643.20 677.7,645.19 677.5,645.41 676.1,648.37 675.0,651.09 674.8,651.06 673.5,652.26 672.3,652.24 672.1,652.49 670.8,651.45 669.5,647.85 669.4,647.73 668.0,645.00 666.8,642.49 666.7,642.60 665.4,645.13 664.0,647.93 662.6,650.57 661.9,652.06 661.3,652.23 660.0,652.42 658.6,652.05 657.2,652.38 656.7,652.50 655.9,652.37 654.5,652.16 653.4,652.20 653.2,652.29 651.9,652.29 651.5,652.09 650.5,650.00 649.1,644.71 648.5,642.05 647.8,638.72 646.5,633.24 645.6,629.78 645.1,632.21 643.8,639.46 642.4,646.50 641.0,652.10 641.0,652.21 639.7,651.45 638.4,648.68 637.1,646.21 637.0,646.38 635.6,648.40 634.3,650.25 633.0,652.07 631.9,652.25 631.6,652.01 630.2,651.58 629.1,650.27 628.9,650.37 627.5,649.28 626.4,648.56 626.2,648.78 624.9,651.27 623.5,652.01 622.8,652.42 622.1,652.10 620.8,649.83 619.5,646.92 619.2,645.97 618.1,643.17 616.8,639.71 615.6,636.45 615.4,636.34 614.0,636.26 613.0,635.73 612.7,636.45 611.4,640.48 610.0,643.56 610.0,643.66 608.6,647.36 607.3,650.92 607.1,651.32 606.0,647.07 604.6,642.26 603.2,636.89 601.9,632.00 601.7,631.10 600.5,633.75 599.2,636.92 598.7,637.92 597.9,639.76 596.5,643.13 595.8,644.29 595.1,645.72 593.8,648.74 592.8,650.70 592.5,651.25 591.1,651.91 589.8,651.94 588.4,652.14 588.2,652.16 587.0,650.20 585.7,646.00 584.4,641.37 583.0,637.10 581.6,640.93 580.3,645.16 579.0,648.51 577.8,652.03 577.6,650.95 576.2,643.22 574.9,635.72 574.6,634.24 573.5,640.60 572.2,649.06 572.0,650.04 570.9,648.40 569.5,646.54 569.3,646.32 568.1,648.91 566.8,651.86 566.7,652.07 565.5,648.22 564.1,644.36 563.9,644.18 562.8,645.66 561.4,647.29 560.0,649.11 558.9,650.17 558.7,649.90 557.4,645.92 556.0,642.32 555.7,641.57 554.6,646.61 553.3,652.30 553.1,652.06 552.0,650.08 550.6,645.28 550.5,645.20 549.2,648.12 547.9,652.06 547.2,652.35 546.5,650.38 545.2,642.67 543.9,635.30 542.5,627.69 542.3,626.61 541.1,633.74 539.8,641.61 538.5,649.47 537.4,652.24 537.1,652.13 535.8,650.57 534.4,646.51 534.2,645.84 533.0,648.18 531.7,650.77 530.4,651.96 529.0,652.43 527.6,649.30 526.3,643.03 526.0,642.30 525.0,637.58 523.6,632.10 523.1,630.33 522.2,632.72 520.9,636.78 519.5,640.89 518.2,646.00 516.9,650.82 516.0,652.43 515.5,652.19 514.1,649.08 512.8,645.47 512.7,645.33 511.4,646.70 510.1,647.57 509.1,648.52 508.8,649.08 507.4,651.48 506.1,652.06 505.5,652.06 504.7,652.28 503.4,651.96 502.0,652.44 502.0,651.98 500.6,651.99 499.3,652.43 498.6,652.12 497.9,652.34 496.6,652.43 495.2,652.19 495.1,652.27 493.9,651.10 492.6,646.62 491.5,643.18 491.2,642.01 489.9,637.48 488.5,632.98 487.9,631.14 487.1,631.28 485.8,632.28 484.7,633.17 484.4,633.88 483.1,637.19 481.8,641.23 480.8,643.92 480.4,644.60 479.1,648.83 477.7,652.32 476.8,652.00 476.4,652.35 475.0,651.71 473.6,649.05 472.9,647.64 472.3,646.83 470.9,644.28 469.6,641.82 469.0,640.68 468.2,642.93 466.9,647.56 466.4,649.45 465.6,650.40 464.2,652.23 462.9,652.37 461.5,652.23 461.2,651.95 460.1,652.08 458.8,652.27 457.4,651.82 457.3,651.76 456.1,651.93 454.8,651.92 453.8,651.80 453.4,651.91 452.1,652.23 450.7,652.16 450.4,652.22 449.4,651.93 448.0,652.42 446.9,652.06 446.6,652.31 445.3,651.05 443.9,648.69 442.6,646.09 442.3,645.49 441.2,646.33 439.9,646.95 439.0,647.41 438.6,647.76 437.2,649.13 435.9,650.91 435.8,650.83 434.5,652.21 433.1,651.95 432.5,652.10 431.8,652.37 430.4,652.32 429.1,652.16 427.8,652.38 427.3,652.35 426.4,652.39 425.1,651.83 424.7,651.43 423.7,651.57 422.4,651.60 421.2,651.90 421.0,652.39 419.6,652.41 418.3,651.98 417.8,652.13 416.9,652.22 415.6,652.20 414.3,652.11 414.2,652.07 412.9,646.52 411.6,639.81 410.2,632.46 409.3,627.97 408.9,631.83 407.5,644.62 406.5,652.45 406.1,652.26 404.8,651.28 403.4,649.11 402.1,646.98 401.2,645.54 400.8,645.99 399.4,648.05 398.1,650.25 397.9,650.43 396.7,652.01 395.4,652.02 394.7,652.18 394.0,652.31 392.6,652.34 391.3,650.29 391.1,650.22 389.9,648.94 388.6,646.73 387.6,645.47 387.2,645.88 385.9,648.44 384.6,650.15 384.0,651.14 383.2,651.89 381.9,652.02 380.5,652.11 380.4,652.02 379.1,652.43 377.8,650.26 376.5,648.19 376.4,648.17 375.1,649.58 373.9,651.63 373.8,651.54 372.4,650.69 371.1,649.39 369.9,649.04 369.7,649.00 368.4,648.02 367.0,647.65 366.0,646.91 365.6,647.89 364.3,652.11 363.4,652.04 362.9,651.99 361.6,647.67 360.5,643.17 360.2,642.43 358.9,636.09 357.6,630.29 357.6,630.09 356.2,632.70 354.9,635.66 354.9,635.36 353.5,637.35 352.1,639.56 352.1,639.61 350.8,642.16 349.4,644.21 349.4,644.43 348.1,646.60 346.8,648.59 346.6,648.63 345.4,651.61 344.1,652.10 343.9,652.21 342.7,650.14 341.4,644.58 341.1,643.65 340.0,639.94 338.6,635.95 338.4,634.94 337.3,642.45 335.9,651.68 335.4,652.40 334.6,652.45 333.2,652.28 332.1,652.09 331.9,652.18 330.6,652.43 329.2,652.31 328.9,652.39 327.9,652.29 326.5,652.04 325.6,651.72 325.1,651.90 323.8,651.96 322.4,651.99 322.4,651.89 321.1,648.65 319.8,644.73 319.8,644.74 318.4,647.28 317.1,649.27 316.2,650.47 315.7,651.14 314.4,652.50 313.0,652.05 312.7,652.23 311.6,652.26 310.3,652.20 310.0,652.34 308.9,651.10 307.6,646.27 306.8,642.68 306.2,640.93 304.9,636.20 303.6,630.65 303.5,630.47 302.2,637.97 300.9,645.91 299.6,652.40 299.5,652.03 298.1,652.19 296.8,652.39 295.4,652.30 294.4,652.05 294.1,652.23 292.8,651.53 291.4,649.35 290.5,647.62 290.1,646.48 288.7,643.35 287.4,640.70 286.6,639.00 286.0,640.12 284.6,643.03 283.4,645.71 283.3,645.51 281.9,649.38 280.6,652.17 280.1,651.98 279.2,651.99 277.9,649.99 276.6,647.90 276.2,647.20 275.2,647.51 273.9,646.81 273.6,647.07 272.5,644.09 271.1,640.94 270.3,638.68 269.8,640.38 268.4,645.20 267.1,649.85 265.8,652.12 265.7,652.02 264.4,652.07 263.1,652.37 261.7,651.97 260.5,651.95 260.4,652.25 259.0,650.61 257.6,647.58 257.2,646.63 256.3,645.31 254.9,642.58 254.0,640.29 253.6,641.31 252.2,643.74 250.9,646.18 250.8,646.49 249.6,648.92 248.2,651.31 247.5,652.33 246.8,652.42 245.5,652.30 244.2,652.04 242.8,652.13 242.3,652.04 241.4,652.34 240.1,649.99 238.8,646.54 237.4,643.49 237.1,643.15 236.1,645.31 234.7,648.56 233.3,651.52 232.0,652.24 231.8,651.99 230.7,652.13 229.3,652.31 227.9,652.40 227.9,652.01 226.6,650.26 225.2,646.27 224.0,643.07 223.9,643.23 222.6,645.42 221.2,647.14 219.8,649.35 218.8,651.09 218.5,651.19 217.2,651.44 215.8,652.35 215.6,652.32 214.4,652.08 213.1,652.17 212.3,652.48 211.8,652.06 210.4,652.28 209.1,652.33 208.4,652.16 207.7,652.29 206.3,649.30 205.0,645.56 203.7,641.87 203.2,640.48 202.3,640.56 200.9,640.67 200.6,640.27 199.6,643.13 198.2,647.12 196.9,650.78 195.6,652.08 195.3,652.09 194.2,652.30 192.8,652.11 191.5,652.23 190.2,651.58 190.1,651.87 188.8,652.10 187.4,652.15 186.1,652.49 184.9,652.17 184.8,652.26 183.4,652.49 182.1,652.18 180.7,651.86 179.7,651.13 179.3,651.65 178.0,652.20 176.7,652.09 176.4,652.25 175.3,652.21 173.9,651.96 173.2,652.14 172.6,652.18 171.2,652.16 170.6,652.13 169.9,651.04 168.6,645.68 167.7,642.13 167.2,640.13 165.8,634.96 164.7,630.97 164.5,631.38 163.2,636.80 161.8,641.68 161.8,641.60 160.4,646.65 159.1,651.90 158.8,652.48 157.8,652.15 156.4,652.45 155.1,652.27 153.7,651.62 153.6,651.89 152.3,651.94 151.0,651.99 149.7,652.31 148.3,652.09 146.9,652.47 145.8,652.15 145.6,652.47 144.2,645.23 143.1,639.16 142.9,638.79 141.6,633.15 140.3,627.70 140.2,627.89 138.8,633.82 138.0,636.77 137.5,636.85 136.2,637.30 135.4,637.18 134.8,640.21 133.4,647.26 132.8,651.08 132.1,650.91 130.8,651.23 129.6,651.26 129.4,651.29 128.1,651.92 126.7,652.40 126.3,652.11 125.3,651.93 124.0,652.01 122.7,651.97 121.3,652.11 121.0,651.98 120.0,652.16 118.6,652.16 117.2,652.30 116.5,652.28 115.9,652.21 114.5,648.59 113.2,643.67 111.8,646.40 110.5,648.72 109.2,651.77 108.0,652.42 107.8,652.44 106.5,652.00 105.1,651.96 104.1,652.24 103.8,652.04 102.4,650.30 101.0,647.53 99.7,645.18 99.5,644.72 98.3,646.00 97.0,647.54 95.7,648.72 95.6,649.24 94.3,650.55 93.0,651.90 91.7,652.06 91.6,652.46 90.2,652.11 89.1,652.07 88.9,652.20 87.5,652.00 87.2,652.13 86.2,652.41 84.8,652.13 83.5,652.23 83.2,652.02 82.2,651.02 80.8,647.71 79.5,645.12 78.1,642.09 78.0,641.53 76.8,647.83 75.4,652.46 74.0,652.14 72.7,652.15 71.3,652.29 70.2,651.86 70.0,652.04" fill="#5054e6" fill-opacity="0.8"/><polygon points="70.0,636.77 70.2,636.77 71.3,637.91 72.7,639.24 74.0,640.58 75.4,641.92 76.8,625.36 78.0,610.03 78.1,610.62 79.5,618.56 80.8,626.50 82.2,634.45 83.2,640.63 83.5,640.53 84.8,640.10 86.2,639.66 87.2,639.34 87.5,639.21 88.9,638.70 89.1,638.63 90.2,639.51 91.6,640.55 91.7,640.63 93.0,636.94 94.3,632.95 95.6,629.10 95.7,628.97 97.0,625.28 98.3,621.60 99.5,618.46 99.7,619.43 101.0,625.93 102.4,632.44 103.8,638.94 104.1,640.63 105.1,640.96 106.5,641.40 107.8,641.85 108.0,641.92 109.2,636.03 110.5,629.13 111.8,622.22 113.2,615.32 114.5,627.78 115.9,640.24 116.5,645.78 117.2,644.92 118.6,643.37 120.0,641.83 121.0,640.63 121.3,640.56 122.7,640.23 124.0,639.90 125.3,639.57 126.3,639.34 126.7,638.90 128.1,637.39 129.4,635.88 129.6,635.71 130.8,635.15 132.1,634.52 132.8,634.19 133.4,625.08 134.8,606.14 135.4,597.73 136.2,597.73 137.5,597.73 138.0,597.73 138.8,588.59 140.2,574.07 140.3,572.99 141.6,586.93 142.9,601.99 143.1,603.67 144.2,619.80 145.6,637.94 145.8,640.63 146.9,641.20 148.3,641.87 149.7,642.53 151.0,643.20 152.3,639.86 153.6,636.77 153.7,636.82 155.1,637.49 156.4,638.15 157.8,638.82 158.8,639.34 159.1,636.34 160.4,622.86 161.8,609.87 161.8,609.38 163.2,596.37 164.5,583.36 164.7,581.43 165.8,592.92 167.2,606.41 167.7,610.91 168.6,620.37 169.9,634.56 170.6,641.92 171.2,642.56 172.6,643.90 173.2,644.49 173.9,643.17 175.3,640.79 176.4,638.77 176.7,638.57 178.0,637.20 179.3,635.84 179.7,635.48 180.7,636.72 182.1,638.39 183.4,640.06 184.8,641.73 184.9,641.92 186.1,640.56 187.4,639.04 188.8,637.52 190.1,636.05 190.2,636.13 191.5,638.32 192.8,640.51 194.2,642.71 195.3,644.49 195.6,642.72 196.9,633.14 198.2,623.56 199.6,613.98 200.6,606.88 200.9,606.88 202.3,606.88 203.2,606.88 203.7,610.14 205.0,619.90 206.3,629.66 207.7,639.43 208.4,644.49 209.1,643.63 210.4,641.85 211.8,640.07 212.3,639.34 213.1,638.98 214.4,638.36 215.6,637.86 215.8,637.57 217.2,636.05 218.5,634.53 218.8,634.19 219.8,629.98 221.2,624.56 222.6,619.14 223.9,613.72 224.0,613.32 225.2,622.48 226.6,632.38 227.9,641.92 227.9,641.95 229.3,642.84 230.7,643.73 231.8,644.49 232.0,643.31 233.3,635.37 234.7,627.43 236.1,619.49 237.1,613.32 237.4,615.11 238.8,623.21 240.1,631.30 241.4,639.39 242.3,644.49 242.8,644.00 244.2,642.66 245.5,641.32 246.8,639.99 247.5,639.34 248.2,635.68 249.6,628.61 250.8,622.33 250.9,621.62 252.2,615.20 253.6,608.78 254.0,606.88 254.9,611.76 256.3,618.70 257.2,623.58 257.6,626.00 259.0,634.15 260.4,642.30 260.5,643.20 261.7,643.50 263.1,643.83 264.4,644.17 265.7,644.49 265.8,644.02 267.1,631.43 268.4,618.84 269.8,606.25 270.3,601.59 271.1,607.30 272.5,616.37 273.6,623.75 273.9,623.88 275.2,624.55 276.2,625.04 276.6,626.56 277.9,632.40 279.2,638.24 280.1,641.92 280.6,638.55 281.9,629.44 283.3,620.34 283.4,620.01 284.6,613.15 286.0,606.04 286.6,602.88 287.4,607.19 288.7,614.95 290.1,622.70 290.5,625.29 291.4,629.72 292.8,636.37 294.1,643.01 294.4,644.49 295.4,643.71 296.8,642.71 298.1,641.71 299.5,640.70 299.6,640.63 300.9,621.47 302.2,600.78 303.5,580.86 303.6,581.35 304.9,594.74 306.2,608.12 306.8,613.08 307.6,621.30 308.9,634.34 310.0,644.49 310.3,644.35 311.6,643.70 312.7,643.20 313.0,642.30 314.4,638.21 315.7,634.12 316.2,632.46 317.1,629.31 318.4,623.98 319.8,618.66 319.8,618.46 321.1,627.62 322.4,636.77 322.4,636.76 323.8,636.67 325.1,636.57 325.6,636.53 326.5,637.30 327.9,638.51 328.9,639.45 329.2,640.00 330.6,642.49 331.9,644.97 332.1,645.43 333.2,645.55 334.6,645.69 335.4,645.78 335.9,636.02 337.3,612.09 338.4,592.58 338.6,594.64 340.0,605.79 341.1,615.28 341.4,617.43 342.7,631.98 343.9,644.92 344.1,644.02 345.4,635.92 346.6,628.48 346.8,628.02 348.1,622.46 349.4,617.18 349.4,616.85 350.8,610.52 352.1,604.33 352.1,604.22 353.5,599.07 354.9,593.92 354.9,593.88 356.2,586.88 357.6,579.83 357.6,579.57 358.9,595.14 360.2,611.31 360.5,614.30 361.6,625.92 362.9,640.17 363.4,644.92 364.3,637.59 365.6,626.60 366.0,623.75 367.0,625.02 368.4,626.72 369.7,628.43 369.9,628.74 371.1,630.62 372.4,632.92 373.8,635.23 373.9,635.48 375.1,631.26 376.4,626.50 376.5,626.33 377.8,633.00 379.1,639.93 380.4,645.84 380.5,645.91 381.9,641.75 383.2,637.46 384.0,634.93 384.6,632.63 385.9,626.99 387.2,621.36 387.6,619.89 388.6,623.51 389.9,628.40 391.1,632.75 391.3,633.20 392.6,637.29 394.0,641.37 394.7,643.49 395.4,641.28 396.7,636.70 397.9,632.45 398.1,632.07 399.4,626.85 400.8,621.63 401.2,619.89 402.1,623.66 403.4,629.30 404.8,634.95 406.1,640.60 406.5,642.06 407.5,617.65 408.9,584.69 409.3,573.71 410.2,586.01 411.6,604.46 412.9,622.92 414.2,641.38 414.3,642.06 415.6,641.98 416.9,641.89 417.8,641.83 418.3,641.12 419.6,639.30 421.0,637.48 421.2,637.17 422.4,636.62 423.7,635.97 424.7,635.48 425.1,636.94 426.4,642.59 427.3,646.17 427.8,645.98 429.1,644.86 430.4,643.75 431.8,642.64 432.5,642.06 433.1,640.51 434.5,637.31 435.8,634.29 435.9,634.05 437.2,630.05 438.6,626.04 439.0,624.62 439.9,623.36 441.2,621.41 442.3,619.89 442.6,621.34 443.9,627.84 445.3,634.35 446.6,640.85 446.9,642.06 448.0,641.24 449.4,640.23 450.4,639.47 450.7,639.23 452.1,638.28 453.4,637.32 453.8,637.02 454.8,636.95 456.1,636.85 457.3,636.77 457.4,637.14 458.8,640.45 460.1,643.77 461.2,645.77 461.5,645.44 462.9,641.36 464.2,637.27 465.6,633.19 466.4,630.62 466.9,626.05 468.2,613.73 469.0,606.88 469.6,609.81 470.9,616.39 472.3,622.98 472.9,625.90 473.6,629.83 475.0,636.91 476.4,643.99 476.8,645.83 477.7,639.25 479.1,628.59 480.4,617.94 480.8,615.18 481.8,608.12 483.1,598.59 484.4,589.05 484.7,587.29 485.8,585.27 487.1,582.80 487.9,581.43 488.5,586.76 489.9,598.75 491.2,610.75 491.5,613.42 492.6,623.02 493.9,635.37 495.1,646.10 495.2,646.01 496.6,646.18 497.9,646.02 498.6,645.91 499.3,644.88 500.6,642.90 502.0,640.93 502.0,640.89 503.4,641.87 504.7,642.89 505.5,643.49 506.1,641.14 507.4,635.39 508.8,629.63 509.1,628.14 510.1,625.85 511.4,622.76 512.7,619.89 512.8,620.57 514.1,629.63 515.5,638.70 516.0,642.06 516.9,633.94 518.2,621.05 519.5,608.15 520.9,597.28 522.2,586.41 523.1,579.57 523.6,584.90 525.0,599.31 526.0,611.05 526.3,614.05 527.6,630.20 529.0,646.25 530.4,639.81 531.7,633.28 533.0,626.75 534.2,621.18 534.4,622.75 535.8,633.37 537.1,643.99 537.4,646.06 538.5,630.11 539.8,609.23 541.1,588.35 542.3,570.56 542.5,573.48 543.9,593.18 545.2,612.88 546.5,632.57 547.2,642.06 547.9,637.05 549.2,627.40 550.5,618.46 550.6,619.37 552.0,631.62 553.1,642.06 553.3,639.55 554.6,622.62 555.7,609.46 556.0,611.64 557.4,621.47 558.7,631.31 558.9,632.76 560.0,628.88 561.4,624.33 562.8,619.77 563.9,615.89 564.1,617.38 565.5,627.45 566.7,636.77 566.8,636.22 568.1,628.79 569.3,622.47 569.5,623.18 570.9,627.97 572.0,632.05 572.2,628.80 573.5,606.90 574.6,589.86 574.9,594.26 576.2,614.05 577.6,633.84 577.8,636.77 579.0,628.29 580.3,618.34 581.6,608.39 583.0,598.44 584.4,609.77 585.7,621.09 587.0,632.41 588.2,642.06 588.4,641.72 589.8,639.41 591.1,637.10 592.5,634.79 592.8,634.19 593.8,628.44 595.1,620.68 595.8,617.12 596.5,612.96 597.9,605.26 598.7,600.25 599.2,597.36 600.5,589.07 601.7,582.00 601.9,583.98 603.2,597.35 604.6,610.72 606.0,624.09 607.1,635.48 607.3,634.12 608.6,624.96 610.0,615.79 610.0,615.45 611.4,606.19 612.7,596.58 613.0,594.44 614.0,594.96 615.4,595.63 615.6,595.73 616.8,604.07 618.1,613.87 619.2,621.85 619.5,623.42 620.8,631.91 622.1,640.40 622.8,644.49 623.5,641.35 624.9,635.29 626.2,629.23 626.4,628.33 627.5,630.27 628.9,632.54 629.1,632.96 630.2,636.60 631.6,641.07 631.9,642.06 633.0,637.84 634.3,632.42 635.6,627.00 637.0,621.58 637.1,621.18 638.4,627.87 639.7,635.10 641.0,642.06 641.0,641.37 642.4,622.65 643.8,603.93 645.1,585.21 645.6,578.28 646.5,587.63 647.8,602.49 648.5,610.74 649.1,617.40 650.5,632.39 651.5,643.49 651.9,642.49 653.2,638.63 653.4,638.05 654.5,641.19 655.9,644.88 656.7,646.37 657.2,645.98 658.6,643.30 660.0,640.63 661.3,637.96 661.9,636.77 662.6,632.87 664.0,625.86 665.4,618.85 666.7,611.83 666.8,611.31 668.0,618.05 669.4,625.33 669.5,626.13 670.8,634.96 672.1,644.88 672.3,646.06 673.5,641.08 674.8,634.90 675.0,633.99 676.1,627.35 677.5,619.57 677.7,618.42 678.9,614.60 680.2,610.12 680.4,609.46 681.5,620.33 682.9,633.09 684.0,643.49 684.2,643.35 685.6,642.63 687.0,641.90 688.3,641.17 689.3,640.63 689.6,637.39 691.0,624.92 692.4,612.45 693.7,599.97 694.5,592.58 695.0,596.98 696.4,607.79 697.8,618.59 699.1,629.39 699.7,634.19 700.5,633.41 701.8,632.00 702.3,631.48 703.1,620.43 704.5,602.88 705.6,588.58 705.9,593.21 707.2,618.23 708.2,636.77 708.5,635.58 709.9,631.02 711.2,626.45 712.6,621.88 713.4,619.18 714.0,623.44 715.3,633.91 716.0,639.34 716.6,635.91 718.0,628.78 718.6,625.61 719.4,629.95 720.7,637.74 721.2,640.63 722.0,627.52 723.4,606.71 724.4,591.29 724.8,597.42 726.1,621.03 727.0,636.77 727.5,636.55 728.8,635.91 729.7,635.48 730.1,637.26 731.5,642.61 732.3,645.75 732.9,642.12 734.2,633.16 735.5,624.19 736.8,615.89 736.9,614.65 738.2,597.88 739.6,581.11 740.3,572.42 741.0,586.08 742.3,614.46 743.3,635.48 743.6,634.29 745.0,629.72 746.0,626.33 746.4,627.72 747.7,633.11 749.0,638.49 750.4,643.87 751.2,646.31 751.8,642.87 753.1,632.59 754.5,622.31 755.8,612.02 756.4,607.45 757.1,611.58 758.5,619.00 759.6,625.04 759.9,624.96 761.2,624.53 762.5,624.09 763.6,623.75 763.9,611.23 764.6,582.00 765.2,588.46 766.6,601.87 767.4,609.33 768.0,616.47 769.3,632.54 770.1,642.06 770.6,640.70 772.0,637.36 773.4,634.02 774.7,630.67 775.3,629.19 776.0,633.60 777.4,641.55 777.9,644.49 778.8,643.84 780.1,642.82 781.1,642.06 781.5,642.59 782.8,644.64 784.1,646.24 784.4,646.27 785.5,644.34 786.9,641.00 788.2,637.66 789.5,634.32 789.6,634.19 790.9,635.48 792.2,636.77 792.2,636.51 793.6,629.41 795.0,622.32 796.3,615.23 797.4,609.46 797.6,611.06 799.0,619.73 800.4,628.40 801.7,637.07 802.7,643.49 803.0,643.89 804.4,645.42 805.6,645.87 805.8,646.01 807.1,645.85 808.5,645.79 808.5,645.78 809.8,631.36 811.1,616.39 811.4,613.62 812.5,600.70 813.9,584.85 814.3,579.57 815.2,582.57 816.5,587.08 817.9,591.58 818.2,592.58 819.2,603.25 820.6,616.98 822.0,630.70 822.8,639.34 823.3,639.84 824.6,641.18 826.0,642.53 827.4,643.87 827.4,643.92 828.7,643.30 830.0,642.66 831.3,642.07 831.4,642.18 832.8,643.66 834.1,645.14 835.2,646.01 835.5,646.06 836.8,644.59 838.1,643.10 839.1,642.06 839.5,641.20 840.9,638.29 842.2,635.38 843.0,633.65 843.5,632.62 844.9,630.08 846.2,627.55 846.9,626.33 847.6,623.06 849.0,616.77 850.3,610.47 851.5,604.88 851.6,606.62 853.0,622.31 854.4,637.99 854.7,642.06 855.7,641.23 857.0,640.10 858.0,639.31 858.4,639.82 859.8,641.53 861.1,643.24 861.3,643.49 862.5,634.00 862.6,632.76 863.8,634.00 865.1,635.38 866.5,636.77 867.9,622.81 869.2,608.85 870.4,596.44 870.5,598.08 871.9,612.86 873.2,627.65 873.6,631.48 874.6,627.53 876.0,622.20 877.3,616.87 878.2,613.32 878.6,615.80 880.0,623.27 881.4,630.73 882.7,638.19 883.4,642.06 884.0,639.78 885.4,635.06 886.4,631.46 886.8,630.54 888.1,626.70 889.5,622.86 889.5,622.80 890.8,617.44 892.1,612.01 892.5,610.60 893.5,614.99 894.9,620.93 895.2,622.47 896.2,615.13 897.5,605.59 897.5,606.06 898.9,618.71 900.2,631.36 900.4,632.76 901.6,613.73 903.0,592.31 903.6,582.00 904.3,578.65 905.6,572.18 907.0,565.72 908.2,559.98 908.4,563.89 909.7,599.08 910.8,627.76 911.0,628.88 912.4,634.91 913.8,640.94 914.0,642.06 915.1,632.21 916.5,620.13 916.7,617.89 917.8,629.14 919.1,642.96 919.3,644.49 920.5,640.54 921.9,636.11 922.2,634.96 923.2,632.67 924.5,629.59 925.1,628.33 925.9,630.33 927.2,633.69 928.6,637.06 929.0,638.05 930.0,638.58 931.3,639.34 932.3,639.89 932.6,640.58 934.0,643.22 935.4,645.86 935.6,645.93 936.7,642.59 938.0,637.97 939.4,633.35 939.5,633.01 940.8,628.35 942.1,623.31 943.4,618.46 943.5,618.69 944.8,624.82 946.1,630.94 947.5,637.07 948.6,642.06 948.9,637.81 950.2,614.86 951.5,591.91 952.2,580.86 952.9,591.73 954.2,612.69 955.6,633.66 955.8,636.77 957.0,635.92 958.3,634.92 958.7,634.63 959.6,632.84 961.0,630.31 961.6,629.19 962.4,626.52 963.7,621.72 965.0,616.92 965.5,615.32 966.4,617.76 967.8,621.43 968.3,622.84 969.1,623.95 970.5,625.74 971.0,626.53 971.8,628.82 973.1,632.95 973.8,635.02 974.5,637.31 975.9,641.93 976.6,644.49 977.2,634.11 978.5,610.75 979.6,592.58 979.9,596.12 981.2,612.02 982.6,627.92 983.8,642.06 984.0,641.86 985.3,640.08 986.6,638.30 986.7,638.24 988.0,635.21 989.4,632.06 989.6,631.48 990.7,613.13 992.0,590.60 992.6,581.43 993.4,590.46 994.8,605.70 995.4,612.48 996.1,620.55 997.5,635.07 998.1,642.06 998.8,642.10 1000.1,642.19 1001.4,642.27 1001.5,642.13 1002.9,640.92 1004.2,639.70 1004.6,639.34 1005.5,638.10 1006.9,636.34 1008.2,634.64 1008.2,634.52 1009.6,631.41 1011.0,628.29 1011.8,626.33 1012.3,627.12 1013.6,629.27 1014.6,630.82 1015.0,632.18 1016.4,637.16 1017.5,641.29 1017.7,641.76 1019.0,644.51 1020.3,646.29 1020.4,646.25 1021.8,636.78 1023.1,627.21 1024.2,619.41 1024.5,617.77 1025.8,608.93 1027.2,600.09 1028.1,593.87 1028.5,600.27 1029.8,621.88 1030.7,635.48 1031.2,634.71 1032.5,632.63 1033.3,631.48 1033.9,632.98 1035.2,636.36 1036.6,639.74 1038.0,643.11 1038.5,644.49 1039.3,643.90 1040.7,642.91 1041.8,642.06 1042.0,642.21 1043.3,643.24 1044.7,644.26 1045.0,644.49 1046.0,643.85 1047.4,643.02 1048.2,642.50 1048.8,642.32 1050.1,641.84 1051.5,641.36 1051.5,641.34 1052.8,643.01 1054.2,644.74 1055.4,645.76 1055.5,645.08 1056.8,627.93 1058.0,613.32 1058.2,614.71 1059.5,624.14 1060.6,631.48 1060.9,626.76 1062.2,605.52 1063.6,584.29 1063.9,579.57 1065.0,580.54 1065.9,581.43 1066.3,587.68 1067.7,608.80 1069.0,629.91 1069.1,631.48 1070.3,632.02 1071.7,632.61 1073.0,633.20 1073.7,633.48 1074.4,635.09 1075.8,638.20 1077.0,640.97 1077.1,641.22 1078.5,643.45 1079.8,645.69 1080.2,645.76 1081.2,639.61 1082.5,630.03 1083.8,620.45 1085.2,610.87 1085.4,609.46 1086.5,612.42 1087.4,614.60 1087.9,611.24 1089.2,602.17 1090.4,594.44 1090.6,596.48 1092.0,610.27 1093.3,624.06 1093.9,630.19 1094.7,632.88 1096.0,637.73 1097.3,642.58 1098.4,646.08 1098.7,645.65 1100.0,642.53 1101.3,639.52 1101.4,639.47 1102.8,638.21 1104.1,636.95 1104.3,636.77 1105.5,640.11 1106.8,644.03 1107.6,645.81 1108.2,629.83 1109.5,589.29 1110.8,601.09 1112.2,612.88 1112.5,615.07 1113.5,623.64 1114.9,634.16 1115.4,638.05 1116.2,638.71 1117.6,639.75 1119.0,640.79 1120.3,641.83 1120.6,642.06 1121.7,628.52 1123.0,611.10 1124.3,593.69 1125.7,576.28 1125.8,574.99 1127.0,585.25 1128.4,596.32 1129.7,606.99 1129.8,607.44 1131.1,619.58 1132.5,631.72 1133.6,642.06 1133.8,642.26 1135.2,643.63 1136.5,644.99 1136.9,645.40 1137.8,645.51 1139.2,645.66 1140.2,645.78 1140.5,641.18 1141.9,623.47 1143.2,605.75 1144.6,588.03 1144.7,586.72 1146.0,601.22 1147.3,616.89 1148.7,632.56 1149.9,646.17 1150.0,646.34 1151.3,641.41 1152.7,636.14 1153.2,634.19 1154.0,636.30 1155.4,639.64 1156.8,642.98 1158.1,645.96 1158.4,645.99 1159.5,632.92 1160.8,614.72 1162.2,596.53 1163.5,578.34 1163.6,576.99 1164.8,590.37 1166.2,604.81 1166.5,608.55 1167.5,619.42 1168.9,634.10 1169.5,640.63 1170.2,641.07 1171.6,641.87 1172.3,642.27 1173.0,642.37 1174.3,642.56 1175.0,642.66 1175.7,641.95 1177.0,640.35 1177.8,639.37 1178.3,640.15 1179.7,642.15 1180.6,643.49 1181.0,643.80 1182.4,644.73 1183.8,645.65 1185.1,646.29 1185.8,646.24 1186.5,644.48 1187.8,639.12 1189.2,633.76 1190.3,629.19 1190.5,630.12 1191.8,636.38 1193.2,642.64 1193.6,644.49 1194.5,637.55 1195.9,627.70 1196.5,622.95 1197.2,619.00 1198.6,611.39 1199.5,606.31 1200.0,613.52 1201.3,635.16 1201.4,636.77 1202.7,614.39 1204.0,590.23 1204.3,584.86 1205.3,596.19 1206.7,610.76 1207.1,615.08 1208.0,625.06 1209.4,639.24 1209.9,644.49 1210.8,643.28 1212.1,641.37 1213.2,639.86 1213.5,640.04 1214.8,640.93 1216.2,641.81 1216.4,642.00 1217.5,641.13 1218.8,640.03 1219.7,639.34 1220.2,635.08 1221.5,623.57 1222.9,612.06 1223.0,611.63 1224.2,600.64 1225.6,589.22 1226.2,584.14 1227.0,593.25 1228.3,609.63 1229.7,626.02 1230.1,631.48 1231.0,632.64 1232.3,634.39 1233.7,636.14 1234.0,636.53 1235.0,639.36 1236.4,643.01 1237.8,645.99 1237.9,646.27 1239.1,645.86 1240.5,644.73 1241.8,643.49 1243.2,644.48 1244.5,645.47 1245.7,646.07 1245.8,646.07 1247.2,643.59 1248.5,641.10 1249.9,638.61 1250.9,636.77 1251.2,637.94 1252.6,642.44 1254.0,645.97 1254.2,646.29 1255.3,627.74 1256.7,603.15 1258.0,578.55 1258.8,563.98 1259.3,577.82 1260.7,611.78 1262.0,644.49 1262.0,644.33 1263.4,639.89 1264.8,635.46 1265.5,633.00 1266.1,631.82 1267.5,629.18 1268.8,626.53 1269.0,626.14 1270.2,622.35 1271.5,617.90 1272.5,614.60 1272.8,616.82 1274.2,625.39 1275.5,633.95 1276.4,639.34 1276.9,638.54 1278.2,636.37 1279.6,634.19 1281.0,629.90 1282.3,625.61 1282.5,624.82 1283.7,623.94 1285.0,622.87 1285.5,622.47 1286.3,629.19 1287.7,639.87 1288.7,646.03 1289.0,641.39 1290.4,616.74 1291.3,600.30 1291.8,604.24 1293.1,616.04 1294.5,627.85 1295.8,639.66 1296.5,645.78 1297.2,644.28 1298.5,641.16 1299.8,638.04 1300.4,636.77 1301.2,636.62 1302.5,636.37 1303.9,636.13 1304.3,636.05 1305.2,617.90 1306.6,592.10 1307.6,572.99 1308.0,576.11 1309.3,588.14 1310.7,600.16 1311.5,607.73 1312.0,611.95 1313.3,623.34 1314.7,634.72 1315.4,640.63 1316.0,639.66 1317.4,637.66 1318.0,636.77 1318.8,637.68 1320.1,639.33 1321.0,640.37 1321.5,640.75 1322.8,641.79 1323.9,642.63 1324.2,642.30 1325.5,640.50 1326.8,638.69 1327.8,637.42 1328.2,637.36 1329.5,637.13 1330.9,636.90 1331.7,636.77 1332.2,627.64 1333.6,605.23 1335.0,582.83 1335.0,582.00 1336.3,580.78 1337.6,579.57 1337.7,580.77 1339.0,613.22 1340.2,642.06 1340.3,641.46 1341.7,636.03 1343.0,630.60 1343.4,629.19 1344.4,632.92 1345.8,637.96 1347.1,642.99 1348.0,646.11 1348.5,645.66 1349.8,643.59 1351.0,641.82 1351.2,641.48 1352.5,639.17 1353.8,636.85 1353.9,636.77 1355.2,635.12 1356.5,633.42 1357.9,631.71 1359.1,630.19 1359.2,630.28 1360.6,631.14 1362.0,631.99 1363.3,632.85 1364.3,633.48 1364.7,630.49 1366.0,618.98 1367.3,607.47 1367.5,606.62 1368.7,595.60 1370.0,583.70 1370.6,578.85 1371.4,580.00 1372.8,581.93 1372.8,582.00 1374.1,592.58 1375.5,603.58 1376.7,613.75 1376.8,614.48 1378.2,624.28 1379.5,634.08 1380.6,642.06 1380.8,641.78 1382.2,640.29 1383.4,638.93 1383.5,638.61 1384.9,635.00 1386.2,631.38 1386.3,631.33 1387.6,629.65 1389.0,627.95 1389.1,627.76 1390.3,629.54 1391.7,631.55 1393.0,633.55 1394.3,635.48 1394.3,635.04 1395.7,623.22 1397.0,611.39 1397.5,607.45 1398.4,616.71 1399.8,630.59 1400.1,634.19 1401.1,626.16 1402.5,615.32 1402.7,613.32 1403.8,615.41 1405.2,617.99 1405.4,618.46 1406.5,617.38 1407.8,616.04 1408.0,615.89 1409.2,602.10 1410.5,586.58 1410.6,586.00 1411.9,593.27 1413.2,600.82 1413.3,601.38 1414.6,607.09 1416.0,613.27 1416.1,613.95 1417.3,620.91 1418.7,628.73 1418.8,629.89 1420.0,635.99 1421.3,643.16 1421.6,644.49 1422.7,633.13 1424.0,619.18 1424.3,616.09 1425.4,605.58 1426.8,592.08 1427.1,588.58 1428.1,596.24 1429.5,606.58 1429.9,610.03 1430.8,616.92 1432.2,627.26 1432.7,631.48 1433.5,620.87 1434.8,602.98 1435.3,597.01 1436.2,606.06 1437.5,619.63 1438.6,630.19 1438.9,630.26 1440.2,630.60 1441.6,630.93 1443.0,631.27 1443.8,631.48 1444.3,632.91 1445.7,636.77 1447.0,640.63 1448.3,644.49 1449.0,645.79 1449.7,638.69 1451.0,623.91 1451.6,617.89 1452.4,618.07 1453.8,618.37 1454.2,618.46 1455.1,624.90 1456.5,634.55 1457.8,644.20 1458.1,646.15 1459.2,636.88 1460.5,624.71 1461.8,612.54 1462.7,604.88 1463.2,604.38 1464.5,603.03 1464.7,602.88 1465.9,616.55 1467.2,631.94 1467.9,639.34 1468.6,638.32 1470.0,636.34 1471.3,634.36 1471.5,634.07 1472.7,634.52 1474.0,635.05 1475.1,635.48 1475.3,635.68 1476.7,636.74 1478.0,637.80 1478.1,637.86 1479.4,638.90 1480.8,640.00 1481.2,640.35 1482.1,641.62 1483.5,643.47 1484.2,644.49 1484.8,632.35 1486.2,605.02 1486.8,591.87 1487.5,592.75 1488.8,594.46 1489.4,595.15 1490.2,604.78 1491.5,621.01 1492.9,637.25 1493.3,642.06 1494.2,635.27 1495.3,627.76 1495.6,627.80 1497.0,627.99 1498.2,628.16 1498.3,628.27 1499.7,631.03 1501.0,633.79 1501.2,634.19 1502.3,631.35 1503.7,628.01 1503.8,627.76 1505.0,634.63 1506.4,642.06 1507.8,616.46 1508.7,598.44 1509.1,601.28 1510.5,610.86 1511.8,620.44 1512.1,622.57 1513.2,629.34 1514.5,638.04 1515.5,644.49 1515.8,643.92 1517.2,641.71 1518.5,639.50 1519.1,638.60 1519.9,636.73 1521.2,633.58 1522.6,630.42 1522.7,630.19 1524.0,638.00 1524.6,642.06 1525.3,631.51 1526.7,611.17 1527.2,602.88 1528.0,600.07 1529.3,595.33 1530.5,591.29 1530.7,593.78 1532.0,610.57 1532.8,619.89 1533.0,619.89 1533.0,637.92 1532.8,638.04 1532.0,633.88 1530.7,626.47 1530.5,625.46 1529.3,627.15 1528.0,629.24 1527.2,630.57 1526.7,634.25 1525.3,643.24 1524.6,646.68 1524.0,646.03 1522.7,642.71 1522.6,642.84 1521.2,644.49 1519.9,645.90 1519.1,646.37 1518.5,646.40 1517.2,646.30 1515.8,646.66 1515.5,646.48 1514.5,646.03 1513.2,642.67 1512.1,639.40 1511.8,638.50 1510.5,634.06 1509.1,629.57 1508.7,628.65 1507.8,636.62 1506.4,646.63 1505.0,645.03 1503.8,641.88 1503.7,641.96 1502.3,643.25 1501.2,644.55 1501.0,644.56 1499.7,643.42 1498.3,642.02 1498.2,642.05 1497.0,641.82 1495.6,641.46 1495.3,641.56 1494.2,644.99 1493.3,646.53 1492.9,646.11 1491.5,638.68 1490.2,631.50 1489.4,626.89 1488.8,626.83 1487.5,626.22 1486.8,625.49 1486.2,631.49 1484.8,643.83 1484.2,646.58 1483.5,646.43 1482.1,646.46 1481.2,646.09 1480.8,646.20 1479.4,646.47 1478.1,646.44 1478.0,645.89 1476.7,645.73 1475.3,645.17 1475.1,645.42 1474.0,644.91 1472.7,644.74 1471.5,644.39 1471.3,644.66 1470.0,645.42 1468.6,646.43 1467.9,646.44 1467.2,643.32 1465.9,636.92 1464.7,630.24 1464.5,630.81 1463.2,631.11 1462.7,631.62 1461.8,634.97 1460.5,640.44 1459.2,645.82 1458.1,646.86 1457.8,646.50 1456.5,645.02 1455.1,640.18 1454.2,637.31 1453.8,637.35 1452.4,637.62 1451.6,637.28 1451.0,640.25 1449.7,646.26 1449.0,646.51 1448.3,646.76 1447.0,646.36 1445.7,645.76 1444.3,644.23 1443.8,643.09 1443.0,643.36 1441.6,643.32 1440.2,642.69 1438.9,643.04 1438.6,642.83 1437.5,637.97 1436.2,631.89 1435.3,627.62 1434.8,630.78 1433.5,638.60 1432.7,643.21 1432.2,641.73 1430.8,636.93 1429.9,633.76 1429.5,632.16 1428.1,627.38 1427.1,623.98 1426.8,625.59 1425.4,631.57 1424.3,636.58 1424.0,637.80 1422.7,644.29 1421.6,646.71 1421.3,646.80 1420.0,645.68 1418.8,642.78 1418.7,642.08 1417.3,638.59 1416.1,635.45 1416.0,635.29 1414.6,632.63 1413.3,629.88 1413.2,629.73 1411.9,626.27 1410.6,622.74 1410.5,623.20 1409.2,630.31 1408.0,636.46 1407.8,636.33 1406.5,637.06 1405.4,637.34 1405.2,637.37 1403.8,635.97 1402.7,635.43 1402.5,635.84 1401.1,641.08 1400.1,644.59 1399.8,643.24 1398.4,636.92 1397.5,632.45 1397.0,634.46 1395.7,639.94 1394.3,644.86 1394.3,645.31 1393.0,644.24 1391.7,643.12 1390.3,642.53 1389.1,641.76 1389.0,641.62 1387.6,642.79 1386.3,643.59 1386.2,643.54 1384.9,644.74 1383.5,646.14 1383.4,646.44 1382.2,646.52 1380.8,646.37 1380.6,646.35 1379.5,644.52 1378.2,640.34 1376.8,635.59 1376.7,635.41 1375.5,630.68 1374.1,625.60 1372.8,621.30 1372.8,621.25 1371.4,619.97 1370.6,619.55 1370.0,621.84 1368.7,627.49 1367.5,632.26 1367.3,632.44 1366.0,637.55 1364.7,642.67 1364.3,644.27 1363.3,643.84 1362.0,643.77 1360.6,643.14 1359.2,643.03 1359.1,643.05 1357.9,643.54 1356.5,644.20 1355.2,644.99 1353.9,645.89 1353.8,645.62 1352.5,646.29 1351.2,646.30 1351.0,646.43 1349.8,646.42 1348.5,646.49 1348.0,646.82 1347.1,646.51 1345.8,646.29 1344.4,643.93 1343.4,642.54 1343.0,642.83 1341.7,645.52 1340.3,646.14 1340.2,646.47 1339.0,635.31 1337.7,620.41 1337.6,619.90 1336.3,620.79 1335.0,620.88 1335.0,621.35 1333.6,631.40 1332.2,641.37 1331.7,645.91 1330.9,645.99 1329.5,645.91 1328.2,645.98 1327.8,646.23 1326.8,645.95 1325.5,646.48 1324.2,646.50 1323.9,646.50 1322.8,646.17 1321.5,646.58 1321.0,646.08 1320.1,646.36 1318.8,646.27 1318.0,646.00 1317.4,646.20 1316.0,646.27 1315.4,646.14 1314.7,644.59 1313.3,639.69 1312.0,634.82 1311.5,632.88 1310.7,629.28 1309.3,624.04 1308.0,618.47 1307.6,617.31 1306.6,625.88 1305.2,637.22 1304.3,645.49 1303.9,645.64 1302.5,645.64 1301.2,645.88 1300.4,645.63 1299.8,646.27 1298.5,646.36 1297.2,646.83 1296.5,646.77 1295.8,646.25 1294.5,641.63 1293.1,636.57 1291.8,631.08 1291.3,629.36 1290.4,636.83 1289.0,646.27 1288.7,646.75 1287.7,646.58 1286.3,642.47 1285.5,639.18 1285.0,639.31 1283.7,639.70 1282.5,640.35 1282.3,640.52 1281.0,642.44 1279.6,644.71 1278.2,645.54 1276.9,646.05 1276.4,646.49 1275.5,644.66 1274.2,640.45 1272.8,636.73 1272.5,635.79 1271.5,637.29 1270.2,639.06 1269.0,640.95 1268.8,641.16 1267.5,642.14 1266.1,643.51 1265.5,644.28 1264.8,645.12 1263.4,646.16 1262.0,646.70 1262.0,646.50 1260.7,634.70 1259.3,619.24 1258.8,612.72 1258.0,619.65 1256.7,630.35 1255.3,641.51 1254.2,647.01 1254.0,646.68 1252.6,646.25 1251.2,646.29 1250.9,645.71 1249.9,646.21 1248.5,646.18 1247.2,646.39 1245.8,646.98 1245.7,646.78 1244.5,646.61 1243.2,646.56 1241.8,646.53 1240.5,646.70 1239.1,646.58 1237.9,646.98 1237.8,646.71 1236.4,646.42 1235.0,646.42 1234.0,645.53 1233.7,645.62 1232.3,644.65 1231.0,643.93 1230.1,643.53 1229.7,641.14 1228.3,633.64 1227.0,626.06 1226.2,622.21 1225.6,624.50 1224.2,629.68 1223.0,634.51 1222.9,634.69 1221.5,640.07 1220.2,644.81 1219.7,646.06 1218.8,646.37 1217.5,646.38 1216.4,646.71 1216.2,646.61 1214.8,646.53 1213.5,646.37 1213.2,646.06 1212.1,646.62 1210.8,646.28 1209.9,646.43 1209.4,646.41 1208.0,640.27 1207.1,636.17 1206.7,634.16 1205.3,627.53 1204.3,622.65 1204.0,624.98 1202.7,635.55 1201.4,645.55 1201.3,644.80 1200.0,635.14 1199.5,632.13 1198.6,634.26 1197.2,637.74 1196.5,639.75 1195.9,641.44 1194.5,646.22 1193.6,646.79 1193.2,646.47 1191.8,645.49 1190.5,642.49 1190.3,642.47 1189.2,644.38 1187.8,646.04 1186.5,646.64 1185.8,646.95 1185.1,647.00 1183.8,646.66 1182.4,646.62 1181.0,646.32 1180.6,646.82 1179.7,646.37 1178.3,646.55 1177.8,646.32 1177.0,646.50 1175.7,646.22 1175.0,646.44 1174.3,646.53 1173.0,646.57 1172.3,646.28 1171.6,646.21 1170.2,646.42 1169.5,646.36 1168.9,644.84 1167.5,638.20 1166.5,632.78 1166.2,631.23 1164.8,624.91 1163.6,619.10 1163.5,619.35 1162.2,627.38 1160.8,636.07 1159.5,644.06 1158.4,646.71 1158.1,646.67 1156.8,646.55 1155.4,646.27 1154.0,645.61 1153.2,644.73 1152.7,645.66 1151.3,646.21 1150.0,647.05 1149.9,646.88 1148.7,644.13 1147.3,637.05 1146.0,629.70 1144.7,623.05 1144.6,624.00 1143.2,631.92 1141.9,639.55 1140.5,646.40 1140.2,646.78 1139.2,646.48 1137.8,646.91 1136.9,646.58 1136.5,646.69 1135.2,646.32 1133.8,646.27 1133.6,646.26 1132.5,643.35 1131.1,638.00 1129.8,632.32 1129.7,632.33 1128.4,627.82 1127.0,622.70 1125.8,618.06 1125.7,618.78 1124.3,626.58 1123.0,634.14 1121.7,642.12 1120.6,646.61 1120.3,646.64 1119.0,646.31 1117.6,646.07 1116.2,646.13 1115.4,646.24 1114.9,644.64 1113.5,639.85 1112.5,636.11 1112.2,635.09 1110.8,629.58 1109.5,624.18 1108.2,642.67 1107.6,646.53 1106.8,646.56 1105.5,646.48 1104.3,645.83 1104.1,645.56 1102.8,646.25 1101.4,646.07 1101.3,646.52 1100.0,646.32 1098.7,646.50 1098.4,646.79 1097.3,646.73 1096.0,646.08 1094.7,644.04 1093.9,642.78 1093.3,639.76 1092.0,633.62 1090.6,627.61 1090.4,626.72 1089.2,630.21 1087.9,634.00 1087.4,635.91 1086.5,634.71 1085.4,633.56 1085.2,633.97 1083.8,638.41 1082.5,642.94 1081.2,646.41 1080.2,646.48 1079.8,646.82 1078.5,646.35 1077.1,646.18 1077.0,646.12 1075.8,645.90 1074.4,644.94 1073.7,644.36 1073.0,644.25 1071.7,643.96 1070.3,643.62 1069.1,643.48 1069.0,642.61 1067.7,633.37 1066.3,623.70 1065.9,620.83 1065.0,620.69 1063.9,619.86 1063.6,622.12 1062.2,631.59 1060.9,640.97 1060.6,643.21 1059.5,639.86 1058.2,636.11 1058.0,635.42 1056.8,641.56 1055.5,646.71 1055.4,646.48 1054.2,646.89 1052.8,646.69 1051.5,646.53 1051.5,646.59 1050.1,646.24 1048.8,646.20 1048.2,646.66 1047.4,646.32 1046.0,646.33 1045.0,646.57 1044.7,646.77 1043.3,646.34 1042.0,646.44 1041.8,646.48 1040.7,646.49 1039.3,646.60 1038.5,646.58 1038.0,646.36 1036.6,646.14 1035.2,645.66 1033.9,644.32 1033.3,643.48 1032.5,643.78 1031.2,644.84 1030.7,644.92 1029.8,639.14 1028.5,629.48 1028.1,626.18 1027.2,628.97 1025.8,632.98 1024.5,637.38 1024.2,638.19 1023.1,641.22 1021.8,645.85 1020.4,646.96 1020.3,647.00 1019.0,646.83 1017.7,646.55 1017.5,646.12 1016.4,646.00 1015.0,643.92 1014.6,643.15 1013.6,642.36 1012.3,641.15 1011.8,641.32 1011.0,641.73 1009.6,643.16 1008.2,644.92 1008.2,644.98 1006.9,645.41 1005.5,646.43 1004.6,646.46 1004.2,646.20 1002.9,646.27 1001.5,646.17 1001.4,646.65 1000.1,646.23 998.8,646.66 998.1,646.19 997.5,645.14 996.1,638.71 995.4,634.80 994.8,631.91 993.4,624.93 992.6,620.99 992.0,625.23 990.7,634.85 989.6,643.50 989.4,643.92 988.0,644.87 986.7,646.11 986.6,645.99 985.3,646.17 984.0,646.42 983.8,646.69 982.6,641.95 981.2,634.77 979.9,627.70 979.6,625.60 978.5,634.19 977.2,644.77 976.6,646.74 975.9,646.50 974.5,646.11 973.8,644.72 973.1,643.78 971.8,642.31 971.0,641.26 970.5,640.60 969.1,640.05 968.3,639.67 967.8,638.61 966.4,637.38 965.5,636.02 965.0,636.56 963.7,638.76 962.4,641.14 961.6,642.42 961.0,642.75 959.6,644.22 958.7,644.56 958.3,644.80 957.0,645.50 955.8,645.76 955.6,644.33 954.2,634.88 952.9,625.76 952.2,620.53 951.5,625.32 950.2,635.71 948.9,645.95 948.6,646.50 947.5,645.88 946.1,643.24 944.8,640.57 943.5,637.36 943.4,637.55 942.1,639.53 940.8,641.99 939.5,644.15 939.4,644.27 938.0,646.14 936.7,646.20 935.6,646.64 935.4,646.90 934.0,646.72 932.6,646.33 932.3,646.35 931.3,646.20 930.0,646.03 929.0,645.92 928.6,645.79 927.2,644.39 925.9,642.62 925.1,641.73 924.5,642.44 923.2,644.19 922.2,645.13 921.9,645.58 920.5,646.31 919.3,646.43 919.1,646.51 917.8,642.16 916.7,637.11 916.5,638.48 915.1,643.85 914.0,646.27 913.8,646.13 912.4,644.82 911.0,642.13 910.8,641.74 909.7,629.06 908.4,613.10 908.2,611.25 907.0,613.61 905.6,616.84 904.3,619.71 903.6,621.34 903.0,625.72 901.6,635.64 900.4,644.05 900.2,643.36 898.9,637.91 897.5,632.12 897.5,631.99 896.2,635.74 895.2,639.16 894.9,638.35 893.5,635.98 892.5,633.83 892.1,634.78 890.8,637.32 889.5,639.66 889.5,639.48 888.1,641.21 886.8,643.17 886.4,643.65 885.4,644.81 884.0,646.44 883.4,646.56 882.7,646.00 881.4,642.82 880.0,639.70 878.6,636.44 878.2,635.00 877.3,636.88 876.0,639.18 874.6,641.58 873.6,643.40 873.2,641.76 871.9,635.19 870.5,628.42 870.4,627.39 869.2,632.92 867.9,639.20 866.5,645.64 865.1,644.98 863.8,644.71 862.6,644.20 862.5,644.56 861.3,646.66 861.1,646.76 859.8,646.53 858.4,646.15 858.0,646.12 857.0,646.40 855.7,646.43 854.7,646.58 854.4,646.02 853.0,639.51 851.6,632.11 851.5,631.39 850.3,634.04 849.0,636.63 847.6,639.82 846.9,641.24 846.2,641.36 844.9,642.87 843.5,643.65 843.0,644.07 842.2,645.18 840.9,646.03 839.5,646.40 839.1,646.19 838.1,646.29 836.8,646.37 835.5,646.78 835.2,646.73 834.1,646.42 832.8,646.50 831.4,646.18 831.3,646.24 830.0,646.36 828.7,646.29 827.4,646.77 827.4,646.74 826.0,646.72 824.6,646.43 823.3,646.39 822.8,645.98 822.0,643.11 820.6,637.01 819.2,630.61 818.2,625.79 817.9,625.47 816.5,623.26 815.2,621.34 814.3,620.26 813.9,622.40 812.5,629.61 811.4,635.58 811.1,636.46 809.8,643.34 808.5,646.69 808.5,646.88 807.1,646.56 805.8,646.72 805.6,646.59 804.4,646.91 803.0,646.61 802.7,646.49 801.7,645.98 800.4,641.78 799.0,637.94 797.6,634.11 797.4,633.40 796.3,635.88 795.0,639.41 793.6,642.47 792.2,645.87 792.2,645.53 790.9,645.35 789.6,644.33 789.5,644.93 788.2,646.36 786.9,646.19 785.5,646.85 784.4,646.98 784.1,646.95 782.8,646.61 781.5,646.32 781.1,646.39 780.1,646.34 778.8,646.62 777.9,646.58 777.4,646.57 776.0,644.06 775.3,642.50 774.7,643.29 773.4,644.47 772.0,645.94 770.6,646.55 770.1,646.71 769.3,644.00 768.0,636.54 767.4,633.65 766.6,630.28 765.2,623.98 764.6,621.34 763.9,634.00 763.6,639.96 762.5,640.30 761.2,640.32 759.9,640.54 759.6,640.35 758.5,637.53 757.1,634.45 756.4,632.35 755.8,634.40 754.5,639.17 753.1,643.68 751.8,646.66 751.2,647.03 750.4,646.47 749.0,646.05 747.7,644.13 746.4,641.96 746.0,640.94 745.0,642.78 743.6,644.65 743.3,645.24 742.3,635.60 741.0,622.89 740.3,616.67 739.6,620.90 738.2,628.39 736.9,635.81 736.8,636.20 735.5,640.25 734.2,644.18 732.9,646.53 732.3,646.47 731.5,646.46 730.1,645.79 729.7,645.04 728.8,645.23 727.5,645.85 727.0,645.51 726.1,638.57 724.8,628.14 724.4,625.36 723.4,632.45 722.0,641.40 721.2,646.47 720.7,646.38 719.4,642.43 718.6,640.68 718.0,642.27 716.6,645.64 716.0,646.01 715.3,644.23 714.0,639.59 713.4,637.85 712.6,638.79 711.2,641.28 709.9,642.94 708.5,645.13 708.2,646.01 707.2,637.68 705.9,626.34 705.6,624.30 704.5,630.77 703.1,638.69 702.3,643.32 701.8,643.34 700.5,644.14 699.7,644.83 699.1,642.53 697.8,637.50 696.4,632.53 695.0,627.99 694.5,626.01 693.7,629.31 692.4,634.56 691.0,640.44 689.6,645.87 689.3,646.48 688.3,646.26 687.0,646.69 685.6,646.70 684.2,646.63 684.0,646.48 682.9,644.29 681.5,638.37 680.4,633.70 680.2,633.92 678.9,635.51 677.7,637.77 677.5,638.08 676.1,641.57 675.0,644.76 674.8,644.80 673.5,646.43 672.3,646.78 672.1,646.92 670.8,645.19 669.5,640.98 669.4,640.80 668.0,637.56 666.8,634.57 666.7,634.72 665.4,637.75 664.0,641.03 662.6,644.17 661.9,645.93 661.3,646.18 660.0,646.55 658.6,646.37 657.2,646.89 656.7,647.08 655.9,646.80 654.5,646.33 653.4,646.15 653.2,646.28 651.9,646.56 651.5,646.42 650.5,643.56 649.1,637.22 648.5,634.10 647.8,630.18 646.5,623.67 645.6,619.55 645.1,622.47 643.8,631.02 642.4,639.38 641.0,646.29 641.0,646.45 639.7,645.20 638.4,641.92 637.1,638.98 637.0,639.18 635.6,641.58 634.3,643.81 633.0,646.01 631.9,646.49 631.6,646.17 630.2,645.43 629.1,643.87 628.9,643.94 627.5,642.69 626.4,641.84 626.2,642.12 624.9,645.03 623.5,646.19 622.8,646.83 622.1,646.22 620.8,643.36 619.5,639.85 619.2,638.80 618.1,635.43 616.8,631.28 615.6,627.44 615.4,627.32 614.0,627.20 613.0,626.64 612.7,627.50 611.4,632.21 610.0,635.94 610.0,636.05 608.6,640.40 607.3,644.60 607.1,645.09 606.0,640.05 604.6,634.30 603.2,628.00 601.9,622.18 601.7,621.13 600.5,624.28 599.2,628.03 598.7,629.23 597.9,631.42 596.5,635.33 595.8,636.78 595.1,638.46 593.8,642.02 592.8,644.39 592.5,644.98 591.1,645.80 589.8,645.99 588.4,646.35 588.2,646.40 587.0,643.77 585.7,638.77 584.4,633.35 583.0,628.29 581.6,632.81 580.3,637.73 579.0,641.78 577.8,645.90 577.6,644.61 576.2,635.49 574.9,626.61 574.6,624.82 573.5,632.37 572.2,642.37 572.0,643.58 570.9,641.65 569.5,639.46 569.3,639.18 568.1,642.21 566.8,645.69 566.7,645.94 565.5,641.43 564.1,636.87 563.9,636.58 562.8,638.34 561.4,640.29 560.0,642.43 558.9,643.76 558.7,643.38 557.4,638.72 556.0,634.42 555.7,633.52 554.6,639.49 553.3,646.36 553.1,646.30 552.0,643.58 550.6,637.92 550.5,637.78 549.2,641.33 547.9,645.95 547.2,646.58 546.5,643.95 545.2,634.87 543.9,626.11 542.5,617.13 542.3,615.84 541.1,624.21 539.8,633.55 538.5,642.87 537.4,646.77 537.1,646.50 535.8,644.20 534.4,639.39 534.2,638.62 533.0,641.34 531.7,644.39 530.4,646.05 529.0,646.96 527.6,642.71 526.3,635.31 526.0,634.37 525.0,628.83 523.6,622.33 523.1,620.20 522.2,623.06 520.9,627.88 519.5,632.75 518.2,638.77 516.9,644.49 516.0,646.67 515.5,646.19 514.1,642.45 512.8,638.20 512.7,638.02 511.4,639.58 510.1,640.67 509.1,641.79 508.8,642.44 507.4,645.25 506.1,646.24 505.5,646.39 504.7,646.58 503.4,646.18 502.0,646.60 502.0,646.14 500.6,646.29 499.3,646.87 498.6,646.63 497.9,646.86 496.6,646.96 495.2,646.72 495.1,646.81 493.9,644.87 492.6,639.52 491.5,635.41 491.2,634.06 489.9,628.69 488.5,623.35 487.9,621.13 487.1,621.37 485.8,622.54 484.7,623.57 484.4,624.40 483.1,628.38 481.8,633.10 480.8,636.28 480.4,637.15 479.1,642.12 477.7,646.36 476.8,646.54 476.4,646.72 475.0,645.59 473.6,642.43 472.9,640.75 472.3,639.73 470.9,636.72 469.6,633.80 469.0,632.45 468.2,635.19 466.9,640.67 466.4,642.89 465.6,644.02 464.2,646.13 462.9,646.55 461.5,646.70 461.2,646.49 460.1,646.44 458.8,646.39 457.4,645.72 457.3,645.63 456.1,645.80 454.8,645.80 453.8,645.68 453.4,645.81 452.1,646.20 450.7,646.19 450.4,646.28 449.4,646.04 448.0,646.60 446.9,646.29 446.6,646.47 445.3,644.75 443.9,641.93 442.6,638.88 442.3,638.17 441.2,639.12 439.9,639.88 439.0,640.42 438.6,640.88 437.2,642.53 435.9,644.58 435.8,644.52 434.5,646.11 433.1,646.08 432.5,646.34 431.8,646.64 430.4,646.67 429.1,646.60 427.8,646.90 427.3,646.88 426.4,646.67 425.1,645.71 424.7,645.21 423.7,645.39 422.4,645.45 421.2,645.79 421.0,646.31 419.6,646.46 418.3,646.16 417.8,646.35 416.9,646.45 415.6,646.43 414.3,646.35 414.2,646.25 412.9,639.41 411.6,631.41 410.2,622.77 409.3,617.43 408.9,622.05 407.5,637.15 406.5,646.69 406.1,646.39 404.8,645.02 403.4,642.46 402.1,639.93 401.2,638.22 400.8,638.80 399.4,641.23 398.1,643.78 397.9,644.00 396.7,645.87 395.4,646.21 394.7,646.51 394.0,646.50 392.6,646.24 391.3,643.90 391.1,643.80 389.9,642.22 388.6,639.67 387.6,638.16 387.2,638.67 385.9,641.62 384.6,643.72 384.0,644.88 383.2,645.81 381.9,646.24 380.5,646.63 380.4,646.55 379.1,646.52 377.8,643.87 376.5,641.33 376.4,641.32 375.1,643.06 373.9,645.41 373.8,645.29 372.4,644.29 371.1,642.83 369.9,642.35 369.7,642.28 368.4,641.18 367.0,640.69 366.0,639.86 365.6,641.05 364.3,646.03 363.4,646.48 362.9,646.10 361.6,640.78 360.5,635.47 360.2,634.51 358.9,627.04 357.6,620.15 357.6,619.97 356.2,623.08 354.9,626.53 354.9,626.22 353.5,628.57 352.1,631.15 352.1,631.20 350.8,634.19 349.4,636.68 349.4,636.92 348.1,639.46 346.8,641.84 346.6,641.91 345.4,645.42 344.1,646.47 343.9,646.65 342.7,643.68 341.4,637.09 341.1,636.01 340.0,631.64 338.6,626.87 338.4,625.71 337.3,634.59 335.9,645.49 335.4,646.89 334.6,646.94 333.2,646.76 332.1,646.56 331.9,646.62 330.6,646.69 329.2,646.40 328.9,646.44 327.9,646.28 326.5,645.94 325.6,645.57 325.1,645.75 323.8,645.82 322.4,645.86 322.4,645.75 321.1,641.87 319.8,637.32 319.8,637.34 318.4,640.25 317.1,642.61 316.2,644.03 315.7,644.82 314.4,646.46 313.0,646.31 312.7,646.54 311.6,646.61 310.3,646.59 310.0,646.75 308.9,644.79 307.6,639.05 306.8,634.89 306.2,632.79 304.9,627.12 303.6,620.63 303.5,620.42 302.2,629.32 300.9,638.70 299.6,646.54 299.5,646.17 298.1,646.40 296.8,646.67 295.4,646.65 294.4,646.46 294.1,646.53 292.8,645.37 291.4,642.73 290.5,640.68 290.1,639.36 288.7,635.68 287.4,632.49 286.6,630.49 286.0,631.83 284.6,635.24 283.4,638.40 283.3,638.22 281.9,642.74 280.6,646.16 280.1,646.21 279.2,645.95 277.9,643.55 276.6,641.05 276.2,640.25 275.2,640.52 273.9,639.78 273.6,640.02 272.5,636.52 271.1,632.74 270.3,630.08 269.8,632.11 268.4,637.81 267.1,643.34 265.8,646.49 265.7,646.43 264.4,646.46 263.1,646.73 261.7,646.31 260.5,646.27 260.4,646.50 259.0,644.30 257.6,640.69 257.2,639.57 256.3,637.91 254.9,634.70 254.0,632.07 253.6,633.21 252.2,636.10 250.9,638.98 250.8,639.35 249.6,642.22 248.2,645.10 247.5,646.38 246.8,646.52 245.5,646.49 244.2,646.32 242.8,646.50 242.3,646.44 241.4,646.39 240.1,643.48 238.8,639.46 237.4,635.84 237.1,635.38 236.1,637.96 234.7,641.77 233.3,645.29 232.0,646.56 231.8,646.40 230.7,646.48 229.3,646.60 227.9,646.63 227.9,646.24 226.6,643.82 225.2,639.14 224.0,635.30 223.9,635.48 222.6,638.05 221.2,640.15 219.8,642.74 218.8,644.78 218.5,644.90 217.2,645.26 215.8,646.28 215.6,646.26 214.4,646.06 213.1,646.19 212.3,646.53 211.8,646.15 210.4,646.50 209.1,646.67 208.4,646.56 207.7,646.34 206.3,642.67 205.0,638.24 203.7,633.87 203.2,632.25 202.3,632.33 200.9,632.45 200.6,632.04 199.6,635.40 198.2,640.06 196.9,644.39 195.6,646.36 195.3,646.50 194.2,646.58 192.8,646.24 191.5,646.21 190.2,645.40 190.1,645.69 188.8,646.02 187.4,646.17 186.1,646.62 184.9,646.39 184.8,646.47 183.4,646.59 182.1,646.16 180.7,645.72 179.7,644.90 179.3,645.45 178.0,646.10 176.7,646.08 176.4,646.26 175.3,646.36 173.9,646.27 173.2,646.55 172.6,646.54 171.2,646.43 170.6,646.36 169.9,644.75 168.6,638.40 167.7,634.19 167.2,631.87 165.8,625.76 164.7,620.96 164.5,621.51 163.2,627.84 161.8,633.63 161.8,633.59 160.4,639.55 159.1,645.74 158.8,646.53 157.8,646.17 156.4,646.42 155.1,646.19 153.7,645.49 153.6,645.75 152.3,646.02 151.0,646.31 149.7,646.58 148.3,646.31 146.9,646.65 145.8,646.28 145.6,646.42 144.2,637.91 143.1,630.71 142.9,630.23 141.6,623.53 140.3,617.11 140.2,617.37 138.8,624.31 138.0,627.91 137.5,627.99 136.2,628.44 135.4,628.31 134.8,631.93 133.4,640.31 132.8,644.76 132.1,644.62 130.8,644.99 129.6,645.05 129.4,645.09 128.1,645.83 126.7,646.42 126.3,646.16 125.3,645.99 124.0,646.09 122.7,646.08 121.3,646.24 121.0,646.12 120.0,646.38 118.6,646.49 117.2,646.73 116.5,646.77 115.9,646.32 114.5,641.82 113.2,636.03 111.8,639.25 110.5,642.05 109.2,645.59 108.0,646.65 107.8,646.66 106.5,646.19 105.1,646.12 104.1,646.38 103.8,646.06 102.4,643.87 101.0,640.64 99.7,637.83 99.5,637.30 98.3,638.81 97.0,640.60 95.7,642.04 95.6,642.57 94.3,644.15 93.0,645.78 91.7,646.20 91.6,646.59 90.2,646.17 89.1,646.07 88.9,646.20 87.5,646.04 87.2,646.18 86.2,646.48 84.8,646.23 83.5,646.36 83.2,646.16 82.2,644.73 80.8,640.85 79.5,637.71 78.1,634.12 78.0,633.53 76.8,640.90 75.4,646.69 74.0,646.27 72.7,646.19 71.3,646.23 70.2,645.73 70.0,645.91" fill="#DDDD00" fill-opacity="0.8"/><polygon points="70.0,636.34 70.2,636.34 71.3,637.48 72.7,638.81 74.0,640.15 75.4,641.49 76.8,624.93 78.0,609.60 78.1,610.19 79.5,618.13 80.8,626.08 82.2,634.02 83.2,640.20 83.5,640.10 84.8,639.67 86.2,639.23 87.2,638.91 87.5,638.78 88.9,638.27 89.1,638.20 90.2,639.08 91.6,640.12 91.7,640.20 93.0,636.51 94.3,632.52 95.6,628.67 95.7,628.54 97.0,624.86 98.3,621.17 99.5,618.03 99.7,619.00 101.0,625.50 102.4,632.01 103.8,638.51 104.1,640.20 105.1,640.53 106.5,640.98 107.8,641.42 108.0,641.49 109.2,635.60 110.5,628.70 111.8,621.79 113.2,614.89 114.5,627.35 115.9,639.81 116.5,645.35 117.2,644.49 118.6,642.95 120.0,641.40 121.0,640.20 121.3,640.13 122.7,639.80 124.0,639.47 125.3,639.14 126.3,638.91 126.7,638.47 128.1,636.96 129.4,635.45 129.6,635.28 130.8,634.72 132.1,634.09 132.8,633.76 133.4,624.65 134.8,605.71 135.4,597.30 136.2,597.30 137.5,597.30 138.0,597.30 138.8,588.16 140.2,573.64 140.3,572.56 141.6,586.51 142.9,601.57 143.1,603.24 144.2,619.37 145.6,637.51 145.8,640.20 146.9,640.77 148.3,641.44 149.7,642.11 151.0,642.77 152.3,639.43 153.6,636.34 153.7,636.39 155.1,637.06 156.4,637.73 157.8,638.39 158.8,638.91 159.1,635.92 160.4,622.43 161.8,609.44 161.8,608.95 163.2,595.94 164.5,582.93 164.7,581.00 165.8,592.49 167.2,605.98 167.7,610.48 168.6,619.94 169.9,634.13 170.6,641.49 171.2,642.13 172.6,643.47 173.2,644.06 173.9,642.74 175.3,640.37 176.4,638.34 176.7,638.14 178.0,636.77 179.3,635.41 179.7,635.05 180.7,636.29 182.1,637.96 183.4,639.63 184.8,641.30 184.9,641.49 186.1,640.13 187.4,638.61 188.8,637.09 190.1,635.62 190.2,635.71 191.5,637.90 192.8,640.09 194.2,642.28 195.3,644.06 195.6,642.29 196.9,632.71 198.2,623.13 199.6,613.55 200.6,606.45 200.9,606.45 202.3,606.45 203.2,606.45 203.7,609.71 205.0,619.47 206.3,629.23 207.7,639.00 208.4,644.06 209.1,643.20 210.4,641.42 211.8,639.64 212.3,638.91 213.1,638.55 214.4,637.93 215.6,637.43 215.8,637.15 217.2,635.62 218.5,634.10 218.8,633.76 219.8,629.55 221.2,624.13 222.6,618.71 223.9,613.29 224.0,612.89 225.2,622.05 226.6,631.95 227.9,641.49 227.9,641.52 229.3,642.41 230.7,643.30 231.8,644.06 232.0,642.88 233.3,634.94 234.7,627.00 236.1,619.06 237.1,612.89 237.4,614.69 238.8,622.78 240.1,630.87 241.4,638.97 242.3,644.06 242.8,643.57 244.2,642.23 245.5,640.89 246.8,639.56 247.5,638.91 248.2,635.25 249.6,628.18 250.8,621.90 250.9,621.19 252.2,614.77 253.6,608.35 254.0,606.45 254.9,611.33 256.3,618.27 257.2,623.16 257.6,625.57 259.0,633.72 260.4,641.87 260.5,642.77 261.7,643.07 263.1,643.41 264.4,643.74 265.7,644.06 265.8,643.59 267.1,631.00 268.4,618.41 269.8,605.82 270.3,601.16 271.1,606.87 272.5,615.94 273.6,623.33 273.9,623.45 275.2,624.12 276.2,624.61 276.6,626.13 277.9,631.97 279.2,637.81 280.1,641.49 280.6,638.12 281.9,629.01 283.3,619.91 283.4,619.58 284.6,612.73 286.0,605.61 286.6,602.45 287.4,606.76 288.7,614.52 290.1,622.27 290.5,624.86 291.4,629.29 292.8,635.94 294.1,642.58 294.4,644.06 295.4,643.28 296.8,642.28 298.1,641.28 299.5,640.27 299.6,640.20 300.9,621.04 302.2,600.35 303.5,580.43 303.6,580.92 304.9,594.31 306.2,607.70 306.8,612.65 307.6,620.87 308.9,633.91 310.0,644.06 310.3,643.92 311.6,643.27 312.7,642.77 313.0,641.87 314.4,637.78 315.7,633.70 316.2,632.03 317.1,628.88 318.4,623.55 319.8,618.23 319.8,618.03 321.1,627.19 322.4,636.34 322.4,636.34 323.8,636.24 325.1,636.14 325.6,636.11 326.5,636.87 327.9,638.08 328.9,639.02 329.2,639.57 330.6,642.06 331.9,644.54 332.1,645.00 333.2,645.12 334.6,645.26 335.4,645.35 335.9,635.60 337.3,611.66 338.4,592.15 338.6,594.22 340.0,605.36 341.1,614.85 341.4,617.00 342.7,631.56 343.9,644.49 344.1,643.59 345.4,635.49 346.6,628.05 346.8,627.59 348.1,622.03 349.4,616.75 349.4,616.43 350.8,610.09 352.1,603.90 352.1,603.79 353.5,598.64 354.9,593.49 354.9,593.45 356.2,586.45 357.6,579.40 357.6,579.14 358.9,594.71 360.2,610.88 360.5,613.87 361.6,625.49 362.9,639.74 363.4,644.49 364.3,637.16 365.6,626.18 366.0,623.33 367.0,624.59 368.4,626.29 369.7,628.00 369.9,628.31 371.1,630.19 372.4,632.49 373.8,634.80 373.9,635.05 375.1,630.83 376.4,626.08 376.5,625.90 377.8,632.57 379.1,639.50 380.4,645.41 380.5,645.48 381.9,641.32 383.2,637.04 384.0,634.50 384.6,632.20 385.9,626.56 387.2,620.93 387.6,619.47 388.6,623.09 389.9,627.97 391.1,632.32 391.3,632.77 392.6,636.86 394.0,640.94 394.7,643.06 395.4,640.85 396.7,636.27 397.9,632.02 398.1,631.64 399.4,626.42 400.8,621.20 401.2,619.47 402.1,623.23 403.4,628.87 404.8,634.52 406.1,640.17 406.5,641.63 407.5,617.22 408.9,584.26 409.3,573.28 410.2,585.58 411.6,604.04 412.9,622.49 414.2,640.95 414.3,641.63 415.6,641.55 416.9,641.46 417.8,641.41 418.3,640.69 419.6,638.87 421.0,637.05 421.2,636.74 422.4,636.19 423.7,635.54 424.7,635.05 425.1,636.52 426.4,642.16 427.3,645.74 427.8,645.55 429.1,644.43 430.4,643.32 431.8,642.21 432.5,641.63 433.1,640.09 434.5,636.88 435.8,633.86 435.9,633.62 437.2,629.62 438.6,625.61 439.0,624.19 439.9,622.93 441.2,620.98 442.3,619.47 442.6,620.91 443.9,627.42 445.3,633.92 446.6,640.43 446.9,641.63 448.0,640.81 449.4,639.80 450.4,639.04 450.7,638.81 452.1,637.85 453.4,636.89 453.8,636.59 454.8,636.52 456.1,636.42 457.3,636.34 457.4,636.71 458.8,640.02 460.1,643.34 461.2,645.34 461.5,645.01 462.9,640.93 464.2,636.85 465.6,632.76 466.4,630.19 466.9,625.62 468.2,613.30 469.0,606.45 469.6,609.38 470.9,615.96 472.3,622.55 472.9,625.47 473.6,629.40 475.0,636.48 476.4,643.56 476.8,645.40 477.7,638.82 479.1,628.16 480.4,617.51 480.8,614.75 481.8,607.69 483.1,598.16 484.4,588.63 484.7,586.86 485.8,584.85 487.1,582.37 487.9,581.00 488.5,586.33 489.9,598.33 491.2,610.32 491.5,612.99 492.6,622.59 493.9,634.94 495.1,645.67 495.2,645.58 496.6,645.75 497.9,645.59 498.6,645.48 499.3,644.45 500.6,642.47 502.0,640.50 502.0,640.46 503.4,641.44 504.7,642.46 505.5,643.06 506.1,640.72 507.4,634.96 508.8,629.20 509.1,627.71 510.1,625.42 511.4,622.33 512.7,619.47 512.8,620.14 514.1,629.20 515.5,638.27 516.0,641.63 516.9,633.51 518.2,620.62 519.5,607.72 520.9,596.85 522.2,585.98 523.1,579.14 523.6,584.48 525.0,598.88 526.0,610.63 526.3,613.62 527.6,629.77 529.0,645.82 530.4,639.39 531.7,632.85 533.0,626.32 534.2,620.75 534.4,622.32 535.8,632.94 537.1,643.56 537.4,645.63 538.5,629.68 539.8,608.80 541.1,587.92 542.3,570.13 542.5,573.05 543.9,592.75 545.2,612.45 546.5,632.15 547.2,641.63 547.9,636.63 549.2,626.97 550.5,618.03 550.6,618.94 552.0,631.19 553.1,641.63 553.3,639.12 554.6,622.19 555.7,609.03 556.0,611.21 557.4,621.04 558.7,630.88 558.9,632.34 560.0,628.45 561.4,623.90 562.8,619.34 563.9,615.46 564.1,616.95 565.5,627.02 566.7,636.34 566.8,635.79 568.1,628.36 569.3,622.04 569.5,622.75 570.9,627.54 572.0,631.62 572.2,628.37 573.5,606.47 574.6,589.43 574.9,593.83 576.2,613.62 577.6,633.41 577.8,636.34 579.0,627.86 580.3,617.91 581.6,607.96 583.0,598.01 584.4,609.34 585.7,620.66 587.0,631.98 588.2,641.63 588.4,641.29 589.8,638.98 591.1,636.67 592.5,634.36 592.8,633.76 593.8,628.02 595.1,620.25 595.8,616.69 596.5,612.53 597.9,604.83 598.7,599.82 599.2,596.93 600.5,588.64 601.7,581.57 601.9,583.55 603.2,596.92 604.6,610.29 606.0,623.66 607.1,635.05 607.3,633.69 608.6,624.53 610.0,615.36 610.0,615.02 611.4,605.76 612.7,596.15 613.0,594.01 614.0,594.53 615.4,595.20 615.6,595.30 616.8,603.64 618.1,613.44 619.2,621.42 619.5,622.99 620.8,631.48 622.1,639.97 622.8,644.06 623.5,640.92 624.9,634.86 626.2,628.80 626.4,627.90 627.5,629.84 628.9,632.11 629.1,632.53 630.2,636.17 631.6,640.64 631.9,641.63 633.0,637.41 634.3,631.99 635.6,626.57 637.0,621.15 637.1,620.75 638.4,627.44 639.7,634.67 641.0,641.63 641.0,640.94 642.4,622.22 643.8,603.50 645.1,584.78 645.6,577.85 646.5,587.20 647.8,602.06 648.5,610.31 649.1,616.97 650.5,631.96 651.5,643.06 651.9,642.06 653.2,638.20 653.4,637.63 654.5,640.77 655.9,644.45 656.7,645.94 657.2,645.55 658.6,642.87 660.0,640.20 661.3,637.53 661.9,636.34 662.6,632.44 664.0,625.43 665.4,618.42 666.7,611.40 666.8,610.88 668.0,617.62 669.4,624.90 669.5,625.71 670.8,634.53 672.1,644.45 672.3,645.64 673.5,640.65 674.8,634.47 675.0,633.56 676.1,626.93 677.5,619.14 677.7,617.99 678.9,614.17 680.2,609.69 680.4,609.03 681.5,619.90 682.9,632.66 684.0,643.06 684.2,642.93 685.6,642.20 687.0,641.47 688.3,640.74 689.3,640.20 689.6,636.97 691.0,624.49 692.4,612.02 693.7,599.54 694.5,592.15 695.0,596.55 696.4,607.36 697.8,618.16 699.1,628.96 699.7,633.76 700.5,632.98 701.8,631.57 702.3,631.05 703.1,620.00 704.5,602.45 705.6,588.15 705.9,592.78 707.2,617.80 708.2,636.34 708.5,635.16 709.9,630.59 711.2,626.02 712.6,621.46 713.4,618.75 714.0,623.02 715.3,633.48 716.0,638.91 716.6,635.48 718.0,628.35 718.6,625.18 719.4,629.52 720.7,637.31 721.2,640.20 722.0,627.10 723.4,606.28 724.4,590.87 724.8,596.99 726.1,620.60 727.0,636.34 727.5,636.12 728.8,635.48 729.7,635.05 730.1,636.83 731.5,642.18 732.3,645.32 732.9,641.70 734.2,632.73 735.5,623.76 736.8,615.46 736.9,614.22 738.2,597.45 739.6,580.68 740.3,571.99 741.0,585.65 742.3,614.03 743.3,635.05 743.6,633.87 745.0,629.29 746.0,625.90 746.4,627.30 747.7,632.68 749.0,638.06 750.4,643.44 751.2,645.89 751.8,642.45 753.1,632.16 754.5,621.88 755.8,611.59 756.4,607.02 757.1,611.15 758.5,618.57 759.6,624.61 759.9,624.53 761.2,624.10 762.5,623.66 763.6,623.33 763.9,610.80 764.6,581.57 765.2,588.03 766.6,601.45 767.4,608.90 768.0,616.04 769.3,632.11 770.1,641.63 770.6,640.27 772.0,636.93 773.4,633.59 774.7,630.24 775.3,628.76 776.0,633.17 777.4,641.12 777.9,644.06 778.8,643.42 780.1,642.39 781.1,641.63 781.5,642.16 782.8,644.21 784.1,645.81 784.4,645.84 785.5,643.91 786.9,640.57 788.2,637.23 789.5,633.89 789.6,633.76 790.9,635.05 792.2,636.34 792.2,636.08 793.6,628.99 795.0,621.89 796.3,614.80 797.4,609.03 797.6,610.63 799.0,619.30 800.4,627.97 801.7,636.64 802.7,643.06 803.0,643.46 804.4,644.99 805.6,645.44 805.8,645.58 807.1,645.42 808.5,645.37 808.5,645.35 809.8,630.93 811.1,615.96 811.4,613.19 812.5,600.27 813.9,584.42 814.3,579.14 815.2,582.14 816.5,586.65 817.9,591.15 818.2,592.15 819.2,602.83 820.6,616.55 822.0,630.27 822.8,638.91 823.3,639.41 824.6,640.75 826.0,642.10 827.4,643.44 827.4,643.49 828.7,642.87 830.0,642.23 831.3,641.64 831.4,641.75 832.8,643.23 834.1,644.71 835.2,645.58 835.5,645.63 836.8,644.16 838.1,642.68 839.1,641.63 839.5,640.77 840.9,637.86 842.2,634.95 843.0,633.22 843.5,632.19 844.9,629.65 846.2,627.12 846.9,625.90 847.6,622.64 849.0,616.34 850.3,610.05 851.5,604.45 851.6,606.19 853.0,621.88 854.4,637.56 854.7,641.63 855.7,640.80 857.0,639.67 858.0,638.88 858.4,639.39 859.8,641.10 861.1,642.81 861.3,643.06 862.5,633.57 862.6,632.34 863.8,633.57 865.1,634.95 866.5,636.34 867.9,622.38 869.2,608.42 870.4,596.01 870.5,597.66 871.9,612.44 873.2,627.22 873.6,631.05 874.6,627.10 876.0,621.77 877.3,616.44 878.2,612.89 878.6,615.37 880.0,622.84 881.4,630.30 882.7,637.76 883.4,641.63 884.0,639.36 885.4,634.63 886.4,631.03 886.8,630.11 888.1,626.27 889.5,622.43 889.5,622.37 890.8,617.02 892.1,611.58 892.5,610.17 893.5,614.57 894.9,620.50 895.2,622.04 896.2,614.70 897.5,605.16 897.5,605.63 898.9,618.28 900.2,630.93 900.4,632.34 901.6,613.30 903.0,591.88 903.6,581.57 904.3,578.22 905.6,571.76 907.0,565.29 908.2,559.55 908.4,563.46 909.7,598.65 910.8,627.33 911.0,628.45 912.4,634.48 913.8,640.51 914.0,641.63 915.1,631.78 916.5,619.70 916.7,617.46 917.8,628.72 919.1,642.53 919.3,644.06 920.5,640.12 921.9,635.68 922.2,634.53 923.2,632.24 924.5,629.16 925.1,627.90 925.9,629.90 927.2,633.26 928.6,636.63 929.0,637.63 930.0,638.16 931.3,638.91 932.3,639.46 932.6,640.15 934.0,642.79 935.4,645.43 935.6,645.50 936.7,642.16 938.0,637.54 939.4,632.92 939.5,632.58 940.8,627.92 942.1,622.88 943.4,618.03 943.5,618.26 944.8,624.39 946.1,630.51 947.5,636.64 948.6,641.63 948.9,637.38 950.2,614.43 951.5,591.48 952.2,580.43 952.9,591.30 954.2,612.27 955.6,633.23 955.8,636.34 957.0,635.49 958.3,634.49 958.7,634.20 959.6,632.42 961.0,629.88 961.6,628.76 962.4,626.09 963.7,621.29 965.0,616.49 965.5,614.89 966.4,617.33 967.8,621.00 968.3,622.41 969.1,623.52 970.5,625.31 971.0,626.11 971.8,628.40 973.1,632.52 973.8,634.59 974.5,636.88 975.9,641.50 976.6,644.06 977.2,633.68 978.5,610.32 979.6,592.15 979.9,595.69 981.2,611.59 982.6,627.49 983.8,641.63 984.0,641.43 985.3,639.65 986.6,637.87 986.7,637.81 988.0,634.78 989.4,631.63 989.6,631.05 990.7,612.70 992.0,590.17 992.6,581.00 993.4,590.03 994.8,605.27 995.4,612.05 996.1,620.12 997.5,634.64 998.1,641.63 998.8,641.67 1000.1,641.76 1001.4,641.84 1001.5,641.70 1002.9,640.49 1004.2,639.27 1004.6,638.91 1005.5,637.67 1006.9,635.91 1008.2,634.21 1008.2,634.09 1009.6,630.98 1011.0,627.86 1011.8,625.90 1012.3,626.69 1013.6,628.84 1014.6,630.39 1015.0,631.75 1016.4,636.73 1017.5,640.86 1017.7,641.33 1019.0,644.08 1020.3,645.86 1020.4,645.82 1021.8,636.35 1023.1,626.78 1024.2,618.98 1024.5,617.35 1025.8,608.50 1027.2,599.66 1028.1,593.44 1028.5,599.84 1029.8,621.45 1030.7,635.05 1031.2,634.28 1032.5,632.20 1033.3,631.05 1033.9,632.55 1035.2,635.93 1036.6,639.31 1038.0,642.68 1038.5,644.06 1039.3,643.47 1040.7,642.48 1041.8,641.63 1042.0,641.78 1043.3,642.81 1044.7,643.83 1045.0,644.06 1046.0,643.42 1047.4,642.59 1048.2,642.07 1048.8,641.90 1050.1,641.41 1051.5,640.93 1051.5,640.91 1052.8,642.58 1054.2,644.32 1055.4,645.33 1055.5,644.65 1056.8,627.50 1058.0,612.89 1058.2,614.28 1059.5,623.71 1060.6,631.05 1060.9,626.33 1062.2,605.09 1063.6,583.86 1063.9,579.14 1065.0,580.11 1065.9,581.00 1066.3,587.25 1067.7,608.37 1069.0,629.48 1069.1,631.05 1070.3,631.59 1071.7,632.18 1073.0,632.77 1073.7,633.05 1074.4,634.66 1075.8,637.77 1077.0,640.54 1077.1,640.79 1078.5,643.02 1079.8,645.26 1080.2,645.33 1081.2,639.18 1082.5,629.60 1083.8,620.02 1085.2,610.45 1085.4,609.03 1086.5,611.99 1087.4,614.17 1087.9,610.81 1089.2,601.74 1090.4,594.01 1090.6,596.05 1092.0,609.84 1093.3,623.63 1093.9,629.76 1094.7,632.45 1096.0,637.30 1097.3,642.15 1098.4,645.65 1098.7,645.23 1100.0,642.10 1101.3,639.09 1101.4,639.04 1102.8,637.78 1104.1,636.53 1104.3,636.34 1105.5,639.68 1106.8,643.60 1107.6,645.39 1108.2,629.40 1109.5,588.86 1110.8,600.66 1112.2,612.46 1112.5,614.64 1113.5,623.21 1114.9,633.73 1115.4,637.63 1116.2,638.28 1117.6,639.32 1119.0,640.36 1120.3,641.40 1120.6,641.63 1121.7,628.09 1123.0,610.68 1124.3,593.26 1125.7,575.85 1125.8,574.56 1127.0,584.82 1128.4,595.89 1129.7,606.56 1129.8,607.01 1131.1,619.15 1132.5,631.29 1133.6,641.63 1133.8,641.83 1135.2,643.20 1136.5,644.56 1136.9,644.97 1137.8,645.08 1139.2,645.23 1140.2,645.35 1140.5,640.75 1141.9,623.04 1143.2,605.32 1144.6,587.60 1144.7,586.29 1146.0,600.80 1147.3,616.46 1148.7,632.13 1149.9,645.74 1150.0,645.91 1151.3,640.98 1152.7,635.72 1153.2,633.76 1154.0,635.87 1155.4,639.21 1156.8,642.55 1158.1,645.53 1158.4,645.56 1159.5,632.49 1160.8,614.30 1162.2,596.10 1163.5,577.91 1163.6,576.57 1164.8,589.94 1166.2,604.38 1166.5,608.12 1167.5,619.00 1168.9,633.68 1169.5,640.20 1170.2,640.64 1171.6,641.44 1172.3,641.84 1173.0,641.94 1174.3,642.13 1175.0,642.23 1175.7,641.52 1177.0,639.92 1177.8,638.94 1178.3,639.72 1179.7,641.72 1180.6,643.06 1181.0,643.37 1182.4,644.30 1183.8,645.23 1185.1,645.86 1185.8,645.81 1186.5,644.05 1187.8,638.69 1189.2,633.33 1190.3,628.76 1190.5,629.69 1191.8,635.95 1193.2,642.21 1193.6,644.06 1194.5,637.12 1195.9,627.27 1196.5,622.52 1197.2,618.57 1198.6,610.96 1199.5,605.88 1200.0,613.09 1201.3,634.74 1201.4,636.34 1202.7,613.96 1204.0,589.80 1204.3,584.43 1205.3,595.76 1206.7,610.33 1207.1,614.65 1208.0,624.63 1209.4,638.81 1209.9,644.06 1210.8,642.86 1212.1,640.94 1213.2,639.43 1213.5,639.61 1214.8,640.50 1216.2,641.38 1216.4,641.57 1217.5,640.70 1218.8,639.60 1219.7,638.91 1220.2,634.65 1221.5,623.14 1222.9,611.63 1223.0,611.20 1224.2,600.21 1225.6,588.79 1226.2,583.72 1227.0,592.82 1228.3,609.20 1229.7,625.59 1230.1,631.05 1231.0,632.21 1232.3,633.96 1233.7,635.71 1234.0,636.10 1235.0,638.94 1236.4,642.58 1237.8,645.56 1237.9,645.84 1239.1,645.43 1240.5,644.30 1241.8,643.06 1243.2,644.05 1244.5,645.04 1245.7,645.64 1245.8,645.64 1247.2,643.16 1248.5,640.67 1249.9,638.18 1250.9,636.34 1251.2,637.51 1252.6,642.01 1254.0,645.54 1254.2,645.86 1255.3,627.31 1256.7,602.72 1258.0,578.13 1258.8,563.55 1259.3,577.39 1260.7,611.35 1262.0,644.06 1262.0,643.90 1263.4,639.47 1264.8,635.03 1265.5,632.57 1266.1,631.40 1267.5,628.75 1268.8,626.10 1269.0,625.71 1270.2,621.92 1271.5,617.47 1272.5,614.17 1272.8,616.39 1274.2,624.96 1275.5,633.52 1276.4,638.91 1276.9,638.11 1278.2,635.94 1279.6,633.76 1281.0,629.47 1282.3,625.18 1282.5,624.39 1283.7,623.51 1285.0,622.44 1285.5,622.04 1286.3,628.76 1287.7,639.44 1288.7,645.60 1289.0,640.96 1290.4,616.31 1291.3,599.87 1291.8,603.81 1293.1,615.61 1294.5,627.42 1295.8,639.23 1296.5,645.35 1297.2,643.85 1298.5,640.73 1299.8,637.61 1300.4,636.34 1301.2,636.19 1302.5,635.94 1303.9,635.70 1304.3,635.62 1305.2,617.47 1306.6,591.67 1307.6,572.56 1308.0,575.68 1309.3,587.71 1310.7,599.73 1311.5,607.31 1312.0,611.52 1313.3,622.91 1314.7,634.30 1315.4,640.20 1316.0,639.23 1317.4,637.23 1318.0,636.34 1318.8,637.25 1320.1,638.90 1321.0,639.94 1321.5,640.32 1322.8,641.36 1323.9,642.20 1324.2,641.87 1325.5,640.07 1326.8,638.26 1327.8,637.00 1328.2,636.93 1329.5,636.70 1330.9,636.47 1331.7,636.34 1332.2,627.21 1333.6,604.81 1335.0,582.40 1335.0,581.57 1336.3,580.35 1337.6,579.14 1337.7,580.34 1339.0,612.79 1340.2,641.63 1340.3,641.03 1341.7,635.60 1343.0,630.17 1343.4,628.76 1344.4,632.49 1345.8,637.53 1347.1,642.56 1348.0,645.68 1348.5,645.23 1349.8,643.16 1351.0,641.39 1351.2,641.05 1352.5,638.74 1353.8,636.42 1353.9,636.34 1355.2,634.69 1356.5,632.99 1357.9,631.28 1359.1,629.76 1359.2,629.86 1360.6,630.71 1362.0,631.56 1363.3,632.42 1364.3,633.05 1364.7,630.07 1366.0,618.55 1367.3,607.04 1367.5,606.19 1368.7,595.17 1370.0,583.27 1370.6,578.42 1371.4,579.57 1372.8,581.50 1372.8,581.57 1374.1,592.16 1375.5,603.15 1376.7,613.33 1376.8,614.05 1378.2,623.85 1379.5,633.65 1380.6,641.63 1380.8,641.35 1382.2,639.86 1383.4,638.50 1383.5,638.18 1384.9,634.57 1386.2,630.95 1386.3,630.90 1387.6,629.22 1389.0,627.52 1389.1,627.33 1390.3,629.11 1391.7,631.12 1393.0,633.12 1394.3,635.05 1394.3,634.61 1395.7,622.79 1397.0,610.97 1397.5,607.02 1398.4,616.28 1399.8,630.17 1400.1,633.76 1401.1,625.74 1402.5,614.89 1402.7,612.89 1403.8,614.98 1405.2,617.56 1405.4,618.03 1406.5,616.95 1407.8,615.61 1408.0,615.46 1409.2,601.67 1410.5,586.15 1410.6,585.57 1411.9,592.84 1413.2,600.39 1413.3,600.95 1414.6,606.67 1416.0,612.84 1416.1,613.52 1417.3,620.48 1418.7,628.30 1418.8,629.46 1420.0,635.56 1421.3,642.73 1421.6,644.06 1422.7,632.70 1424.0,618.76 1424.3,615.66 1425.4,605.15 1426.8,591.65 1427.1,588.15 1428.1,595.81 1429.5,606.15 1429.9,609.60 1430.8,616.49 1432.2,626.83 1432.7,631.05 1433.5,620.44 1434.8,602.55 1435.3,596.59 1436.2,605.63 1437.5,619.21 1438.6,629.76 1438.9,629.84 1440.2,630.17 1441.6,630.50 1443.0,630.84 1443.8,631.05 1444.3,632.48 1445.7,636.34 1447.0,640.20 1448.3,644.06 1449.0,645.36 1449.7,638.26 1451.0,623.48 1451.6,617.46 1452.4,617.64 1453.8,617.94 1454.2,618.03 1455.1,624.47 1456.5,634.12 1457.8,643.78 1458.1,645.72 1459.2,636.45 1460.5,624.28 1461.8,612.11 1462.7,604.45 1463.2,603.95 1464.5,602.60 1464.7,602.45 1465.9,616.12 1467.2,631.51 1467.9,638.91 1468.6,637.89 1470.0,635.91 1471.3,633.93 1471.5,633.64 1472.7,634.09 1474.0,634.62 1475.1,635.05 1475.3,635.25 1476.7,636.31 1478.0,637.37 1478.1,637.43 1479.4,638.47 1480.8,639.58 1481.2,639.92 1482.1,641.19 1483.5,643.04 1484.2,644.06 1484.8,631.92 1486.2,604.59 1486.8,591.44 1487.5,592.32 1488.8,594.03 1489.4,594.73 1490.2,604.35 1491.5,620.58 1492.9,636.82 1493.3,641.63 1494.2,634.84 1495.3,627.33 1495.6,627.37 1497.0,627.56 1498.2,627.74 1498.3,627.84 1499.7,630.60 1501.0,633.36 1501.2,633.76 1502.3,630.92 1503.7,627.58 1503.8,627.33 1505.0,634.20 1506.4,641.63 1507.8,616.03 1508.7,598.01 1509.1,600.85 1510.5,610.43 1511.8,620.01 1512.1,622.14 1513.2,628.91 1514.5,637.61 1515.5,644.06 1515.8,643.49 1517.2,641.28 1518.5,639.07 1519.1,638.17 1519.9,636.30 1521.2,633.15 1522.6,629.99 1522.7,629.76 1524.0,637.57 1524.6,641.63 1525.3,631.08 1526.7,610.74 1527.2,602.45 1528.0,599.64 1529.3,594.90 1530.5,590.87 1530.7,593.35 1532.0,610.14 1532.8,619.47 1533.0,619.47 1533.0,619.89 1532.8,619.89 1532.0,610.57 1530.7,593.78 1530.5,591.29 1529.3,595.33 1528.0,600.07 1527.2,602.88 1526.7,611.17 1525.3,631.51 1524.6,642.06 1524.0,638.00 1522.7,630.19 1522.6,630.42 1521.2,633.58 1519.9,636.73 1519.1,638.60 1518.5,639.50 1517.2,641.71 1515.8,643.92 1515.5,644.49 1514.5,638.04 1513.2,629.34 1512.1,622.57 1511.8,620.44 1510.5,610.86 1509.1,601.28 1508.7,598.44 1507.8,616.46 1506.4,642.06 1505.0,634.63 1503.8,627.76 1503.7,628.01 1502.3,631.35 1501.2,634.19 1501.0,633.79 1499.7,631.03 1498.3,628.27 1498.2,628.16 1497.0,627.99 1495.6,627.80 1495.3,627.76 1494.2,635.27 1493.3,642.06 1492.9,637.25 1491.5,621.01 1490.2,604.78 1489.4,595.15 1488.8,594.46 1487.5,592.75 1486.8,591.87 1486.2,605.02 1484.8,632.35 1484.2,644.49 1483.5,643.47 1482.1,641.62 1481.2,640.35 1480.8,640.00 1479.4,638.90 1478.1,637.86 1478.0,637.80 1476.7,636.74 1475.3,635.68 1475.1,635.48 1474.0,635.05 1472.7,634.52 1471.5,634.07 1471.3,634.36 1470.0,636.34 1468.6,638.32 1467.9,639.34 1467.2,631.94 1465.9,616.55 1464.7,602.88 1464.5,603.03 1463.2,604.38 1462.7,604.88 1461.8,612.54 1460.5,624.71 1459.2,636.88 1458.1,646.15 1457.8,644.20 1456.5,634.55 1455.1,624.90 1454.2,618.46 1453.8,618.37 1452.4,618.07 1451.6,617.89 1451.0,623.91 1449.7,638.69 1449.0,645.79 1448.3,644.49 1447.0,640.63 1445.7,636.77 1444.3,632.91 1443.8,631.48 1443.0,631.27 1441.6,630.93 1440.2,630.60 1438.9,630.26 1438.6,630.19 1437.5,619.63 1436.2,606.06 1435.3,597.01 1434.8,602.98 1433.5,620.87 1432.7,631.48 1432.2,627.26 1430.8,616.92 1429.9,610.03 1429.5,606.58 1428.1,596.24 1427.1,588.58 1426.8,592.08 1425.4,605.58 1424.3,616.09 1424.0,619.18 1422.7,633.13 1421.6,644.49 1421.3,643.16 1420.0,635.99 1418.8,629.89 1418.7,628.73 1417.3,620.91 1416.1,613.95 1416.0,613.27 1414.6,607.09 1413.3,601.38 1413.2,600.82 1411.9,593.27 1410.6,586.00 1410.5,586.58 1409.2,602.10 1408.0,615.89 1407.8,616.04 1406.5,617.38 1405.4,618.46 1405.2,617.99 1403.8,615.41 1402.7,613.32 1402.5,615.32 1401.1,626.16 1400.1,634.19 1399.8,630.59 1398.4,616.71 1397.5,607.45 1397.0,611.39 1395.7,623.22 1394.3,635.04 1394.3,635.48 1393.0,633.55 1391.7,631.55 1390.3,629.54 1389.1,627.76 1389.0,627.95 1387.6,629.65 1386.3,631.33 1386.2,631.38 1384.9,635.00 1383.5,638.61 1383.4,638.93 1382.2,640.29 1380.8,641.78 1380.6,642.06 1379.5,634.08 1378.2,624.28 1376.8,614.48 1376.7,613.75 1375.5,603.58 1374.1,592.58 1372.8,582.00 1372.8,581.93 1371.4,580.00 1370.6,578.85 1370.0,583.70 1368.7,595.60 1367.5,606.62 1367.3,607.47 1366.0,618.98 1364.7,630.49 1364.3,633.48 1363.3,632.85 1362.0,631.99 1360.6,631.14 1359.2,630.28 1359.1,630.19 1357.9,631.71 1356.5,633.42 1355.2,635.12 1353.9,636.77 1353.8,636.85 1352.5,639.17 1351.2,641.48 1351.0,641.82 1349.8,643.59 1348.5,645.66 1348.0,646.11 1347.1,642.99 1345.8,637.96 1344.4,632.92 1343.4,629.19 1343.0,630.60 1341.7,636.03 1340.3,641.46 1340.2,642.06 1339.0,613.22 1337.7,580.77 1337.6,579.57 1336.3,580.78 1335.0,582.00 1335.0,582.83 1333.6,605.23 1332.2,627.64 1331.7,636.77 1330.9,636.90 1329.5,637.13 1328.2,637.36 1327.8,637.42 1326.8,638.69 1325.5,640.50 1324.2,642.30 1323.9,642.63 1322.8,641.79 1321.5,640.75 1321.0,640.37 1320.1,639.33 1318.8,637.68 1318.0,636.77 1317.4,637.66 1316.0,639.66 1315.4,640.63 1314.7,634.72 1313.3,623.34 1312.0,611.95 1311.5,607.73 1310.7,600.16 1309.3,588.14 1308.0,576.11 1307.6,572.99 1306.6,592.10 1305.2,617.90 1304.3,636.05 1303.9,636.13 1302.5,636.37 1301.2,636.62 1300.4,636.77 1299.8,638.04 1298.5,641.16 1297.2,644.28 1296.5,645.78 1295.8,639.66 1294.5,627.85 1293.1,616.04 1291.8,604.24 1291.3,600.30 1290.4,616.74 1289.0,641.39 1288.7,646.03 1287.7,639.87 1286.3,629.19 1285.5,622.47 1285.0,622.87 1283.7,623.94 1282.5,624.82 1282.3,625.61 1281.0,629.90 1279.6,634.19 1278.2,636.37 1276.9,638.54 1276.4,639.34 1275.5,633.95 1274.2,625.39 1272.8,616.82 1272.5,614.60 1271.5,617.90 1270.2,622.35 1269.0,626.14 1268.8,626.53 1267.5,629.18 1266.1,631.82 1265.5,633.00 1264.8,635.46 1263.4,639.89 1262.0,644.33 1262.0,644.49 1260.7,611.78 1259.3,577.82 1258.8,563.98 1258.0,578.55 1256.7,603.15 1255.3,627.74 1254.2,646.29 1254.0,645.97 1252.6,642.44 1251.2,637.94 1250.9,636.77 1249.9,638.61 1248.5,641.10 1247.2,643.59 1245.8,646.07 1245.7,646.07 1244.5,645.47 1243.2,644.48 1241.8,643.49 1240.5,644.73 1239.1,645.86 1237.9,646.27 1237.8,645.99 1236.4,643.01 1235.0,639.36 1234.0,636.53 1233.7,636.14 1232.3,634.39 1231.0,632.64 1230.1,631.48 1229.7,626.02 1228.3,609.63 1227.0,593.25 1226.2,584.14 1225.6,589.22 1224.2,600.64 1223.0,611.63 1222.9,612.06 1221.5,623.57 1220.2,635.08 1219.7,639.34 1218.8,640.03 1217.5,641.13 1216.4,642.00 1216.2,641.81 1214.8,640.93 1213.5,640.04 1213.2,639.86 1212.1,641.37 1210.8,643.28 1209.9,644.49 1209.4,639.24 1208.0,625.06 1207.1,615.08 1206.7,610.76 1205.3,596.19 1204.3,584.86 1204.0,590.23 1202.7,614.39 1201.4,636.77 1201.3,635.16 1200.0,613.52 1199.5,606.31 1198.6,611.39 1197.2,619.00 1196.5,622.95 1195.9,627.70 1194.5,637.55 1193.6,644.49 1193.2,642.64 1191.8,636.38 1190.5,630.12 1190.3,629.19 1189.2,633.76 1187.8,639.12 1186.5,644.48 1185.8,646.24 1185.1,646.29 1183.8,645.65 1182.4,644.73 1181.0,643.80 1180.6,643.49 1179.7,642.15 1178.3,640.15 1177.8,639.37 1177.0,640.35 1175.7,641.95 1175.0,642.66 1174.3,642.56 1173.0,642.37 1172.3,642.27 1171.6,641.87 1170.2,641.07 1169.5,640.63 1168.9,634.10 1167.5,619.42 1166.5,608.55 1166.2,604.81 1164.8,590.37 1163.6,576.99 1163.5,578.34 1162.2,596.53 1160.8,614.72 1159.5,632.92 1158.4,645.99 1158.1,645.96 1156.8,642.98 1155.4,639.64 1154.0,636.30 1153.2,634.19 1152.7,636.14 1151.3,641.41 1150.0,646.34 1149.9,646.17 1148.7,632.56 1147.3,616.89 1146.0,601.22 1144.7,586.72 1144.6,588.03 1143.2,605.75 1141.9,623.47 1140.5,641.18 1140.2,645.78 1139.2,645.66 1137.8,645.51 1136.9,645.40 1136.5,644.99 1135.2,643.63 1133.8,642.26 1133.6,642.06 1132.5,631.72 1131.1,619.58 1129.8,607.44 1129.7,606.99 1128.4,596.32 1127.0,585.25 1125.8,574.99 1125.7,576.28 1124.3,593.69 1123.0,611.10 1121.7,628.52 1120.6,642.06 1120.3,641.83 1119.0,640.79 1117.6,639.75 1116.2,638.71 1115.4,638.05 1114.9,634.16 1113.5,623.64 1112.5,615.07 1112.2,612.88 1110.8,601.09 1109.5,589.29 1108.2,629.83 1107.6,645.81 1106.8,644.03 1105.5,640.11 1104.3,636.77 1104.1,636.95 1102.8,638.21 1101.4,639.47 1101.3,639.52 1100.0,642.53 1098.7,645.65 1098.4,646.08 1097.3,642.58 1096.0,637.73 1094.7,632.88 1093.9,630.19 1093.3,624.06 1092.0,610.27 1090.6,596.48 1090.4,594.44 1089.2,602.17 1087.9,611.24 1087.4,614.60 1086.5,612.42 1085.4,609.46 1085.2,610.87 1083.8,620.45 1082.5,630.03 1081.2,639.61 1080.2,645.76 1079.8,645.69 1078.5,643.45 1077.1,641.22 1077.0,640.97 1075.8,638.20 1074.4,635.09 1073.7,633.48 1073.0,633.20 1071.7,632.61 1070.3,632.02 1069.1,631.48 1069.0,629.91 1067.7,608.80 1066.3,587.68 1065.9,581.43 1065.0,580.54 1063.9,579.57 1063.6,584.29 1062.2,605.52 1060.9,626.76 1060.6,631.48 1059.5,624.14 1058.2,614.71 1058.0,613.32 1056.8,627.93 1055.5,645.08 1055.4,645.76 1054.2,644.74 1052.8,643.01 1051.5,641.34 1051.5,641.36 1050.1,641.84 1048.8,642.32 1048.2,642.50 1047.4,643.02 1046.0,643.85 1045.0,644.49 1044.7,644.26 1043.3,643.24 1042.0,642.21 1041.8,642.06 1040.7,642.91 1039.3,643.90 1038.5,644.49 1038.0,643.11 1036.6,639.74 1035.2,636.36 1033.9,632.98 1033.3,631.48 1032.5,632.63 1031.2,634.71 1030.7,635.48 1029.8,621.88 1028.5,600.27 1028.1,593.87 1027.2,600.09 1025.8,608.93 1024.5,617.77 1024.2,619.41 1023.1,627.21 1021.8,636.78 1020.4,646.25 1020.3,646.29 1019.0,644.51 1017.7,641.76 1017.5,641.29 1016.4,637.16 1015.0,632.18 1014.6,630.82 1013.6,629.27 1012.3,627.12 1011.8,626.33 1011.0,628.29 1009.6,631.41 1008.2,634.52 1008.2,634.64 1006.9,636.34 1005.5,638.10 1004.6,639.34 1004.2,639.70 1002.9,640.92 1001.5,642.13 1001.4,642.27 1000.1,642.19 998.8,642.10 998.1,642.06 997.5,635.07 996.1,620.55 995.4,612.48 994.8,605.70 993.4,590.46 992.6,581.43 992.0,590.60 990.7,613.13 989.6,631.48 989.4,632.06 988.0,635.21 986.7,638.24 986.6,638.30 985.3,640.08 984.0,641.86 983.8,642.06 982.6,627.92 981.2,612.02 979.9,596.12 979.6,592.58 978.5,610.75 977.2,634.11 976.6,644.49 975.9,641.93 974.5,637.31 973.8,635.02 973.1,632.95 971.8,628.82 971.0,626.53 970.5,625.74 969.1,623.95 968.3,622.84 967.8,621.43 966.4,617.76 965.5,615.32 965.0,616.92 963.7,621.72 962.4,626.52 961.6,629.19 961.0,630.31 959.6,632.84 958.7,634.63 958.3,634.92 957.0,635.92 955.8,636.77 955.6,633.66 954.2,612.69 952.9,591.73 952.2,580.86 951.5,591.91 950.2,614.86 948.9,637.81 948.6,642.06 947.5,637.07 946.1,630.94 944.8,624.82 943.5,618.69 943.4,618.46 942.1,623.31 940.8,628.35 939.5,633.01 939.4,633.35 938.0,637.97 936.7,642.59 935.6,645.93 935.4,645.86 934.0,643.22 932.6,640.58 932.3,639.89 931.3,639.34 930.0,638.58 929.0,638.05 928.6,637.06 927.2,633.69 925.9,630.33 925.1,628.33 924.5,629.59 923.2,632.67 922.2,634.96 921.9,636.11 920.5,640.54 919.3,644.49 919.1,642.96 917.8,629.14 916.7,617.89 916.5,620.13 915.1,632.21 914.0,642.06 913.8,640.94 912.4,634.91 911.0,628.88 910.8,627.76 909.7,599.08 908.4,563.89 908.2,559.98 907.0,565.72 905.6,572.18 904.3,578.65 903.6,582.00 903.0,592.31 901.6,613.73 900.4,632.76 900.2,631.36 898.9,618.71 897.5,606.06 897.5,605.59 896.2,615.13 895.2,622.47 894.9,620.93 893.5,614.99 892.5,610.60 892.1,612.01 890.8,617.44 889.5,622.80 889.5,622.86 888.1,626.70 886.8,630.54 886.4,631.46 885.4,635.06 884.0,639.78 883.4,642.06 882.7,638.19 881.4,630.73 880.0,623.27 878.6,615.80 878.2,613.32 877.3,616.87 876.0,622.20 874.6,627.53 873.6,631.48 873.2,627.65 871.9,612.86 870.5,598.08 870.4,596.44 869.2,608.85 867.9,622.81 866.5,636.77 865.1,635.38 863.8,634.00 862.6,632.76 862.5,634.00 861.3,643.49 861.1,643.24 859.8,641.53 858.4,639.82 858.0,639.31 857.0,640.10 855.7,641.23 854.7,642.06 854.4,637.99 853.0,622.31 851.6,606.62 851.5,604.88 850.3,610.47 849.0,616.77 847.6,623.06 846.9,626.33 846.2,627.55 844.9,630.08 843.5,632.62 843.0,633.65 842.2,635.38 840.9,638.29 839.5,641.20 839.1,642.06 838.1,643.10 836.8,644.59 835.5,646.06 835.2,646.01 834.1,645.14 832.8,643.66 831.4,642.18 831.3,642.07 830.0,642.66 828.7,643.30 827.4,643.92 827.4,643.87 826.0,642.53 824.6,641.18 823.3,639.84 822.8,639.34 822.0,630.70 820.6,616.98 819.2,603.25 818.2,592.58 817.9,591.58 816.5,587.08 815.2,582.57 814.3,579.57 813.9,584.85 812.5,600.70 811.4,613.62 811.1,616.39 809.8,631.36 808.5,645.78 808.5,645.79 807.1,645.85 805.8,646.01 805.6,645.87 804.4,645.42 803.0,643.89 802.7,643.49 801.7,637.07 800.4,628.40 799.0,619.73 797.6,611.06 797.4,609.46 796.3,615.23 795.0,622.32 793.6,629.41 792.2,636.51 792.2,636.77 790.9,635.48 789.6,634.19 789.5,634.32 788.2,637.66 786.9,641.00 785.5,644.34 784.4,646.27 784.1,646.24 782.8,644.64 781.5,642.59 781.1,642.06 780.1,642.82 778.8,643.84 777.9,644.49 777.4,641.55 776.0,633.60 775.3,629.19 774.7,630.67 773.4,634.02 772.0,637.36 770.6,640.70 770.1,642.06 769.3,632.54 768.0,616.47 767.4,609.33 766.6,601.87 765.2,588.46 764.6,582.00 763.9,611.23 763.6,623.75 762.5,624.09 761.2,624.53 759.9,624.96 759.6,625.04 758.5,619.00 757.1,611.58 756.4,607.45 755.8,612.02 754.5,622.31 753.1,632.59 751.8,642.87 751.2,646.31 750.4,643.87 749.0,638.49 747.7,633.11 746.4,627.72 746.0,626.33 745.0,629.72 743.6,634.29 743.3,635.48 742.3,614.46 741.0,586.08 740.3,572.42 739.6,581.11 738.2,597.88 736.9,614.65 736.8,615.89 735.5,624.19 734.2,633.16 732.9,642.12 732.3,645.75 731.5,642.61 730.1,637.26 729.7,635.48 728.8,635.91 727.5,636.55 727.0,636.77 726.1,621.03 724.8,597.42 724.4,591.29 723.4,606.71 722.0,627.52 721.2,640.63 720.7,637.74 719.4,629.95 718.6,625.61 718.0,628.78 716.6,635.91 716.0,639.34 715.3,633.91 714.0,623.44 713.4,619.18 712.6,621.88 711.2,626.45 709.9,631.02 708.5,635.58 708.2,636.77 707.2,618.23 705.9,593.21 705.6,588.58 704.5,602.88 703.1,620.43 702.3,631.48 701.8,632.00 700.5,633.41 699.7,634.19 699.1,629.39 697.8,618.59 696.4,607.79 695.0,596.98 694.5,592.58 693.7,599.97 692.4,612.45 691.0,624.92 689.6,637.39 689.3,640.63 688.3,641.17 687.0,641.90 685.6,642.63 684.2,643.35 684.0,643.49 682.9,633.09 681.5,620.33 680.4,609.46 680.2,610.12 678.9,614.60 677.7,618.42 677.5,619.57 676.1,627.35 675.0,633.99 674.8,634.90 673.5,641.08 672.3,646.06 672.1,644.88 670.8,634.96 669.5,626.13 669.4,625.33 668.0,618.05 666.8,611.31 666.7,611.83 665.4,618.85 664.0,625.86 662.6,632.87 661.9,636.77 661.3,637.96 660.0,640.63 658.6,643.30 657.2,645.98 656.7,646.37 655.9,644.88 654.5,641.19 653.4,638.05 653.2,638.63 651.9,642.49 651.5,643.49 650.5,632.39 649.1,617.40 648.5,610.74 647.8,602.49 646.5,587.63 645.6,578.28 645.1,585.21 643.8,603.93 642.4,622.65 641.0,641.37 641.0,642.06 639.7,635.10 638.4,627.87 637.1,621.18 637.0,621.58 635.6,627.00 634.3,632.42 633.0,637.84 631.9,642.06 631.6,641.07 630.2,636.60 629.1,632.96 628.9,632.54 627.5,630.27 626.4,628.33 626.2,629.23 624.9,635.29 623.5,641.35 622.8,644.49 622.1,640.40 620.8,631.91 619.5,623.42 619.2,621.85 618.1,613.87 616.8,604.07 615.6,595.73 615.4,595.63 614.0,594.96 613.0,594.44 612.7,596.58 611.4,606.19 610.0,615.45 610.0,615.79 608.6,624.96 607.3,634.12 607.1,635.48 606.0,624.09 604.6,610.72 603.2,597.35 601.9,583.98 601.7,582.00 600.5,589.07 599.2,597.36 598.7,600.25 597.9,605.26 596.5,612.96 595.8,617.12 595.1,620.68 593.8,628.44 592.8,634.19 592.5,634.79 591.1,637.10 589.8,639.41 588.4,641.72 588.2,642.06 587.0,632.41 585.7,621.09 584.4,609.77 583.0,598.44 581.6,608.39 580.3,618.34 579.0,628.29 577.8,636.77 577.6,633.84 576.2,614.05 574.9,594.26 574.6,589.86 573.5,606.90 572.2,628.80 572.0,632.05 570.9,627.97 569.5,623.18 569.3,622.47 568.1,628.79 566.8,636.22 566.7,636.77 565.5,627.45 564.1,617.38 563.9,615.89 562.8,619.77 561.4,624.33 560.0,628.88 558.9,632.76 558.7,631.31 557.4,621.47 556.0,611.64 555.7,609.46 554.6,622.62 553.3,639.55 553.1,642.06 552.0,631.62 550.6,619.37 550.5,618.46 549.2,627.40 547.9,637.05 547.2,642.06 546.5,632.57 545.2,612.88 543.9,593.18 542.5,573.48 542.3,570.56 541.1,588.35 539.8,609.23 538.5,630.11 537.4,646.06 537.1,643.99 535.8,633.37 534.4,622.75 534.2,621.18 533.0,626.75 531.7,633.28 530.4,639.81 529.0,646.25 527.6,630.20 526.3,614.05 526.0,611.05 525.0,599.31 523.6,584.90 523.1,579.57 522.2,586.41 520.9,597.28 519.5,608.15 518.2,621.05 516.9,633.94 516.0,642.06 515.5,638.70 514.1,629.63 512.8,620.57 512.7,619.89 511.4,622.76 510.1,625.85 509.1,628.14 508.8,629.63 507.4,635.39 506.1,641.14 505.5,643.49 504.7,642.89 503.4,641.87 502.0,640.89 502.0,640.93 500.6,642.90 499.3,644.88 498.6,645.91 497.9,646.02 496.6,646.18 495.2,646.01 495.1,646.10 493.9,635.37 492.6,623.02 491.5,613.42 491.2,610.75 489.9,598.75 488.5,586.76 487.9,581.43 487.1,582.80 485.8,585.27 484.7,587.29 484.4,589.05 483.1,598.59 481.8,608.12 480.8,615.18 480.4,617.94 479.1,628.59 477.7,639.25 476.8,645.83 476.4,643.99 475.0,636.91 473.6,629.83 472.9,625.90 472.3,622.98 470.9,616.39 469.6,609.81 469.0,606.88 468.2,613.73 466.9,626.05 466.4,630.62 465.6,633.19 464.2,637.27 462.9,641.36 461.5,645.44 461.2,645.77 460.1,643.77 458.8,640.45 457.4,637.14 457.3,636.77 456.1,636.85 454.8,636.95 453.8,637.02 453.4,637.32 452.1,638.28 450.7,639.23 450.4,639.47 449.4,640.23 448.0,641.24 446.9,642.06 446.6,640.85 445.3,634.35 443.9,627.84 442.6,621.34 442.3,619.89 441.2,621.41 439.9,623.36 439.0,624.62 438.6,626.04 437.2,630.05 435.9,634.05 435.8,634.29 434.5,637.31 433.1,640.51 432.5,642.06 431.8,642.64 430.4,643.75 429.1,644.86 427.8,645.98 427.3,646.17 426.4,642.59 425.1,636.94 424.7,635.48 423.7,635.97 422.4,636.62 421.2,637.17 421.0,637.48 419.6,639.30 418.3,641.12 417.8,641.83 416.9,641.89 415.6,641.98 414.3,642.06 414.2,641.38 412.9,622.92 411.6,604.46 410.2,586.01 409.3,573.71 408.9,584.69 407.5,617.65 406.5,642.06 406.1,640.60 404.8,634.95 403.4,629.30 402.1,623.66 401.2,619.89 400.8,621.63 399.4,626.85 398.1,632.07 397.9,632.45 396.7,636.70 395.4,641.28 394.7,643.49 394.0,641.37 392.6,637.29 391.3,633.20 391.1,632.75 389.9,628.40 388.6,623.51 387.6,619.89 387.2,621.36 385.9,626.99 384.6,632.63 384.0,634.93 383.2,637.46 381.9,641.75 380.5,645.91 380.4,645.84 379.1,639.93 377.8,633.00 376.5,626.33 376.4,626.50 375.1,631.26 373.9,635.48 373.8,635.23 372.4,632.92 371.1,630.62 369.9,628.74 369.7,628.43 368.4,626.72 367.0,625.02 366.0,623.75 365.6,626.60 364.3,637.59 363.4,644.92 362.9,640.17 361.6,625.92 360.5,614.30 360.2,611.31 358.9,595.14 357.6,579.57 357.6,579.83 356.2,586.88 354.9,593.88 354.9,593.92 353.5,599.07 352.1,604.22 352.1,604.33 350.8,610.52 349.4,616.85 349.4,617.18 348.1,622.46 346.8,628.02 346.6,628.48 345.4,635.92 344.1,644.02 343.9,644.92 342.7,631.98 341.4,617.43 341.1,615.28 340.0,605.79 338.6,594.64 338.4,592.58 337.3,612.09 335.9,636.02 335.4,645.78 334.6,645.69 333.2,645.55 332.1,645.43 331.9,644.97 330.6,642.49 329.2,640.00 328.9,639.45 327.9,638.51 326.5,637.30 325.6,636.53 325.1,636.57 323.8,636.67 322.4,636.76 322.4,636.77 321.1,627.62 319.8,618.46 319.8,618.66 318.4,623.98 317.1,629.31 316.2,632.46 315.7,634.12 314.4,638.21 313.0,642.30 312.7,643.20 311.6,643.70 310.3,644.35 310.0,644.49 308.9,634.34 307.6,621.30 306.8,613.08 306.2,608.12 304.9,594.74 303.6,581.35 303.5,580.86 302.2,600.78 300.9,621.47 299.6,640.63 299.5,640.70 298.1,641.71 296.8,642.71 295.4,643.71 294.4,644.49 294.1,643.01 292.8,636.37 291.4,629.72 290.5,625.29 290.1,622.70 288.7,614.95 287.4,607.19 286.6,602.88 286.0,606.04 284.6,613.15 283.4,620.01 283.3,620.34 281.9,629.44 280.6,638.55 280.1,641.92 279.2,638.24 277.9,632.40 276.6,626.56 276.2,625.04 275.2,624.55 273.9,623.88 273.6,623.75 272.5,616.37 271.1,607.30 270.3,601.59 269.8,606.25 268.4,618.84 267.1,631.43 265.8,644.02 265.7,644.49 264.4,644.17 263.1,643.83 261.7,643.50 260.5,643.20 260.4,642.30 259.0,634.15 257.6,626.00 257.2,623.58 256.3,618.70 254.9,611.76 254.0,606.88 253.6,608.78 252.2,615.20 250.9,621.62 250.8,622.33 249.6,628.61 248.2,635.68 247.5,639.34 246.8,639.99 245.5,641.32 244.2,642.66 242.8,644.00 242.3,644.49 241.4,639.39 240.1,631.30 238.8,623.21 237.4,615.11 237.1,613.32 236.1,619.49 234.7,627.43 233.3,635.37 232.0,643.31 231.8,644.49 230.7,643.73 229.3,642.84 227.9,641.95 227.9,641.92 226.6,632.38 225.2,622.48 224.0,613.32 223.9,613.72 222.6,619.14 221.2,624.56 219.8,629.98 218.8,634.19 218.5,634.53 217.2,636.05 215.8,637.57 215.6,637.86 214.4,638.36 213.1,638.98 212.3,639.34 211.8,640.07 210.4,641.85 209.1,643.63 208.4,644.49 207.7,639.43 206.3,629.66 205.0,619.90 203.7,610.14 203.2,606.88 202.3,606.88 200.9,606.88 200.6,606.88 199.6,613.98 198.2,623.56 196.9,633.14 195.6,642.72 195.3,644.49 194.2,642.71 192.8,640.51 191.5,638.32 190.2,636.13 190.1,636.05 188.8,637.52 187.4,639.04 186.1,640.56 184.9,641.92 184.8,641.73 183.4,640.06 182.1,638.39 180.7,636.72 179.7,635.48 179.3,635.84 178.0,637.20 176.7,638.57 176.4,638.77 175.3,640.79 173.9,643.17 173.2,644.49 172.6,643.90 171.2,642.56 170.6,641.92 169.9,634.56 168.6,620.37 167.7,610.91 167.2,606.41 165.8,592.92 164.7,581.43 164.5,583.36 163.2,596.37 161.8,609.38 161.8,609.87 160.4,622.86 159.1,636.34 158.8,639.34 157.8,638.82 156.4,638.15 155.1,637.49 153.7,636.82 153.6,636.77 152.3,639.86 151.0,643.20 149.7,642.53 148.3,641.87 146.9,641.20 145.8,640.63 145.6,637.94 144.2,619.80 143.1,603.67 142.9,601.99 141.6,586.93 140.3,572.99 140.2,574.07 138.8,588.59 138.0,597.73 137.5,597.73 136.2,597.73 135.4,597.73 134.8,606.14 133.4,625.08 132.8,634.19 132.1,634.52 130.8,635.15 129.6,635.71 129.4,635.88 128.1,637.39 126.7,638.90 126.3,639.34 125.3,639.57 124.0,639.90 122.7,640.23 121.3,640.56 121.0,640.63 120.0,641.83 118.6,643.37 117.2,644.92 116.5,645.78 115.9,640.24 114.5,627.78 113.2,615.32 111.8,622.22 110.5,629.13 109.2,636.03 108.0,641.92 107.8,641.85 106.5,641.40 105.1,640.96 104.1,640.63 103.8,638.94 102.4,632.44 101.0,625.93 99.7,619.43 99.5,618.46 98.3,621.60 97.0,625.28 95.7,628.97 95.6,629.10 94.3,632.95 93.0,636.94 91.7,640.63 91.6,640.55 90.2,639.51 89.1,638.63 88.9,638.70 87.5,639.21 87.2,639.34 86.2,639.66 84.8,640.10 83.5,640.53 83.2,640.63 82.2,634.45 80.8,626.50 79.5,618.56 78.1,610.62 78.0,610.03 76.8,625.36 75.4,641.92 74.0,640.58 72.7,639.24 71.3,637.91 70.2,636.77 70.0,636.77" fill="#D66300" fill-opacity="0.8"/></svg>
<div class="t" style="left:70px;top:497px;font-size:11px;line-height:12px;font-weight:bold;color:#fff;">Total CPU utilization (system.cpu)</div>
<div class="t" style="left:-933px;width:1000px;text-align:right;top:651px;font-size:10px;line-height:11px;font-weight:bold;color:#fff;">0.0</div>
<div class="t" style="left:-933px;width:1000px;text-align:right;top:623px;font-size:10px;line-height:11px;font-weight:bold;color:#fff;">20.0</div>
<div class="t" style="left:-933px;width:1000px;text-align:right;top:594px;font-size:10px;line-height:11px;font-weight:bold;color:#fff;">40.0</div>
<div class="t" style="left:-933px;width:1000px;text-align:right;top:566px;font-size:10px;line-height:11px;font-weight:bold;color:#fff;">60.0</div>
<div class="t" style="left:-933px;width:1000px;text-align:right;top:537px;font-size:10px;line-height:11px;font-weight:bold;color:#fff;">80.0</div>
<div class="t" style="left:-933px;width:1000px;text-align:right;top:509px;font-size:10px;line-height:11px;font-weight:bold;color:#fff;">100.0</div>
<div class="t" style="left:-29px;top:585px;width:100px;height:11px;line-height:11px;font-size:10px;color:#fff;text-align:center;transform:rotate(-90deg);">percentage</div>
<div class="t" style="left:-361.4px;width:1000px;text-align:center;top:660px;font-size:10px;line-height:11px;font-weight:bold;color:#fff;">20:36:00</div>
<div class="t" style="left:-279.99px;width:1000px;text-align:center;top:660px;font-size:10px;line-height:11px;font-weight:bold;color:#fff;">20:36:30</div>
<div class="t" style="left:-198.58000000000004px;width:1000px;text-align:center;top:660px;font-size:10px;line-height:11px;font-weight:bold;color:#fff;">20:37:00</div>
<div class="t" style="left:-117.17000000000002px;width:1000px;text-align:center;top:660px;font-size:10px;line-height:11px;font-weight:bold;color:#fff;">20:37:30</div>
<div class="t" style="left:-35.75999999999999px;width:1000px;text-align:center;top:660px;font-size:10px;line-height:11px;font-weight:bold;color:#fff;">20:38:00</div>
<div class="t" style="left:45.64999999999998px;width:1000px;text-align:center;top:660px;font-size:10px;line-height:11px;font-weight:bold;color:#fff;">20:38:30</div>
<div class="t" style="left:127.05999999999995px;width:1000px;text-align:center;top:660px;font-size:10px;line-height:11px;font-weight:bold;color:#fff;">20:39:00</div>
<div class="t" style="left:208.47000000000003px;width:1000px;text-align:center;top:660px;font-size:10px;line-height:11px;font-weight:bold;color:#fff;">20:39:30</div>
<div class="t" style="left:289.88px;width:1000px;text-align:center;top:660px;font-size:10px;line-height:11px;font-weight:bold;color:#fff;">20:40:00</div>
<div class="t" style="left:371.28999999999996px;width:1000px;text-align:center;top:660px;font-size:10px;line-height:11px;font-weight:bold;color:#fff;">20:40:30</div>
<div class="t" style="left:452.69999999999993px;width:1000px;text-align:center;top:660px;font-size:10px;line-height:11px;font-weight:bold;color:#fff;">20:41:00</div>
<div class="t" style="left:534.1099999999999px;width:1000px;text-align:center;top:660px;font-size:10px;line-height:11px;font-weight:bold;color:#fff;">20:41:30</div>
<div class="t" style="left:615.52px;width:1000px;text-align:center;top:660px;font-size:10px;line-height:11px;font-weight:bold;color:#fff;">20:42:00</div>
<div class="t" style="left:696.9299999999998px;width:1000px;text-align:center;top:660px;font-size:10px;line-height:11px;font-weight:bold;color:#fff;">20:42:30</div>
<div class="t" style="left:778.3399999999999px;width:1000px;text-align:center;top:660px;font-size:10px;line-height:11px;font-weight:bold;color:#fff;">20:43:00</div>
<div class="t" style="left:859.7499999999998px;width:1000px;text-align:center;top:660px;font-size:10px;line-height:11px;font-weight:bold;color:#fff;">20:43:30</div>
<div class="t" style="left:941.1599999999999px;width:1000px;text-align:center;top:660px;font-size:10px;line-height:11px;font-weight:bold;color:#fff;">20:44:00</div>
<div class="t" style="left:1018px;width:1000px;text-align:center;top:660px;font-size:10px;line-height:11px;font-weight:bold;color:#fff;">20:44:30</div>
<div class="t" style="left:1538px;top:498px;font-size:10px;line-height:11px;font-weight:normal;color:#fff;">man. 23. sep. 2019</div>
<div class="t" style="left:1538px;top:512px;font-size:11px;line-height:12px;font-weight:bold;color:#fff;">20:44:34</div>
<div class="t" style="left:668px;width:1000px;text-align:right;top:528px;font-size:10.3px;line-height:11px;font-weight:bold;color:#fff;">percentage</div>
<div style="position:absolute;left:1538px;top:546px;width:13px;height:5px;background:#D66300;"></div>
<div class="t" style="left:1554px;top:541px;font-size:11px;line-height:12px;font-weight:bold;color:#D66300;">softirq</div>
<div class="t" style="left:668px;width:1000px;text-align:right;top:541px;font-size:11px;line-height:12px;font-weight:bold;color:#D66300;">0.2</div>
<div style="position:absolute;left:1538px;top:560px;width:13px;height:5px;background:#DDDD00;"></div>
<div class="t" style="left:1554px;top:555px;font-size:11px;line-height:12px;font-weight:bold;color:#DDDD00;">user</div>
<div class="t" style="left:668px;width:1000px;text-align:right;top:555px;font-size:11px;line-height:12px;font-weight:bold;color:#DDDD00;">13.3</div>
<div style="position:absolute;left:1538px;top:574px;width:13px;height:5px;background:#5054e6;"></div>
<div class="t" style="left:1554px;top:569px;font-size:11px;line-height:12px;font-weight:bold;color:#5054e6;">system</div>
<div class="t" style="left:668px;width:1000px;text-align:right;top:569px;font-size:11px;line-height:12px;font-weight:bold;color:#5054e6;">3.0</div>
<div style="position:absolute;left:1538px;top:588px;width:13px;height:5px;background:#EE9911;"></div>
<div class="t" style="left:1554px;top:583px;font-size:11px;line-height:12px;font-weight:bold;color:#EE9911;">nice</div>
<div class="t" style="left:668px;width:1000px;text-align:right;top:583px;font-size:11px;line-height:12px;font-weight:bold;color:#EE9911;">6.0</div>
<div style="position:absolute;left:1538px;top:602px;width:13px;height:5px;background:#BB44CC;"></div>
<div class="t" style="left:1554px;top:597px;font-size:11px;line-height:12px;font-weight:bold;color:#BB44CC;">iowait</div>
<div class="t" style="left:668px;width:1000px;text-align:right;top:597px;font-size:11px;line-height:12px;font-weight:bold;color:#BB44CC;">0.1</div>
<svg style="left:0;top:0" width="1" height="1"><path d="M1551,664 L1557,659.5 L1557,668.5 Z M1557,664 L1563,659.5 L1563,668.5 Z" fill="#fff"/><path d="M1570,658.5 L1580,664 L1570,669.5 Z" fill="#fff"/><path d="M1587,659.5 L1593,664 L1587,668.5 Z M1593,659.5 L1599,664 L1593,668.5 Z" fill="#fff"/><rect x="1606" y="662.7" width="10" height="2.6" fill="#fff"/><rect x="1609.7" y="659" width="2.6" height="10" fill="#fff"/><rect x="1624" y="662.7" width="10" height="2.6" fill="#fff"/><path d="M1663,663 L1668,658 L1673,663 Z M1663,665 L1668,670 L1673,665 Z" fill="#fff"/></svg>
<svg style="left:0;top:0" width="1" height="1"><line x1="70" y1="901.2" x2="1533" y2="901.2" stroke="#2c3236" stroke-width="1"/><line x1="70" y1="880.3" x2="1533" y2="880.3" stroke="#2c3236" stroke-width="1"/><line x1="70" y1="859.3" x2="1533" y2="859.3" stroke="#2c3236" stroke-width="1"/><line x1="70" y1="838.4" x2="1533" y2="838.4" stroke="#2c3236" stroke-width="1"/><line x1="70" y1="909.3" x2="1533" y2="909.3" stroke="#2c3236" stroke-width="1"/><line x1="138.5" y1="819.4" x2="138.5" y2="909.3" stroke="#2c3236" stroke-width="1"/><line x1="220.6" y1="819.4" x2="220.6" y2="909.3" stroke="#2c3236" stroke-width="1"/><line x1="302.6" y1="819.4" x2="302.6" y2="909.3" stroke="#2c3236" stroke-width="1"/><line x1="384.6" y1="819.4" x2="384.6" y2="909.3" stroke="#2c3236" stroke-width="1"/><line x1="466.7" y1="819.4" x2="466.7" y2="909.3" stroke="#2c3236" stroke-width="1"/><line x1="548.8" y1="819.4" x2="548.8" y2="909.3" stroke="#2c3236" stroke-width="1"/><line x1="630.8" y1="819.4" x2="630.8" y2="909.3" stroke="#2c3236" stroke-width="1"/><line x1="712.9" y1="819.4" x2="712.9" y2="909.3" stroke="#2c3236" stroke-width="1"/><line x1="794.9" y1="819.4" x2="794.9" y2="909.3" stroke="#2c3236" stroke-width="1"/><line x1="876.9" y1="819.4" x2="876.9" y2="909.3" stroke="#2c3236" stroke-width="1"/><line x1="959.0" y1="819.4" x2="959.0" y2="909.3" stroke="#2c3236" stroke-width="1"/><line x1="1041.0" y1="819.4" x2="1041.0" y2="909.3" stroke="#2c3236" stroke-width="1"/><line x1="1123.1" y1="819.4" x2="1123.1" y2="909.3" stroke="#2c3236" stroke-width="1"/><line x1="1205.1" y1="819.4" x2="1205.1" y2="909.3" stroke="#2c3236" stroke-width="1"/><line x1="1287.2" y1="819.4" x2="1287.2" y2="909.3" stroke="#2c3236" stroke-width="1"/><line x1="1369.2" y1="819.4" x2="1369.2" y2="909.3" stroke="#2c3236" stroke-width="1"/><line x1="1451.3" y1="819.4" x2="1451.3" y2="909.3" stroke="#2c3236" stroke-width="1"/><line x1="70.5" y1="819.4" x2="70.5" y2="909.3" stroke="#2c3236" stroke-width="1"/><path d="M69.3,907.05 C71.7,907.36 79.3,909.84 83.9,908.93 C88.5,908.03 92.4,906.46 96.7,901.61 C101.0,896.76 105.0,884.10 109.5,879.84 C114.0,875.59 119.2,879.60 124.0,876.07 C128.8,872.55 133.4,860.20 138.0,858.70 C142.6,857.20 146.8,867.21 151.5,867.07 C156.2,866.93 160.8,859.40 166.0,857.86 C171.2,856.33 176.1,854.83 182.5,857.86 C188.9,860.90 198.3,872.13 204.4,876.07 C210.5,880.02 214.1,878.79 219.0,881.52 C223.9,884.24 228.7,889.82 233.6,892.40 C238.5,894.98 243.6,895.33 248.2,897.00 C252.8,898.68 256.8,905.62 261.0,902.45 C265.2,899.27 269.1,881.73 273.7,877.96 C278.2,874.19 283.4,879.74 288.3,879.84 C293.2,879.95 298.3,881.34 302.9,878.59 C307.5,875.83 311.4,864.46 315.7,863.31 C320.0,862.16 323.9,867.53 328.5,871.68 C333.1,875.83 338.2,889.92 343.0,888.21 C347.8,886.50 352.7,864.04 357.0,861.42 C361.3,858.81 363.6,869.59 368.6,872.52 C373.6,875.45 381.7,877.78 386.9,879.00 C392.1,880.23 395.4,878.48 399.6,879.84 C403.9,881.20 407.5,885.67 412.4,887.17 C417.3,888.67 424.5,887.97 428.8,888.84 C433.1,889.71 434.0,890.69 438.0,892.40 C442.0,894.11 447.7,898.16 452.6,899.10 C457.5,900.04 462.3,897.63 467.2,898.05 C472.1,898.47 476.9,900.70 481.8,901.61 C486.7,902.52 492.1,903.18 496.4,903.49 C500.6,903.81 503.1,902.59 507.3,903.49 C511.6,904.40 517.3,913.50 521.9,908.93 C526.5,904.36 530.5,880.33 534.7,876.07 C539.0,871.82 542.9,882.49 547.4,883.40 C551.9,884.31 557.2,883.02 562.0,881.52 C566.8,880.02 571.3,874.09 575.9,874.40 C580.5,874.71 585.0,886.16 589.4,883.40 C593.8,880.64 597.6,864.35 602.2,857.86 C606.8,851.38 611.9,845.69 616.8,844.47 C621.7,843.25 626.5,849.53 631.4,850.54 C636.3,851.55 641.7,850.96 646.0,850.54 C650.3,850.12 652.8,847.12 657.0,848.03 C661.2,848.93 666.3,853.75 671.5,855.98 C676.7,858.21 683.2,862.50 688.0,861.42 C692.8,860.34 695.8,851.03 700.0,849.49 C704.2,847.96 708.7,852.63 713.0,852.21 C717.3,851.80 721.6,847.68 726.0,846.98 C730.4,846.28 734.8,845.87 739.1,848.03 C743.5,850.19 747.8,860.13 752.1,859.96 C756.5,859.78 760.9,847.85 765.2,846.98 C769.6,846.11 773.9,852.14 778.2,854.73 C782.5,857.31 786.4,859.68 791.2,862.47 C796.0,865.26 801.7,869.97 806.9,871.47 C812.1,872.97 817.7,879.91 822.5,871.47 C827.3,863.03 831.2,827.52 835.6,820.82 C840.0,814.12 843.8,826.23 848.6,831.28 C853.4,836.34 858.6,847.26 864.2,851.17 C869.9,855.07 876.9,852.84 882.5,854.73 C888.1,856.61 892.0,858.98 898.1,862.47 C904.2,865.96 912.9,872.59 919.0,875.66 C925.1,878.73 928.5,880.26 934.6,880.89 C940.7,881.52 948.5,880.75 955.5,879.42 C962.5,878.10 968.9,872.93 976.3,872.93 C983.7,872.93 993.7,881.31 999.8,879.42 C1005.9,877.54 1008.0,863.38 1012.8,861.63 C1017.6,859.89 1021.5,867.32 1028.5,868.96 C1035.5,870.60 1048.0,876.88 1054.5,871.47 C1061.0,866.06 1062.8,841.05 1067.6,836.52 C1072.4,831.98 1078.4,846.42 1083.2,844.26 C1088.0,842.10 1091.9,825.00 1096.2,823.54 C1100.5,822.07 1104.5,833.31 1109.3,835.47 C1114.1,837.63 1119.2,834.77 1124.9,836.52 C1130.6,838.26 1137.6,843.14 1143.2,845.93 C1148.8,848.73 1154.0,853.54 1158.8,853.26 C1163.6,852.98 1166.6,842.03 1171.8,844.26 C1177.0,846.49 1184.4,863.76 1190.1,866.66 C1195.8,869.55 1200.9,861.63 1205.7,861.63 C1210.5,861.63 1214.5,869.97 1218.8,866.66 C1223.1,863.34 1226.1,844.16 1231.8,841.75 C1237.5,839.34 1245.8,848.31 1252.7,852.21 C1259.7,856.12 1266.5,862.78 1273.5,865.19 C1280.5,867.60 1287.0,866.66 1294.4,866.66 C1301.8,866.66 1310.0,870.21 1317.8,865.19 C1325.6,860.17 1334.8,838.96 1341.3,836.52 C1347.8,834.07 1350.9,846.63 1357.0,850.54 C1363.1,854.45 1369.1,858.39 1377.8,859.96 C1386.5,861.53 1401.3,859.09 1409.1,859.96 C1416.9,860.83 1419.9,866.66 1424.7,865.19 C1429.5,863.73 1433.5,852.46 1437.8,851.17 C1442.1,849.88 1446.0,854.93 1450.8,857.45 C1455.6,859.96 1459.5,862.96 1466.4,866.24 C1473.4,869.52 1484.7,875.13 1492.5,877.12 C1500.3,879.11 1508.1,879.28 1513.3,878.17 C1518.5,877.05 1520.6,876.49 1523.8,870.42 C1527.0,864.35 1531.1,846.53 1532.6,841.75" fill="none" stroke="#66AA00" stroke-width="1.7" stroke-linejoin="round"/><path d="M69.3,884.45 C73.6,884.45 88.2,885.35 94.9,884.45 C101.6,883.54 104.3,879.91 109.5,879.00 C114.7,878.10 121.0,879.67 125.9,879.00 C130.8,878.34 134.1,875.41 138.7,875.03 C143.3,874.64 148.4,876.70 153.3,876.70 C158.2,876.70 163.0,875.24 167.9,875.03 C172.8,874.82 176.4,874.96 182.5,875.45 C188.6,875.93 195.9,876.98 204.4,877.96 C212.9,878.93 224.5,880.33 233.6,881.31 C242.7,882.28 252.4,884.20 259.1,883.82 C265.8,883.43 268.2,879.67 273.7,879.00 C279.2,878.34 285.3,880.33 292.0,879.84 C298.7,879.35 306.0,875.97 313.9,876.07 C321.8,876.18 332.4,880.47 339.4,880.47 C346.4,880.47 349.1,876.32 355.8,876.07 C362.5,875.83 372.0,878.52 379.6,879.00 C387.2,879.49 391.8,878.45 401.5,879.00 C411.2,879.56 425.8,881.55 438.0,882.35 C450.2,883.16 462.3,883.19 474.5,883.82 C486.7,884.45 503.1,885.56 511.0,886.12 C518.9,886.68 517.9,888.21 521.9,887.17 C525.9,886.12 530.5,880.78 534.7,879.84 C539.0,878.90 540.4,881.52 547.4,881.52 C554.4,881.52 569.3,879.84 576.6,879.84 C583.9,879.84 584.5,882.63 591.2,881.52 C597.9,880.40 605.8,874.54 616.8,873.14 C627.8,871.75 644.2,873.07 657.0,873.14 C669.8,873.21 686.2,873.60 693.4,873.56 C700.6,873.53 694.6,873.28 700.0,872.93 C705.4,872.59 717.3,871.47 726.0,871.47 C734.7,871.47 745.1,873.21 752.1,872.93 C759.1,872.66 760.8,869.79 767.8,869.79 C774.8,869.79 784.2,872.41 793.8,872.93 C803.3,873.46 818.1,874.40 825.1,872.93 C832.1,871.47 829.5,864.81 835.6,864.14 C841.7,863.48 852.9,868.09 861.6,868.96 C870.3,869.83 878.1,868.71 887.7,869.38 C897.3,870.04 908.6,872.17 919.0,872.93 C929.4,873.70 939.9,873.98 950.3,873.98 C960.7,873.98 971.2,873.70 981.6,872.93 C992.0,872.17 1000.6,869.38 1012.8,869.38 C1025.0,869.38 1045.4,873.81 1054.5,872.93 C1063.6,872.06 1062.8,865.26 1067.6,864.14 C1072.4,863.03 1078.4,866.76 1083.2,866.24 C1088.0,865.71 1088.8,861.46 1096.2,861.00 C1103.6,860.55 1115.3,862.64 1127.5,863.52 C1139.7,864.39 1157.0,865.78 1169.2,866.24 C1181.4,866.69 1190.1,866.86 1200.5,866.24 C1210.9,865.61 1221.4,862.47 1231.8,862.47 C1242.2,862.47 1252.7,865.61 1263.1,866.24 C1273.5,866.86 1285.3,866.24 1294.4,866.24 C1303.5,866.24 1310.0,867.28 1317.8,866.24 C1325.6,865.19 1331.3,860.31 1341.3,859.96 C1351.3,859.61 1363.9,863.27 1377.8,864.14 C1391.7,865.02 1414.3,865.47 1424.7,865.19 C1435.1,864.91 1430.8,862.30 1440.3,862.47 C1449.8,862.64 1470.7,865.36 1482.0,866.24 C1493.3,867.11 1501.1,867.63 1508.1,867.70 C1515.1,867.77 1519.7,867.77 1523.8,866.66 C1527.9,865.54 1531.1,861.95 1532.6,861.00" fill="none" stroke="#FE3912" stroke-width="1.7" stroke-linejoin="round"/><path d="M69.3,877.96 C74.2,877.96 90.6,878.31 98.5,877.96 C106.4,877.61 110.1,876.28 116.8,875.86 C123.5,875.45 129.0,875.59 138.7,875.45 C148.4,875.31 164.2,874.85 175.2,875.03 C186.1,875.20 191.0,875.93 204.4,876.49 C217.8,877.05 243.3,878.31 255.5,878.38 C267.7,878.45 267.7,877.16 277.4,876.91 C287.1,876.67 303.0,876.74 313.9,876.91 C324.8,877.09 335.7,878.10 343.0,877.96 C350.3,877.82 347.9,876.25 357.7,876.07 C367.4,875.90 382.0,876.46 401.5,876.91 C421.0,877.36 454.4,878.31 474.5,878.79 C494.6,879.28 509.8,879.98 521.9,879.84 C534.0,879.70 535.8,878.38 547.4,877.96 C559.0,877.54 579.0,877.75 591.2,877.33 C603.4,876.91 602.3,875.90 620.4,875.45 C638.5,874.99 666.7,874.75 700.0,874.61 C733.3,874.47 795.8,874.92 820.0,874.61 C844.2,874.29 806.7,873.04 845.0,872.73 C883.3,872.41 1010.8,873.00 1050.0,872.73 C1089.2,872.45 1033.3,871.54 1080.0,871.05 C1126.7,870.56 1254.6,870.14 1330.0,869.79 C1405.4,869.45 1498.8,869.10 1532.6,868.96" fill="none" stroke="#3366CC" stroke-width="1.7" stroke-linejoin="round"/></svg>
<div class="t" style="left:71px;top:805px;font-size:11px;line-height:12px;font-weight:bold;color:#fff;">System Load Average (system.load)</div>
<div class="t" style="left:-933px;width:1000px;text-align:right;top:898px;font-size:10px;line-height:11px;font-weight:bold;color:#fff;">5.00</div>
<div class="t" style="left:-933px;width:1000px;text-align:right;top:877px;font-size:10px;line-height:11px;font-weight:bold;color:#fff;">6.00</div>
<div class="t" style="left:-933px;width:1000px;text-align:right;top:856px;font-size:10px;line-height:11px;font-weight:bold;color:#fff;">7.00</div>
<div class="t" style="left:-933px;width:1000px;text-align:right;top:835px;font-size:10px;line-height:11px;font-weight:bold;color:#fff;">8.00</div>
<div class="t" style="left:-29px;top:866.5px;width:100px;height:11px;line-height:11px;font-size:10px;color:#fff;text-align:center;transform:rotate(-90deg);">load</div>
<div class="t" style="left:-361.5px;width:1000px;text-align:center;top:914px;font-size:10px;line-height:11px;font-weight:bold;color:#fff;">20:36:00</div>
<div class="t" style="left:-279.45px;width:1000px;text-align:center;top:914px;font-size:10px;line-height:11px;font-weight:bold;color:#fff;">20:36:30</div>
<div class="t" style="left:-197.39999999999998px;width:1000px;text-align:center;top:914px;font-size:10px;line-height:11px;font-weight:bold;color:#fff;">20:37:00</div>
<div class="t" style="left:-115.35000000000002px;width:1000px;text-align:center;top:914px;font-size:10px;line-height:11px;font-weight:bold;color:#fff;">20:37:30</div>
<div class="t" style="left:-33.30000000000001px;width:1000px;text-align:center;top:914px;font-size:10px;line-height:11px;font-weight:bold;color:#fff;">20:38:00</div>
<div class="t" style="left:48.75px;width:1000px;text-align:center;top:914px;font-size:10px;line-height:11px;font-weight:bold;color:#fff;">20:38:30</div>
<div class="t" style="left:130.79999999999995px;width:1000px;text-align:center;top:914px;font-size:10px;line-height:11px;font-weight:bold;color:#fff;">20:39:00</div>
<div class="t" style="left:212.85000000000002px;width:1000px;text-align:center;top:914px;font-size:10px;line-height:11px;font-weight:bold;color:#fff;">20:39:30</div>
<div class="t" style="left:294.9px;width:1000px;text-align:center;top:914px;font-size:10px;line-height:11px;font-weight:bold;color:#fff;">20:40:00</div>
<div class="t" style="left:376.94999999999993px;width:1000px;text-align:center;top:914px;font-size:10px;line-height:11px;font-weight:bold;color:#fff;">20:40:30</div>
<div class="t" style="left:459.0px;width:1000px;text-align:center;top:914px;font-size:10px;line-height:11px;font-weight:bold;color:#fff;">20:41:00</div>
<div class="t" style="left:541.05px;width:1000px;text-align:center;top:914px;font-size:10px;line-height:11px;font-weight:bold;color:#fff;">20:41:30</div>
<div class="t" style="left:623.0999999999999px;width:1000px;text-align:center;top:914px;font-size:10px;line-height:11px;font-weight:bold;color:#fff;">20:42:00</div>
<div class="t" style="left:705.1499999999999px;width:1000px;text-align:center;top:914px;font-size:10px;line-height:11px;font-weight:bold;color:#fff;">20:42:30</div>
<div class="t" style="left:787.2px;width:1000px;text-align:center;top:914px;font-size:10px;line-height:11px;font-weight:bold;color:#fff;">20:43:00</div>
<div class="t" style="left:869.25px;width:1000px;text-align:center;top:914px;font-size:10px;line-height:11px;font-weight:bold;color:#fff;">20:43:30</div>
<div class="t" style="left:951.3px;width:1000px;text-align:center;top:914px;font-size:10px;line-height:11px;font-weight:bold;color:#fff;">20:44:00</div>
<div class="t" style="left:1538px;top:806px;font-size:10px;line-height:11px;font-weight:normal;color:#fff;">man. 23. sep. 2019</div>
<div class="t" style="left:1538px;top:820px;font-size:11px;line-height:12px;font-weight:bold;color:#fff;">20:44:30</div>
<div class="t" style="left:668px;width:1000px;text-align:right;top:835px;font-size:11px;line-height:12px;font-weight:bold;color:#fff;">load</div>
<div style="position:absolute;left:1538px;top:854px;width:13px;height:5px;background:#66AA00;"></div>
<div class="t" style="left:1554px;top:849px;font-size:11px;line-height:12px;font-weight:bold;color:#66AA00;">load1</div>
<div class="t" style="left:668px;width:1000px;text-align:right;top:849px;font-size:11px;line-height:12px;font-weight:bold;color:#66AA00;">7.87</div>
<div style="position:absolute;left:1538px;top:868px;width:13px;height:5px;background:#FE3912;"></div>
<div class="t" style="left:1554px;top:863px;font-size:11px;line-height:12px;font-weight:bold;color:#FE3912;">load5</div>
<div class="t" style="left:668px;width:1000px;text-align:right;top:863px;font-size:11px;line-height:12px;font-weight:bold;color:#FE3912;">6.96</div>
<div style="position:absolute;left:1538px;top:882px;width:13px;height:5px;background:#3366CC;"></div>
<div class="t" style="left:1554px;top:877px;font-size:11px;line-height:12px;font-weight:bold;color:#3366CC;">load15</div>
<div class="t" style="left:668px;width:1000px;text-align:right;top:877px;font-size:11px;line-height:12px;font-weight:bold;color:#3366CC;">6.54</div>
<svg style="left:0;top:0" width="1" height="1"><path d="M1551,918 L1557,913.5 L1557,922.5 Z M1557,918 L1563,913.5 L1563,922.5 Z" fill="#fff"/><path d="M1570,912.5 L1580,918 L1570,923.5 Z" fill="#fff"/><path d="M1587,913.5 L1593,918 L1587,922.5 Z M1593,913.5 L1599,918 L1593,922.5 Z" fill="#fff"/><rect x="1606" y="916.7" width="10" height="2.6" fill="#fff"/><rect x="1609.7" y="913" width="2.6" height="10" fill="#fff"/><rect x="1624" y="916.7" width="10" height="2.6" fill="#fff"/><path d="M1663,917 L1668,912 L1673,917 Z M1663,919 L1668,924 L1673,919 Z" fill="#fff"/></svg>
<div style="position:absolute;left:1698px;top:70px;width:2px;height:26px;background:#8db2c6;"></div>
<svg style="left:0;top:0" width="1" height="1"><path d="M1723,76 L1733,76 L1733,89 L1728,85.5 L1723,89 Z" fill="#8db2c6"/></svg>
<div class="t" style="left:1743px;top:75px;font-size:13px;line-height:15px;font-weight:bold;color:#8db2c6;">System Overview</div>
<div class="t" style="left:1728px;top:98px;font-size:12px;line-height:14px;font-weight:normal;color:#fff;">cpu</div>
<div class="t" style="left:1728px;top:117px;font-size:12px;line-height:14px;font-weight:normal;color:#fff;">load</div>
<div class="t" style="left:1728px;top:136px;font-size:12px;line-height:14px;font-weight:normal;color:#fff;">disk</div>
<div class="t" style="left:1728px;top:155px;font-size:12px;line-height:14px;font-weight:normal;color:#fff;">ram</div>
<div class="t" style="left:1728px;top:174px;font-size:12px;line-height:14px;font-weight:normal;color:#fff;">network</div>
<div class="t" style="left:1728px;top:193px;font-size:12px;line-height:14px;font-weight:normal;color:#fff;">processes</div>
<div class="t" style="left:1728px;top:212px;font-size:12px;line-height:14px;font-weight:normal;color:#fff;">idlejitter</div>
<div class="t" style="left:1728px;top:231px;font-size:12px;line-height:14px;font-weight:normal;color:#fff;">interrupts</div>
<div class="t" style="left:1728px;top:250px;font-size:12px;line-height:14px;font-weight:normal;color:#fff;">softirqs</div>
<div class="t" style="left:1728px;top:269px;font-size:12px;line-height:14px;font-weight:normal;color:#fff;">softnet</div>
<div class="t" style="left:1728px;top:288px;font-size:12px;line-height:14px;font-weight:normal;color:#fff;">entropy</div>
<div class="t" style="left:1728px;top:307px;font-size:12px;line-height:14px;font-weight:normal;color:#fff;">uptime</div>
<div class="t" style="left:1728px;top:326px;font-size:12px;line-height:14px;font-weight:normal;color:#fff;">ipc semaphores</div>
<div class="t" style="left:1728px;top:345px;font-size:12px;line-height:14px;font-weight:normal;color:#fff;">ipc shared memory</div>
<div class="t" style="left:1742px;top:377px;font-size:13px;line-height:15px;font-weight:normal;color:#fff;">CPUs</div>
<div class="t" style="left:1742px;top:403px;font-size:13px;line-height:15px;font-weight:normal;color:#fff;">Memory</div>
<div class="t" style="left:1742px;top:429px;font-size:13px;line-height:15px;font-weight:normal;color:#fff;">Disks</div>
<div class="t" style="left:1742px;top:455px;font-size:13px;line-height:15px;font-weight:normal;color:#fff;">BTRFS filesystem</div>
<div class="t" style="left:1742px;top:481px;font-size:13px;line-height:15px;font-weight:normal;color:#fff;">Networking Stack</div>
<div class="t" style="left:1742px;top:507px;font-size:13px;line-height:15px;font-weight:normal;color:#fff;">IPv4 Networking</div>
<div class="t" style="left:1742px;top:533px;font-size:13px;line-height:15px;font-weight:normal;color:#fff;">IPv6 Networking</div>
<div class="t" style="left:1742px;top:559px;font-size:13px;line-height:15px;font-weight:normal;color:#fff;">Network Interfaces</div>
<div class="t" style="left:1742px;top:585px;font-size:13px;line-height:15px;font-weight:normal;color:#fff;">Firewall (netfilter)</div>
<div class="t" style="left:1742px;top:611px;font-size:13px;line-height:15px;font-weight:normal;color:#fff;">Applications</div>
<div class="t" style="left:1742px;top:637px;font-size:13px;line-height:15px;font-weight:normal;color:#fff;">User Groups</div>
<div class="t" style="left:1742px;top:663px;font-size:13px;line-height:15px;font-weight:normal;color:#fff;">Users</div>
<div class="t" style="left:1746px;top:689px;font-size:13px;line-height:15px;font-weight:normal;color:#fff;">airconnect</div>
<div class="t" style="left:1746px;top:715px;font-size:13px;line-height:15px;font-weight:normal;color:#fff;">apacheguacamole</div>
<div class="t" style="left:1746px;top:741px;font-size:13px;line-height:15px;font-weight:normal;color:#fff;">apcupsd-influxdb-</div>
<div class="t" style="left:1718px;top:759px;font-size:13px;line-height:15px;font-weight:normal;color:#fff;">exporter</div>
<div class="t" style="left:1746px;top:785px;font-size:13px;line-height:15px;font-weight:normal;color:#fff;">bazarr</div>
<div class="t" style="left:1746px;top:811px;font-size:13px;line-height:15px;font-weight:normal;color:#fff;">binhex-delugevpn</div>
<div class="t" style="left:1746px;top:837px;font-size:13px;line-height:15px;font-weight:normal;color:#fff;">cloudflare-ddns-gflix</div>
<div class="t" style="left:1746px;top:863px;font-size:13px;line-height:15px;font-weight:normal;color:#fff;">cloudflare-ddns-tr</div>
<div class="t" style="left:1746px;top:889px;font-size:13px;line-height:15px;font-weight:normal;color:#fff;">code-server</div>
<div class="t" style="left:1746px;top:915px;font-size:13px;line-height:15px;font-weight:normal;color:#fff;">filebrowser</div>
<svg style="left:0;top:0" width="1" height="1"><rect x="1721.5" y="691.0" width="3.6" height="2.9" fill="#fff"/><rect x="1726.0" y="691.0" width="3.6" height="2.9" fill="#fff"/><rect x="1730.5" y="691.0" width="3.6" height="2.9" fill="#fff"/><rect x="1721.5" y="694.7" width="3.6" height="2.9" fill="#fff"/><rect x="1726.0" y="694.7" width="3.6" height="2.9" fill="#fff"/><rect x="1730.5" y="694.7" width="3.6" height="2.9" fill="#fff"/><rect x="1721.5" y="698.4" width="3.6" height="2.9" fill="#fff"/><rect x="1726.0" y="698.4" width="3.6" height="2.9" fill="#fff"/><rect x="1730.5" y="698.4" width="3.6" height="2.9" fill="#fff"/><rect x="1721.5" y="717.0" width="3.6" height="2.9" fill="#fff"/><rect x="1726.0" y="717.0" width="3.6" height="2.9" fill="#fff"/><rect x="1730.5" y="717.0" width="3.6" height="2.9" fill="#fff"/><rect x="1721.5" y="720.7" width="3.6" height="2.9" fill="#fff"/><rect x="1726.0" y="720.7" width="3.6" height="2.9" fill="#fff"/><rect x="1730.5" y="720.7" width="3.6" height="2.9" fill="#fff"/><rect x="1721.5" y="724.4" width="3.6" height="2.9" fill="#fff"/><rect x="1726.0" y="724.4" width="3.6" height="2.9" fill="#fff"/><rect x="1730.5" y="724.4" width="3.6" height="2.9" fill="#fff"/><rect x="1721.5" y="743.0" width="3.6" height="2.9" fill="#fff"/><rect x="1726.0" y="743.0" width="3.6" height="2.9" fill="#fff"/><rect x="1730.5" y="743.0" width="3.6" height="2.9" fill="#fff"/><rect x="1721.5" y="746.7" width="3.6" height="2.9" fill="#fff"/><rect x="1726.0" y="746.7" width="3.6" height="2.9" fill="#fff"/><rect x="1730.5" y="746.7" width="3.6" height="2.9" fill="#fff"/><rect x="1721.5" y="750.4" width="3.6" height="2.9" fill="#fff"/><rect x="1726.0" y="750.4" width="3.6" height="2.9" fill="#fff"/><rect x="1730.5" y="750.4" width="3.6" height="2.9" fill="#fff"/><rect x="1721.5" y="787.0" width="3.6" height="2.9" fill="#fff"/><rect x="1726.0" y="787.0" width="3.6" height="2.9" fill="#fff"/><rect x="1730.5" y="787.0" width="3.6" height="2.9" fill="#fff"/><rect x="1721.5" y="790.7" width="3.6" height="2.9" fill="#fff"/><rect x="1726.0" y="790.7" width="3.6" height="2.9" fill="#fff"/><rect x="1730.5" y="790.7" width="3.6" height="2.9" fill="#fff"/><rect x="1721.5" y="794.4" width="3.6" height="2.9" fill="#fff"/><rect x="1726.0" y="794.4" width="3.6" height="2.9" fill="#fff"/><rect x="1730.5" y="794.4" width="3.6" height="2.9" fill="#fff"/><rect x="1721.5" y="813.0" width="3.6" height="2.9" fill="#fff"/><rect x="1726.0" y="813.0" width="3.6" height="2.9" fill="#fff"/><rect x="1730.5" y="813.0" width="3.6" height="2.9" fill="#fff"/><rect x="1721.5" y="816.7" width="3.6" height="2.9" fill="#fff"/><rect x="1726.0" y="816.7" width="3.6" height="2.9" fill="#fff"/><rect x="1730.5" y="816.7" width="3.6" height="2.9" fill="#fff"/><rect x="1721.5" y="820.4" width="3.6" height="2.9" fill="#fff"/><rect x="1726.0" y="820.4" width="3.6" height="2.9" fill="#fff"/><rect x="1730.5" y="820.4" width="3.6" height="2.9" fill="#fff"/><rect x="1721.5" y="839.0" width="3.6" height="2.9" fill="#fff"/><rect x="1726.0" y="839.0" width="3.6" height="2.9" fill="#fff"/><rect x="1730.5" y="839.0" width="3.6" height="2.9" fill="#fff"/><rect x="1721.5" y="842.7" width="3.6" height="2.9" fill="#fff"/><rect x="1726.0" y="842.7" width="3.6" height="2.9" fill="#fff"/><rect x="1730.5" y="842.7" width="3.6" height="2.9" fill="#fff"/><rect x="1721.5" y="846.4" width="3.6" height="2.9" fill="#fff"/><rect x="1726.0" y="846.4" width="3.6" height="2.9" fill="#fff"/><rect x="1730.5" y="846.4" width="3.6" height="2.9" fill="#fff"/><rect x="1721.5" y="865.0" width="3.6" height="2.9" fill="#fff"/><rect x="1726.0" y="865.0" width="3.6" height="2.9" fill="#fff"/><rect x="1730.5" y="865.0" width="3.6" height="2.9" fill="#fff"/><rect x="1721.5" y="868.7" width="3.6" height="2.9" fill="#fff"/><rect x="1726.0" y="868.7" width="3.6" height="2.9" fill="#fff"/><rect x="1730.5" y="868.7" width="3.6" height="2.9" fill="#fff"/><rect x="1721.5" y="872.4" width="3.6" height="2.9" fill="#fff"/><rect x="1726.0" y="872.4" width="3.6" height="2.9" fill="#fff"/><rect x="1730.5" y="872.4" width="3.6" height="2.9" fill="#fff"/><rect x="1721.5" y="891.0" width="3.6" height="2.9" fill="#fff"/><rect x="1726.0" y="891.0" width="3.6" height="2.9" fill="#fff"/><rect x="1730.5" y="891.0" width="3.6" height="2.9" fill="#fff"/><rect x="1721.5" y="894.7" width="3.6" height="2.9" fill="#fff"/><rect x="1726.0" y="894.7" width="3.6" height="2.9" fill="#fff"/><rect x="1730.5" y="894.7" width="3.6" height="2.9" fill="#fff"/><rect x="1721.5" y="898.4" width="3.6" height="2.9" fill="#fff"/><rect x="1726.0" y="898.4" width="3.6" height="2.9" fill="#fff"/><rect x="1730.5" y="898.4" width="3.6" height="2.9" fill="#fff"/><rect x="1721.5" y="917.0" width="3.6" height="2.9" fill="#fff"/><rect x="1726.0" y="917.0" width="3.6" height="2.9" fill="#fff"/><rect x="1730.5" y="917.0" width="3.6" height="2.9" fill="#fff"/><rect x="1721.5" y="920.7" width="3.6" height="2.9" fill="#fff"/><rect x="1726.0" y="920.7" width="3.6" height="2.9" fill="#fff"/><rect x="1730.5" y="920.7" width="3.6" height="2.9" fill="#fff"/><rect x="1721.5" y="924.4" width="3.6" height="2.9" fill="#fff"/><rect x="1726.0" y="924.4" width="3.6" height="2.9" fill="#fff"/><rect x="1730.5" y="924.4" width="3.6" height="2.9" fill="#fff"/><path d="M1727,379 L1731,379 L1729.5,383 L1732,383 L1726.5,390 L1727.8,385 L1725,385 Z" fill="#fff"/><rect x="1723.3" y="404.5" width="8.6" height="12" fill="#fff"/><rect x="1721.2" y="405.0" width="1.6" height="1.2" fill="#fff"/><rect x="1732.2" y="405.0" width="1.6" height="1.2" fill="#fff"/><rect x="1721.2" y="407.5" width="1.6" height="1.2" fill="#fff"/><rect x="1732.2" y="407.5" width="1.6" height="1.2" fill="#fff"/><rect x="1721.2" y="410.0" width="1.6" height="1.2" fill="#fff"/><rect x="1732.2" y="410.0" width="1.6" height="1.2" fill="#fff"/><rect x="1721.2" y="412.5" width="1.6" height="1.2" fill="#fff"/><rect x="1732.2" y="412.5" width="1.6" height="1.2" fill="#fff"/><rect x="1721.2" y="415.0" width="1.6" height="1.2" fill="#fff"/><rect x="1732.2" y="415.0" width="1.6" height="1.2" fill="#fff"/><path d="M1720.5,437 L1723.5,431.5 L1731.5,431.5 L1734.5,437 Z" fill="#fff"/><rect x="1720" y="436.5" width="15" height="5.5" rx="0.8" fill="#fff"/><rect x="1729.5" y="438.5" width="1.3" height="1.3" fill="#33424a"/><rect x="1732" y="438.5" width="1.3" height="1.3" fill="#33424a"/><path d="M1721,457 L1726,457 L1727,458.5 L1733,458.5 L1733,461 L1724,461 L1721,468 Z M1724.5,462 L1736,462 L1733,468 L1722,468 Z" fill="#fff"/><path d="M1724,494 A3,3 0 0 1 1723.5,488 A4,4 0 0 1 1731,486 A3.5,3.5 0 0 1 1735,490 A2.5,2.5 0 0 1 1734,494 Z" fill="#fff"/><path d="M1724,520 A3,3 0 0 1 1723.5,514 A4,4 0 0 1 1731,512 A3.5,3.5 0 0 1 1735,516 A2.5,2.5 0 0 1 1734,520 Z" fill="#fff"/><path d="M1724,546 A3,3 0 0 1 1723.5,540 A4,4 0 0 1 1731,538 A3.5,3.5 0 0 1 1735,542 A2.5,2.5 0 0 1 1734,546 Z" fill="#fff"/><rect x="1726" y="561" width="5" height="3.5" fill="#fff"/><rect x="1728" y="564" width="1" height="2.5" fill="#fff"/><rect x="1723" y="566" width="11" height="1" fill="#fff"/><rect x="1723" y="566" width="1" height="2.5" fill="#fff"/><rect x="1733" y="566" width="1" height="2.5" fill="#fff"/><rect x="1728" y="566" width="1" height="2.5" fill="#fff"/><rect x="1721" y="568.5" width="4.5" height="3.5" fill="#fff"/><rect x="1726.3" y="568.5" width="4.5" height="3.5" fill="#fff"/><rect x="1731.5" y="568.5" width="4.5" height="3.5" fill="#fff"/><path d="M1728,587 L1733,589 C1733,594 1731,597 1728,598.5 C1725,597 1723,594 1723,589 Z" fill="#fff"/><path d="M1728,589 L1731.2,590.2 C1731,593.5 1730,595.5 1728,596.5 Z" fill="#2f3d44"/><path d="M1728,624 L1722.5,618.5 C1720.5,616 1722.5,612.5 1725,613 C1726.5,613.2 1727.5,614 1728,615 C1728.5,614 1729.5,613.2 1731,613 C1733.5,612.5 1735.5,616 1733.5,618.5 Z" fill="#fff"/><path d="M1721,618.5 L1725,618.5 L1726.3,616.2 L1728.2,621 L1729.8,617.8 L1735.5,617.8" fill="none" stroke="#33424a" stroke-width="1.1"/><circle cx="1728" cy="642.5" r="2.3" fill="#fff"/><circle cx="1723.5" cy="642" r="1.7" fill="#fff"/><circle cx="1732.5" cy="642" r="1.7" fill="#fff"/><path d="M1724.5,649 Q1724.5,645 1728,645 Q1731.5,645 1731.5,649 Z M1721,648 Q1721,644.5 1723.5,644.5 L1724.5,644.7 L1723.5,648 Z M1735,648 Q1735,644.5 1732.5,644.5 L1731.5,644.7 L1732.5,648 Z" fill="#fff"/><circle cx="1728" cy="668" r="3" fill="#fff"/><path d="M1722,676 Q1722,671 1726,671 L1730,671 Q1734,671 1734,676 Z" fill="#fff"/></svg>
<div style="position:absolute;left:1884px;top:50px;width:5px;height:342px;border-radius:3px;background:rgba(255,255,255,0.06);"></div>
<div id="sb"><div style="position:absolute;left:0;top:0;width:1px;height:947px;background:#e8e8e8"></div><div style="position:absolute;left:2px;top:17px;width:13px;height:17px;background:#c1c1c1"></div></div>
<svg style="left:0;top:0" width="1" height="1"><path d="M1905.5,11 L1909.5,7 L1913.5,11 Z" fill="#a3a3a3"/><path d="M1905.5,936 L1909.5,940 L1913.5,936 Z" fill="#505050"/></svg>
</body></html>
